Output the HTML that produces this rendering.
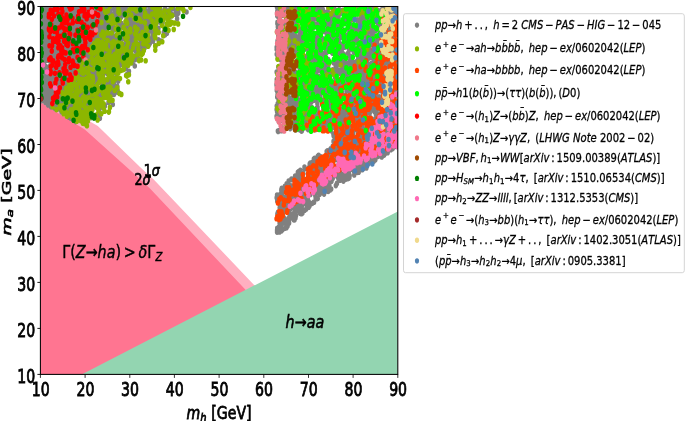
<!DOCTYPE html>
<html lang="en"><head><meta charset="utf-8"><title>Exclusion plot</title>
<style>html,body{margin:0;padding:0;background:#fff}svg{display:block}</style></head>
<body>
<svg width="685" height="421" viewBox="0 0 685 421" font-family="'DejaVu Sans', 'Liberation Sans', sans-serif">
<rect width="685" height="421" fill="#fff"/>
<defs><clipPath id="ax"><rect x="40.4" y="6.5" width="357.4" height="367.9"/></clipPath></defs>
<g clip-path="url(#ax)">
<polygon points="40.4,93.0 97.8,125.9 140.0,166.9 154.2,180.0 254.3,285.2 264.3,295.7 120.0,374.4 40.4,374.4" fill="#ffafc0"/>
<polygon points="40.4,102.3 84.8,129.5 129.9,170.0 150.0,188.5 245.5,289.8 255.5,300.4 120.0,374.4 40.4,374.4" fill="#ff7591"/>
<polygon points="81.6,374.4 397.8,211.6 397.8,374.4" fill="#93d5b1"/>
<g fill="none" stroke-width="5.6" stroke-linecap="round" transform="scale(0.800,1)">
<path d="M199.4 16.2h0M93.7 30.9h0M108.1 77.5h0M51.5 100.3h0M108.7 67.1h0M104.0 50.2h0M99.4 32.4h0M136.0 42.1h0M147.4 49.9h0M156.8 50.6h0M170.0 19.8h0M91.8 74.0h0M81.3 17.7h0M168.1 46.5h0M58.9 37.5h0M57.4 25.3h0M149.4 65.4h0M140.0 28.6h0M149.2 59.1h0M145.9 89.0h0M98.0 64.0h0M52.8 68.2h0M87.4 44.4h0M89.0 65.4h0M121.5 48.3h0M80.2 33.2h0M101.9 48.5h0M68.1 108.1h0M154.4 36.0h0M119.9 54.2h0M165.4 23.9h0M61.9 81.0h0M124.9 32.0h0M112.5 51.4h0M79.3 73.3h0M123.4 24.1h0M173.0 11.7h0M79.5 9.4h0M135.0 74.1h0M96.5 20.7h0M69.1 50.6h0M91.8 37.9h0M179.5 15.3h0M108.2 28.5h0M177.6 26.3h0M75.8 30.5h0M78.4 72.6h0M87.5 93.7h0M85.2 10.5h0M173.7 10.0h0M122.7 14.0h0M96.5 24.5h0M112.4 40.0h0M55.3 46.7h0M122.0 38.0h0M56.3 38.1h0M74.1 8.0h0M176.8 14.9h0M132.7 30.3h0M151.1 16.7h0M116.6 71.4h0M79.5 69.8h0M51.5 76.4h0M76.8 12.7h0M130.9 13.8h0M171.2 12.3h0M149.0 7.2h0M94.0 23.0h0M88.6 75.3h0M120.2 88.0h0M84.9 7.9h0M115.8 49.7h0M102.6 48.4h0M135.8 6.5h0M149.5 38.7h0M150.6 50.1h0M63.7 18.5h0M133.1 7.8h0M98.7 19.1h0M114.4 45.3h0M127.0 31.3h0M89.5 84.5h0M91.4 16.5h0M72.1 15.9h0M164.7 40.2h0M85.8 30.0h0M62.4 40.3h0M129.5 18.5h0M190.7 16.7h0M72.2 71.6h0M59.5 18.4h0M56.3 52.0h0M54.4 77.2h0M98.2 51.8h0M86.5 29.2h0M159.4 41.0h0M58.0 36.6h0M163.9 25.1h0M82.4 48.5h0M180.7 36.8h0M54.5 69.0h0M153.9 25.7h0M167.8 24.8h0M87.2 71.7h0M160.8 30.7h0M58.1 51.0h0M60.2 72.7h0M115.5 78.3h0M111.6 46.7h0M170.8 47.0h0M110.7 91.5h0M75.3 24.9h0M88.4 54.0h0M173.1 34.8h0M167.5 35.7h0M177.4 50.7h0M171.8 19.6h0M208.7 33.2h0M113.3 38.8h0M81.5 99.0h0M175.5 43.0h0M91.7 114.2h0M123.3 22.3h0M99.0 46.5h0M138.1 23.0h0M69.9 74.8h0M123.6 11.5h0M122.9 23.4h0M121.9 64.0h0M91.8 78.2h0M98.0 62.7h0M113.8 81.1h0M66.2 83.0h0M161.7 24.4h0M108.0 7.5h0M197.0 6.4h0M75.7 37.6h0M76.1 78.3h0M75.6 67.7h0M102.2 20.1h0M109.3 25.8h0M86.4 62.2h0M134.0 91.0h0M187.0 8.4h0M69.1 73.5h0M121.7 35.1h0M62.8 42.8h0M150.1 61.3h0M87.1 107.2h0M101.6 61.3h0M153.4 11.9h0M85.9 32.2h0M174.2 22.9h0M126.3 96.8h0M173.6 19.5h0M85.9 58.4h0M196.3 14.4h0M196.0 8.1h0M135.9 41.4h0M123.1 114.1h0M131.1 7.7h0M56.9 85.8h0M124.9 67.8h0M155.7 36.5h0M123.7 12.5h0M124.9 22.9h0M77.0 95.4h0M78.9 42.4h0M187.3 25.9h0M74.2 42.5h0M68.1 98.9h0M84.4 27.6h0M136.2 72.4h0M87.1 101.6h0M92.2 73.4h0M63.5 12.3h0M56.8 60.4h0M110.8 56.0h0M110.4 72.4h0M137.9 92.9h0M97.8 39.2h0M126.2 24.2h0M94.1 14.8h0M74.5 39.1h0M56.8 20.7h0M147.1 90.4h0M74.1 91.2h0M84.4 81.6h0M85.8 38.0h0M101.5 8.0h0M151.7 45.6h0M104.8 76.7h0M149.6 28.3h0M126.5 51.8h0M202.3 13.8h0M84.9 78.8h0M76.7 40.7h0M72.2 11.6h0M94.8 110.5h0M90.4 95.1h0M58.3 76.3h0M111.0 38.0h0M165.7 30.9h0M63.2 31.4h0M95.9 19.7h0M139.8 35.5h0M196.6 11.8h0M191.8 33.4h0M108.4 74.8h0M82.7 27.7h0M82.3 113.1h0M113.8 60.2h0M80.3 8.6h0M68.1 48.0h0M161.0 57.0h0M104.6 30.1h0M133.7 50.8h0M130.2 64.7h0M114.8 73.1h0M90.6 96.5h0M156.4 33.7h0M63.0 42.8h0M53.5 50.8h0M140.5 7.7h0M188.8 10.1h0M151.0 15.6h0M190.8 31.4h0M66.8 41.4h0M58.1 54.1h0M137.4 8.0h0M64.7 19.3h0M88.0 96.4h0M88.5 118.2h0M194.6 11.7h0M156.8 35.9h0M139.9 14.2h0M169.6 50.5h0M180.7 6.5h0M157.7 13.5h0M123.5 32.0h0M147.2 60.0h0M115.4 52.5h0M123.6 22.0h0M201.3 41.0h0M136.4 13.7h0M57.1 66.3h0M125.3 80.3h0M157.6 40.1h0M162.6 42.9h0M131.3 34.6h0M85.7 50.2h0M106.7 96.8h0M106.7 26.4h0M118.2 39.7h0M136.4 21.2h0M121.9 54.4h0M162.1 51.9h0M122.9 36.6h0M101.7 106.0h0M145.3 56.2h0M182.1 21.8h0M110.6 92.6h0M145.4 9.3h0M88.5 92.1h0M131.2 33.9h0M141.4 27.1h0M122.2 26.2h0M89.2 28.7h0M111.3 23.7h0M61.4 85.5h0M136.0 47.5h0M62.5 66.0h0M97.8 109.6h0M122.8 68.1h0M172.8 22.5h0M142.0 40.7h0M151.2 56.0h0M89.5 31.6h0M106.0 34.3h0M109.3 16.8h0M99.7 69.4h0M63.5 104.2h0M131.7 55.7h0M88.0 106.7h0M76.8 19.9h0M112.2 41.0h0M169.7 35.4h0M116.5 15.8h0M99.8 45.4h0M135.2 34.0h0M76.6 16.6h0M77.0 59.2h0M83.9 77.2h0M104.9 37.9h0M55.5 51.2h0M85.8 16.5h0M82.2 14.5h0M169.0 20.3h0M128.5 45.4h0M130.7 28.4h0M207.3 13.5h0M178.8 37.3h0M165.8 46.0h0M198.8 21.8h0M91.6 22.7h0M72.5 15.4h0M111.0 59.1h0M56.7 49.8h0M168.0 45.9h0M167.2 42.1h0M115.0 40.1h0M149.0 21.1h0M54.1 37.5h0M189.5 20.7h0M131.3 11.8h0M115.1 100.9h0M75.9 53.4h0M85.9 11.6h0M108.9 105.8h0M136.4 41.4h0M104.0 8.4h0M223.0 10.3h0M127.9 75.4h0M51.1 71.7h0M97.6 22.2h0M77.9 13.9h0M91.3 36.7h0M101.9 28.1h0M102.1 56.6h0M73.1 11.8h0M149.6 65.3h0M57.3 35.4h0M156.1 47.5h0M213.1 9.5h0M66.7 15.9h0M103.2 10.1h0M110.6 15.7h0M106.7 91.4h0M172.5 20.4h0M123.1 63.5h0M184.6 41.6h0M124.9 16.7h0M55.6 85.9h0M104.0 45.0h0M105.8 33.5h0M109.2 85.2h0M65.3 52.8h0M92.6 73.2h0M102.6 55.1h0M83.7 16.0h0M139.9 91.4h0M102.9 22.8h0M160.4 43.8h0M147.8 46.1h0M64.9 28.7h0M74.5 38.7h0M164.7 12.1h0M51.6 12.2h0M150.7 14.6h0M121.3 70.0h0M64.6 30.0h0M101.4 81.2h0M140.7 29.2h0M137.5 72.6h0M58.5 14.5h0M125.8 34.8h0M79.9 75.8h0M66.2 10.1h0M112.6 36.8h0M163.6 6.7h0M156.2 62.6h0M88.5 10.7h0M82.4 76.3h0M127.9 41.1h0M102.3 23.8h0M122.0 44.9h0M154.5 49.6h0M182.3 15.9h0M71.0 37.9h0M69.9 74.2h0M98.4 85.8h0M83.8 15.8h0M59.0 38.5h0M114.3 97.0h0M87.5 47.6h0M64.0 44.8h0M83.4 91.5h0M134.5 71.6h0M77.6 56.7h0M118.4 89.5h0M72.8 94.1h0M110.2 44.8h0M81.7 82.1h0M82.3 42.1h0M77.2 7.6h0M105.1 18.7h0M60.6 91.5h0M92.1 53.1h0M75.5 108.9h0M118.9 90.7h0M163.2 49.5h0M104.4 78.5h0M57.0 92.2h0M114.1 52.5h0M99.6 110.2h0M128.6 14.3h0M99.1 51.5h0M77.3 111.0h0M134.6 73.7h0M78.5 77.7h0M141.8 55.2h0M75.8 52.8h0M75.2 93.4h0M70.3 97.7h0M68.3 108.0h0M114.2 76.1h0M56.8 102.5h0M167.9 8.4h0M63.4 7.9h0M138.6 47.1h0M80.6 83.7h0M101.6 48.5h0M137.5 65.8h0M122.1 44.8h0M122.5 50.7h0M141.0 104.5h0M124.6 16.4h0M62.2 35.8h0M158.9 17.1h0M94.7 98.1h0M95.4 111.8h0M103.9 42.2h0M108.9 20.3h0M122.3 9.2h0M112.6 34.8h0M172.7 35.3h0M86.3 101.7h0M70.9 60.6h0M107.4 110.1h0M128.1 40.1h0M161.5 49.9h0M99.2 83.6h0M117.4 78.0h0M80.1 43.7h0M186.2 20.9h0M65.9 97.6h0M89.4 40.2h0M99.2 13.0h0M89.0 8.9h0M105.5 39.8h0M166.7 31.6h0M58.6 49.2h0M150.6 17.4h0M166.0 31.5h0M115.0 110.7h0M113.5 113.6h0M51.3 56.0h0M57.3 21.6h0M156.1 39.2h0M65.1 89.3h0M89.4 56.3h0M114.5 76.4h0M64.0 97.0h0M56.4 87.4h0M134.1 16.6h0M89.8 42.7h0M186.5 10.2h0M52.3 70.4h0M97.5 81.9h0M222.9 12.9h0M68.4 26.7h0M111.6 30.0h0M55.9 53.1h0M55.4 50.5h0M74.7 93.6h0M69.8 56.0h0M80.4 23.3h0M114.4 59.0h0M67.1 41.2h0M155.5 38.6h0M169.1 59.6h0M69.8 76.0h0M100.5 26.5h0M173.5 17.7h0M53.4 35.1h0M63.3 15.3h0M137.4 54.2h0M84.5 80.8h0M57.3 47.5h0M97.4 107.3h0M127.8 86.2h0M110.3 58.8h0M52.1 70.5h0M135.5 83.3h0M88.8 14.4h0M187.3 13.3h0M111.3 35.6h0M104.3 85.7h0M147.3 55.7h0M69.0 45.7h0M59.3 49.2h0M161.7 17.1h0M61.0 11.9h0M148.7 46.0h0M134.1 23.4h0M74.5 10.5h0M79.6 109.4h0M128.7 21.7h0M190.6 36.1h0M161.1 30.6h0M87.8 75.9h0M140.9 44.4h0M132.8 27.6h0M61.4 23.2h0M99.0 43.0h0M54.0 14.7h0M123.7 95.7h0M107.3 101.6h0M83.7 27.9h0M139.9 61.4h0M105.7 97.4h0M114.6 34.6h0M60.9 93.2h0M123.3 26.3h0M100.1 24.8h0M69.2 85.6h0M84.7 86.0h0M89.4 93.2h0M89.0 33.4h0M150.2 57.0h0M106.3 40.1h0M75.1 8.0h0M77.7 47.0h0M53.0 90.0h0M101.1 51.7h0M76.3 84.6h0M86.7 58.5h0M131.6 62.5h0M90.0 77.2h0M127.1 30.1h0M97.8 110.9h0M109.9 82.9h0M126.2 59.5h0M68.6 60.4h0M76.8 86.6h0M56.1 14.9h0M108.3 19.3h0M53.4 49.9h0M91.5 15.8h0M67.1 27.3h0M164.2 57.7h0M111.6 33.2h0M71.4 102.5h0M206.2 35.0h0M158.4 40.0h0M76.9 112.0h0M154.5 65.2h0M132.7 42.6h0M125.4 43.4h0M148.6 61.3h0M72.4 84.1h0M158.7 74.5h0M99.8 39.1h0M131.9 80.1h0M149.6 26.7h0M139.8 25.0h0M105.2 101.1h0M111.2 13.3h0M166.6 48.2h0M64.7 51.8h0M145.9 43.0h0M60.0 8.6h0M155.9 31.9h0M86.1 38.3h0M109.0 52.6h0M113.6 25.6h0M159.9 34.2h0M122.0 62.2h0M73.3 33.0h0M106.9 91.8h0M106.0 35.8h0M66.4 14.8h0M73.3 88.1h0M194.5 45.8h0M78.8 34.0h0M149.1 49.7h0M107.5 88.8h0M61.8 21.4h0M138.8 8.1h0M69.2 26.9h0M162.3 22.3h0M61.5 101.6h0M187.9 20.2h0M88.3 56.4h0M101.5 70.2h0M112.9 117.0h0M171.0 13.4h0M87.6 73.1h0M120.0 88.3h0M176.3 44.0h0M106.2 25.7h0M67.2 26.7h0M139.3 85.1h0M135.0 41.6h0M124.3 47.3h0M162.3 30.2h0M115.4 99.6h0M128.9 59.9h0M168.3 25.6h0M143.7 54.2h0M75.0 36.0h0M107.6 13.4h0M213.2 6.4h0M167.5 36.1h0M67.2 89.4h0M63.2 56.6h0M108.7 66.2h0M75.1 14.6h0M74.5 15.0h0M97.9 18.3h0M128.8 44.0h0M81.4 95.0h0M142.1 81.7h0M145.0 55.2h0M67.2 84.4h0M148.6 33.8h0M100.7 82.8h0M112.0 97.1h0M66.8 11.3h0M90.2 10.1h0M66.6 82.6h0M106.8 109.2h0M99.7 57.8h0M50.6 73.5h0M124.9 118.3h0M62.0 87.9h0M119.3 76.0h0M69.5 76.7h0M76.8 22.5h0M124.3 98.8h0M150.7 55.3h0M105.0 119.9h0M120.4 62.9h0M113.3 115.3h0M86.2 117.2h0M221.4 18.7h0M165.3 22.5h0M58.7 86.6h0M68.1 75.7h0M60.2 104.9h0M147.3 18.7h0M59.4 7.9h0M95.9 83.4h0M74.2 68.2h0M60.1 15.3h0M83.4 65.7h0M188.5 14.0h0M117.2 40.5h0M65.0 93.0h0M53.8 47.0h0M138.8 35.0h0M150.8 58.4h0M168.5 66.0h0M125.8 81.8h0M140.1 22.2h0M129.8 87.7h0M120.7 27.3h0M104.5 79.6h0M97.0 22.8h0M79.0 111.0h0M135.0 70.8h0M106.8 66.0h0M211.2 16.0h0M116.5 69.5h0M157.0 52.4h0M135.7 72.3h0M203.3 20.4h0M172.4 7.3h0M113.1 41.2h0M101.2 75.2h0M148.2 53.9h0M62.2 85.2h0M176.9 27.8h0M66.6 11.6h0M161.1 27.5h0M169.0 47.4h0M136.3 69.4h0M93.7 19.7h0M139.6 49.7h0M193.6 16.6h0M120.4 80.5h0M67.4 61.7h0M154.7 25.7h0M100.7 17.3h0M184.4 41.7h0M123.4 37.5h0M112.3 11.4h0M144.3 46.9h0M152.4 26.8h0M183.8 32.4h0M180.7 25.6h0M124.2 8.7h0M180.5 28.1h0M116.8 42.5h0M167.1 26.4h0M138.7 79.8h0M92.7 103.0h0M64.7 84.4h0M118.6 98.4h0M70.7 70.6h0M74.9 97.3h0M221.7 14.1h0M74.0 109.0h0M120.0 10.5h0M73.1 79.0h0M111.7 107.7h0M103.4 13.1h0M120.2 11.1h0M77.4 85.1h0M161.8 16.2h0M105.8 11.3h0M76.2 13.9h0M106.6 120.3h0M167.9 30.6h0M93.0 16.5h0M121.6 6.7h0M126.4 58.6h0M54.8 17.5h0M135.7 27.1h0M203.7 16.0h0M95.4 8.3h0M179.7 37.9h0M139.7 47.5h0M86.8 36.1h0M67.8 98.6h0M95.5 71.2h0M204.2 35.5h0M86.4 63.5h0M184.4 25.9h0M179.6 11.7h0M149.8 33.4h0M115.4 82.3h0M113.3 111.5h0M80.3 107.3h0M121.3 92.7h0M131.4 52.1h0M214.0 13.6h0M181.1 15.0h0M92.3 22.2h0M148.0 9.0h0M125.9 26.7h0M67.0 13.6h0M216.7 8.1h0M135.2 42.6h0M118.3 7.0h0M147.6 10.6h0M87.9 13.5h0M109.1 71.3h0M114.9 84.1h0M94.4 79.4h0M77.1 33.6h0M88.4 94.9h0M70.9 40.3h0M70.4 30.7h0M117.5 98.5h0M153.5 50.1h0M78.6 14.6h0M81.1 43.9h0M86.9 66.4h0M70.0 109.0h0M52.7 15.0h0M187.8 16.8h0M99.8 50.1h0M138.3 79.9h0M180.3 12.1h0M63.8 82.1h0M95.5 35.2h0M70.2 82.6h0M88.0 90.3h0M98.1 99.4h0M111.1 27.0h0M135.1 18.6h0M106.8 34.5h0M65.0 47.5h0M103.6 105.2h0M180.3 20.6h0M174.5 34.7h0M70.7 106.2h0M85.2 15.2h0M109.8 70.4h0M104.6 94.1h0M107.6 96.2h0M204.7 32.4h0M117.5 41.8h0M118.7 39.2h0M172.1 27.9h0M115.9 50.5h0M87.1 41.2h0M76.9 100.0h0M63.3 101.7h0M137.2 50.9h0M86.6 36.5h0M153.2 55.5h0M66.0 22.4h0M62.6 89.0h0M88.9 84.1h0M130.2 69.5h0M54.6 48.7h0M70.4 68.6h0M101.8 70.8h0M93.0 14.4h0M215.3 6.2h0M208.7 17.2h0M112.3 59.8h0M55.2 51.4h0M176.6 22.6h0M144.4 51.6h0M139.0 6.6h0M101.2 63.8h0M142.8 47.1h0M114.9 37.1h0M77.6 67.2h0M82.1 70.8h0M102.4 35.0h0M122.0 47.1h0M51.0 34.3h0M103.5 14.2h0M65.7 73.1h0M111.1 56.9h0M112.5 6.8h0M94.7 77.6h0M157.8 22.6h0M93.2 55.7h0M81.4 35.6h0M91.9 23.2h0M123.3 23.2h0M114.1 81.9h0M62.2 14.6h0M128.5 71.0h0M105.6 100.7h0M124.3 88.8h0M114.3 7.4h0M122.9 59.3h0M169.4 36.1h0M146.0 69.6h0M88.4 24.8h0M203.2 22.7h0M187.5 18.1h0M213.5 14.2h0M80.7 63.7h0M99.4 53.3h0M100.0 110.8h0M73.6 45.0h0M126.7 31.5h0M54.3 23.8h0M75.2 24.1h0M57.4 98.2h0M87.6 20.2h0M101.9 25.0h0M139.2 16.9h0M83.6 47.2h0M116.5 23.9h0M152.5 11.5h0M97.8 18.2h0M189.1 29.5h0M63.6 92.3h0M102.8 74.7h0M133.9 39.5h0M149.9 57.5h0M98.1 112.8h0M101.4 110.8h0M120.3 76.2h0M134.5 23.3h0M137.3 11.6h0M89.2 117.1h0M119.3 26.3h0M60.8 86.2h0M86.3 13.6h0M130.8 88.5h0M122.2 9.3h0M82.6 55.8h0M53.9 28.5h0M94.6 121.6h0M149.3 25.2h0M55.0 32.2h0M102.1 67.8h0M106.2 42.1h0M94.2 45.2h0M59.5 30.9h0M130.5 10.8h0M80.0 7.6h0M88.2 51.3h0M81.6 77.7h0M89.2 102.0h0M99.4 78.3h0M142.5 46.7h0M139.4 15.8h0M128.4 16.4h0M81.4 21.9h0M107.2 85.8h0M101.4 96.4h0M98.2 15.1h0M200.8 9.8h0M72.4 46.1h0M89.9 47.9h0M151.6 12.4h0M110.5 18.0h0M96.6 31.2h0M122.2 7.7h0M146.9 24.3h0M180.0 9.2h0M137.2 80.6h0M130.3 63.8h0M96.4 29.2h0M233.2 12.0h0M63.7 28.9h0M104.0 81.7h0M129.1 107.5h0M165.0 35.8h0M68.0 105.1h0M70.3 40.3h0M126.2 41.5h0M95.3 26.6h0M56.6 20.8h0M137.2 40.8h0M62.6 26.3h0M52.1 96.4h0M113.0 44.9h0M89.5 75.8h0M53.1 44.9h0M65.1 79.1h0M121.5 41.8h0M113.2 66.5h0M169.5 25.5h0M117.2 56.7h0M67.1 20.6h0M95.0 78.1h0M109.7 51.5h0M116.2 98.1h0M88.2 38.8h0M58.8 35.6h0M116.3 83.2h0M92.4 108.5h0M138.4 7.2h0M51.8 49.1h0M107.2 32.2h0M68.9 32.8h0M164.2 20.4h0M157.2 25.3h0M183.7 16.4h0M109.4 45.6h0M96.7 85.5h0M106.5 25.1h0M84.2 19.0h0M144.6 29.5h0M104.4 42.3h0M117.6 18.5h0M116.1 62.4h0M107.6 52.3h0M72.4 98.2h0M103.9 51.9h0M150.6 52.1h0M91.6 68.1h0M66.5 75.6h0M134.8 49.6h0M188.7 7.1h0M53.8 20.2h0M98.0 36.5h0M106.6 37.6h0M114.4 65.3h0M139.4 57.2h0M210.7 19.8h0M119.1 41.6h0M140.5 37.5h0M124.3 8.0h0M173.3 9.2h0M114.1 58.6h0M71.8 49.5h0M57.7 98.5h0M152.5 13.3h0M74.6 30.1h0M133.6 60.9h0M187.4 24.3h0M153.8 52.6h0M60.0 74.3h0M114.6 94.9h0M51.6 51.1h0M95.0 55.7h0M114.2 7.1h0M71.3 35.6h0M132.5 66.4h0M105.1 88.8h0M119.7 75.9h0M140.7 67.5h0M131.7 66.5h0M157.5 49.5h0M101.8 14.8h0M97.6 55.7h0M67.6 67.8h0M209.3 13.4h0M192.0 21.5h0M63.2 28.4h0M139.5 25.8h0M208.8 10.8h0M57.3 97.0h0M106.4 64.8h0M102.3 40.7h0M97.5 109.4h0M98.5 16.8h0M172.4 6.3h0M124.6 19.8h0M199.5 9.4h0M142.5 82.2h0M75.0 56.5h0M82.4 25.9h0M145.9 8.9h0M78.5 79.0h0M78.4 29.2h0M121.0 31.0h0M136.0 101.9h0M84.4 31.9h0M145.7 59.4h0M94.8 42.1h0M81.6 21.8h0M62.8 48.1h0M175.6 40.9h0M172.2 35.1h0M135.8 26.4h0M105.1 9.2h0M151.6 39.5h0M110.5 16.2h0M96.2 81.7h0M84.5 99.6h0M99.9 68.0h0M107.9 38.6h0M160.8 27.0h0M124.1 100.4h0M92.8 93.9h0M73.9 69.6h0M63.0 66.1h0M95.0 15.2h0M145.1 15.8h0M190.4 6.8h0M158.8 28.9h0M150.6 51.1h0M115.1 27.4h0M68.3 99.8h0M89.1 104.1h0M123.9 27.9h0M80.8 78.7h0M166.6 14.3h0M118.9 34.6h0M76.1 55.7h0M100.9 22.3h0M74.0 81.2h0M53.2 100.1h0M110.6 62.3h0M148.4 44.6h0M90.8 25.7h0M90.6 47.3h0M127.7 60.8h0M58.0 69.1h0M157.9 7.7h0M119.6 34.8h0M95.4 72.7h0M85.6 13.1h0M112.6 24.6h0M51.1 89.2h0M201.4 23.1h0M178.6 20.6h0M63.9 64.3h0M110.7 88.6h0M90.9 18.8h0M72.6 62.8h0M174.5 36.6h0M67.2 67.5h0M85.0 8.5h0M197.6 21.4h0M146.5 19.4h0M167.0 36.1h0M88.5 43.9h0M72.8 53.9h0M102.3 49.0h0M72.5 73.2h0M70.9 72.5h0M193.0 11.1h0M121.7 55.3h0M90.4 86.4h0M161.9 44.3h0M58.3 35.0h0M117.0 30.6h0M189.9 26.2h0M106.0 100.4h0M71.1 87.1h0M54.8 44.3h0M183.3 14.2h0M74.7 85.0h0M151.3 17.2h0M114.9 110.9h0M147.2 92.3h0M172.6 58.3h0M146.9 30.1h0M63.2 87.6h0M73.8 93.8h0M161.5 31.7h0M191.6 9.7h0M113.9 75.6h0M140.7 34.5h0M177.5 10.1h0M55.3 93.3h0M67.5 7.5h0M84.9 53.7h0M188.1 12.5h0M135.8 59.2h0M70.2 54.1h0M122.3 53.9h0M79.3 20.9h0M100.1 14.4h0M111.5 64.0h0M161.1 56.1h0M100.4 19.8h0M122.5 72.1h0M115.7 7.1h0M124.6 47.6h0M155.0 7.3h0M77.8 61.6h0M97.1 118.7h0M79.1 92.5h0M116.9 86.9h0M120.1 22.0h0M69.0 12.3h0M67.4 12.2h0M171.4 14.6h0M107.5 74.7h0M80.3 27.0h0M147.8 81.1h0M121.0 40.7h0M81.3 60.3h0M103.4 68.7h0M85.8 69.3h0M88.4 81.1h0M160.6 23.3h0M104.2 32.6h0M97.0 27.7h0M69.4 72.1h0M112.8 88.6h0M54.6 31.7h0M143.2 47.2h0M166.2 24.0h0M60.0 86.8h0M106.9 57.9h0M83.1 65.5h0M137.1 45.7h0M83.3 32.6h0M62.7 78.5h0M148.7 58.7h0M154.9 28.3h0M143.1 60.7h0M118.2 36.3h0M98.1 65.8h0M107.5 99.0h0M60.1 19.4h0M99.5 65.4h0M52.1 30.3h0M92.9 98.5h0M144.9 38.5h0M103.3 108.9h0M105.9 84.0h0M70.7 86.5h0M86.9 54.8h0M63.2 42.9h0M124.0 66.1h0M87.3 113.9h0M115.1 99.6h0M55.0 8.2h0M64.4 87.2h0M66.6 94.7h0M100.9 33.7h0M52.3 72.0h0M67.9 76.2h0M115.9 21.7h0M68.8 19.9h0M69.7 28.5h0M181.4 25.5h0M115.1 89.4h0M123.5 49.2h0M107.5 87.7h0M62.5 54.0h0M106.4 43.4h0M131.9 24.0h0M59.3 21.1h0M93.0 112.3h0M146.2 13.9h0M113.6 75.5h0M95.8 49.7h0M175.4 10.7h0M208.2 15.7h0M101.0 89.7h0M65.6 41.3h0M130.1 66.3h0M76.7 94.5h0M196.7 6.7h0M84.0 110.0h0M108.2 36.3h0M175.6 8.1h0M79.6 32.7h0M63.2 96.5h0M53.1 49.8h0M116.3 68.9h0M168.7 50.3h0M101.9 84.9h0M125.2 19.0h0M98.9 57.8h0M84.5 63.6h0M196.5 18.5h0M93.4 74.2h0M100.1 44.6h0M136.6 12.6h0M76.7 91.0h0M102.2 51.3h0M63.9 76.7h0M122.7 23.3h0M107.2 89.3h0M75.5 102.5h0M54.3 23.0h0M107.3 11.7h0M181.7 17.6h0M87.9 13.0h0M118.5 84.1h0M135.6 17.6h0M107.3 100.6h0M176.1 44.5h0M139.8 81.9h0M104.0 87.7h0M54.2 31.5h0M79.9 52.7h0M96.0 23.7h0M141.1 53.4h0M89.1 54.8h0M129.3 22.1h0M100.9 81.5h0M214.0 15.9h0M125.6 31.5h0M105.4 72.7h0M121.0 79.5h0M123.7 81.1h0M136.5 7.2h0M159.3 57.1h0M93.0 106.3h0M101.9 31.3h0M101.7 86.1h0M100.4 95.0h0M149.5 25.3h0M135.7 48.6h0M156.2 30.0h0M73.7 13.9h0M81.2 28.4h0M141.1 85.5h0M92.2 9.2h0M159.6 27.7h0M128.3 49.1h0M83.7 25.8h0M81.4 92.4h0M193.5 36.4h0M183.8 27.9h0M57.5 39.6h0M142.5 94.5h0M102.2 40.5h0M56.3 55.4h0M115.4 53.0h0M149.1 43.7h0M87.9 49.7h0M126.8 27.5h0M189.1 17.6h0M98.7 20.8h0M219.5 11.2h0M186.1 32.1h0M166.8 39.2h0M118.8 20.3h0M93.2 20.8h0M56.5 75.0h0M126.1 68.7h0M105.1 60.0h0M172.3 37.2h0M168.5 55.9h0M122.7 36.1h0M85.3 68.9h0M52.5 85.2h0M164.6 6.6h0M97.2 11.2h0M91.9 101.6h0M100.9 9.2h0M131.9 20.9h0M72.2 31.1h0M187.1 27.8h0M171.1 25.8h0M61.9 31.9h0M97.3 70.0h0M183.8 22.8h0M100.4 107.7h0M50.9 31.7h0M88.1 33.8h0M91.3 101.3h0M64.8 69.8h0M97.9 44.9h0M163.1 30.2h0M136.9 79.4h0M94.4 62.8h0M101.3 22.1h0M89.0 51.1h0M131.3 48.4h0M169.4 36.5h0M171.6 31.6h0M110.9 91.9h0M84.4 84.5h0M84.8 82.0h0M105.7 35.5h0M138.7 65.9h0M156.4 7.9h0M70.8 82.0h0M102.7 79.9h0M176.7 11.1h0M123.3 41.5h0M131.7 17.1h0M127.7 86.3h0M87.4 111.6h0M68.5 87.6h0M112.7 9.9h0M138.2 56.6h0M170.8 43.7h0M63.3 79.8h0M124.3 107.6h0M139.7 35.3h0M86.0 100.8h0M62.1 75.5h0M129.5 69.3h0M148.1 9.5h0M92.6 44.6h0M126.6 75.9h0M98.0 90.4h0M95.4 8.3h0M150.0 36.6h0M140.2 74.5h0M60.3 59.3h0M58.9 32.9h0M79.8 44.3h0M142.6 36.5h0M173.9 11.4h0M54.2 34.9h0M97.8 60.1h0M114.0 75.8h0M93.2 51.3h0M51.0 28.4h0M92.3 56.6h0M112.2 75.6h0M134.8 22.6h0M136.4 10.8h0M101.8 52.5h0M142.0 50.0h0M114.3 92.3h0M121.6 24.2h0M225.2 6.4h0M113.6 56.3h0M67.0 70.6h0M110.7 86.2h0M73.4 87.9h0M165.6 62.8h0M79.6 81.4h0M128.4 62.9h0M53.7 20.0h0M76.4 7.4h0M99.2 69.9h0M87.1 96.8h0M162.9 15.6h0M150.1 53.5h0M64.1 86.7h0M71.9 38.9h0M73.9 91.4h0M108.4 59.8h0M110.0 104.2h0M185.9 40.2h0M65.1 47.1h0M71.8 83.2h0M176.5 19.0h0M177.8 28.0h0M66.2 16.3h0M91.2 60.7h0M87.5 74.9h0M152.4 63.6h0M100.5 30.2h0M177.3 41.8h0M103.0 90.2h0M67.9 94.9h0M141.6 49.1h0M61.6 96.4h0M187.9 15.2h0M121.9 49.8h0M140.6 94.3h0M129.5 68.1h0M131.4 23.7h0M115.3 106.8h0M91.5 117.2h0M81.5 56.0h0M69.2 32.6h0M61.0 73.0h0M181.1 10.3h0M97.8 68.1h0M54.0 28.5h0M159.5 26.9h0M95.7 88.7h0M171.3 15.9h0M111.6 100.9h0M114.6 75.0h0M139.5 33.3h0M173.5 52.4h0M181.2 30.6h0M144.9 79.1h0M189.9 16.7h0M112.4 7.2h0M126.4 75.8h0M70.1 60.1h0M195.8 31.7h0M178.3 41.4h0M106.3 17.6h0M143.2 86.8h0M61.4 74.1h0M63.6 76.1h0M94.3 71.3h0M69.5 38.6h0M54.8 74.8h0M129.1 39.0h0M135.3 92.6h0M51.1 52.4h0M66.1 84.9h0M128.6 84.5h0M102.1 70.5h0M102.5 49.6h0M96.3 58.6h0M70.3 41.4h0M173.4 31.1h0M124.4 91.1h0M171.7 55.7h0M68.7 15.9h0M93.7 106.3h0M170.1 25.8h0M100.6 99.5h0M78.6 24.8h0M135.2 52.0h0M198.0 39.8h0M169.8 13.9h0M180.5 16.4h0M70.6 60.1h0M137.2 44.1h0M107.0 53.5h0M167.0 31.9h0M61.1 46.7h0M64.0 62.2h0M132.0 67.0h0M94.7 79.9h0M111.7 7.1h0M158.0 56.1h0M60.1 60.1h0M88.8 52.5h0M98.2 112.1h0M102.2 41.4h0M58.1 102.8h0M103.1 66.8h0M117.1 60.4h0M87.9 88.7h0M184.0 39.0h0M61.5 87.9h0M92.2 119.8h0M106.8 66.3h0M64.9 58.6h0M138.1 9.7h0M60.4 101.9h0M133.1 51.5h0M181.2 17.2h0M134.1 71.9h0M186.9 42.5h0M126.9 102.5h0M78.0 59.3h0M130.6 86.2h0M60.4 102.6h0M67.2 95.8h0M134.8 18.4h0M208.9 12.8h0M89.6 107.3h0M146.7 86.3h0M180.1 28.0h0M162.2 33.7h0M119.7 74.6h0M96.3 88.9h0M63.0 91.5h0M121.4 41.2h0M156.6 14.2h0M82.0 11.9h0M175.6 18.8h0M129.7 94.3h0M51.8 52.7h0M53.6 95.7h0M150.4 7.3h0M107.5 64.1h0M127.6 37.7h0M153.5 60.8h0M58.9 74.2h0M73.2 20.4h0M89.1 19.5h0M122.2 31.2h0M120.4 89.0h0M151.2 54.3h0M63.3 71.6h0M146.1 77.8h0M59.4 84.8h0M52.1 75.3h0M73.8 30.1h0M152.1 26.0h0M67.6 106.0h0M85.8 60.0h0M176.0 24.1h0M112.1 89.8h0M91.7 36.7h0M99.3 107.3h0M113.2 102.0h0M121.4 73.1h0M71.9 27.2h0M160.0 20.4h0M185.8 12.5h0M109.4 28.9h0M52.5 94.9h0M89.3 107.9h0M127.9 35.8h0M64.1 54.4h0M96.8 75.0h0M125.0 107.6h0M108.9 86.5h0M73.6 83.5h0M132.6 58.3h0M125.4 26.7h0M149.3 49.4h0M135.6 102.5h0M140.8 31.6h0M131.9 7.4h0M82.5 113.3h0M67.5 96.1h0M145.4 86.5h0M71.4 46.6h0M126.7 31.3h0M115.4 80.5h0M58.5 57.1h0M124.5 21.1h0M197.6 7.8h0M151.6 23.2h0M180.1 20.0h0M155.3 25.8h0M133.1 43.3h0M52.5 11.6h0M164.7 24.4h0M105.0 102.3h0M127.3 79.2h0M94.2 24.3h0M156.7 15.9h0M116.6 85.4h0M71.9 72.1h0M183.3 26.4h0M76.8 41.6h0M99.1 98.9h0M142.5 63.0h0M111.0 68.0h0M71.2 41.9h0M82.1 86.5h0M134.5 34.8h0M132.0 52.3h0M118.2 18.2h0M190.0 10.1h0M95.4 30.2h0M143.6 11.6h0M93.2 23.8h0M171.8 8.3h0M110.0 42.7h0M54.4 84.9h0M86.0 24.9h0M60.8 82.0h0M69.4 12.0h0M124.1 69.1h0M133.8 97.0h0M139.1 18.0h0M109.4 65.1h0M50.9 32.8h0M101.5 75.5h0M219.2 14.3h0M120.0 42.9h0M70.2 27.1h0M171.5 33.6h0M153.9 45.3h0M61.6 51.6h0M104.2 65.8h0M147.3 32.8h0M57.2 43.1h0M93.6 40.3h0M148.2 8.0h0M83.2 112.6h0M160.0 12.4h0M59.3 26.7h0M57.6 11.6h0M128.7 66.0h0M53.6 83.9h0M66.6 53.2h0M173.9 33.2h0M66.9 78.8h0M121.2 82.0h0M131.9 82.0h0M97.3 18.2h0M99.9 117.5h0M89.6 97.7h0M124.6 59.5h0M113.9 70.6h0M120.8 107.3h0M90.1 36.5h0M96.8 101.1h0M103.3 68.1h0M92.2 49.2h0M93.6 89.0h0M90.0 41.7h0M97.3 41.7h0M131.4 88.9h0M147.1 12.5h0M171.1 38.0h0M61.1 74.8h0M87.4 29.4h0M73.0 63.5h0M102.3 88.5h0M86.2 16.4h0M77.2 11.0h0M178.5 19.8h0M127.9 31.8h0M108.5 6.7h0M144.5 47.6h0M175.7 16.1h0M102.1 76.2h0M96.9 110.3h0M94.2 45.1h0M204.1 16.9h0M82.5 90.2h0M58.7 79.4h0M198.1 28.2h0M58.6 21.4h0M159.2 31.4h0M169.3 56.0h0M91.0 69.0h0M157.0 9.0h0M75.8 90.9h0M119.5 88.2h0M84.7 74.5h0M96.1 45.6h0M138.4 47.6h0M50.7 21.8h0M81.5 58.2h0M85.2 83.6h0M195.6 10.0h0M106.7 18.1h0M171.1 31.0h0M142.1 20.4h0M64.2 17.4h0M52.8 71.4h0M173.4 14.2h0M135.1 46.7h0M113.1 43.3h0M84.7 79.8h0M99.4 41.0h0M84.8 51.5h0M124.2 25.0h0M198.9 9.7h0M162.0 43.8h0M140.0 45.6h0M89.2 98.3h0M56.7 58.9h0M143.4 12.0h0M108.4 8.6h0M131.7 8.1h0M140.4 69.9h0M117.0 106.4h0M105.7 71.4h0M176.1 46.6h0M88.6 19.8h0M127.4 56.8h0M188.3 30.1h0M191.4 41.1h0M124.9 69.2h0M98.1 64.0h0M109.4 68.3h0M167.2 32.9h0M75.8 86.0h0M130.0 17.2h0M144.5 73.1h0M112.1 94.8h0M136.6 9.9h0M132.3 72.7h0M126.1 78.2h0M85.8 33.3h0M92.5 55.0h0M68.2 26.8h0M131.3 54.1h0M69.0 18.7h0M143.7 18.3h0M190.4 21.0h0M110.1 68.9h0M82.7 45.7h0M119.9 28.2h0M82.4 97.2h0M69.0 107.2h0M192.8 25.9h0M114.6 82.6h0M76.4 61.1h0M112.4 49.4h0M84.0 104.1h0M90.1 77.2h0M72.3 38.1h0M170.7 20.1h0M120.6 10.4h0M165.6 44.8h0M86.4 43.3h0M95.2 105.8h0M180.9 47.7h0M85.5 60.7h0M69.3 88.3h0M149.7 18.2h0M171.4 56.1h0M159.8 24.8h0M121.4 53.9h0M204.0 19.2h0M146.8 29.0h0M122.9 76.0h0M191.3 14.8h0M57.9 18.0h0M139.6 19.1h0M122.5 32.7h0M149.8 56.7h0M68.7 32.0h0M50.7 14.4h0M147.3 19.3h0M85.4 37.5h0M102.6 87.3h0M186.2 44.8h0M78.4 25.5h0M50.9 51.2h0M174.0 35.6h0M179.3 36.4h0M89.2 16.1h0M74.3 109.1h0M100.7 10.4h0M63.2 24.7h0M68.1 87.0h0M153.4 35.9h0M51.0 97.0h0M124.2 109.5h0M98.1 60.4h0M131.2 105.9h0M148.2 33.9h0M126.5 31.2h0M100.9 90.2h0M188.3 38.9h0M82.8 87.6h0M59.3 49.3h0M102.8 36.8h0M54.0 16.5h0M126.1 50.6h0M119.8 62.6h0M76.8 107.0h0M122.7 50.6h0M84.0 27.1h0M117.6 79.0h0M143.0 13.9h0M51.5 26.3h0M118.2 22.3h0M157.4 68.7h0M98.4 15.7h0M91.6 119.6h0M76.9 23.9h0M106.8 50.5h0M108.5 72.1h0M74.6 75.7h0M153.3 10.0h0M71.0 12.3h0M88.7 107.1h0M67.8 82.0h0M116.4 43.8h0M53.9 23.5h0M96.4 43.5h0M129.6 69.3h0M193.4 13.7h0M70.0 91.5h0M176.8 38.6h0M96.4 92.3h0M91.8 52.8h0M75.1 45.9h0M82.3 101.6h0M113.7 30.8h0M91.1 32.5h0M68.3 101.1h0M108.2 40.0h0M101.2 41.3h0M148.4 14.2h0M81.4 12.2h0M128.7 76.6h0M55.5 23.1h0M164.4 9.2h0M102.7 45.0h0M53.1 28.7h0M74.5 98.7h0M113.4 19.8h0M55.4 12.9h0M124.1 16.3h0M127.6 97.3h0M112.6 84.1h0M98.5 66.4h0M104.1 79.5h0M114.3 19.4h0M103.1 102.0h0M66.6 35.1h0M112.5 32.5h0M118.5 103.0h0M131.3 62.6h0M92.5 60.1h0M101.6 54.7h0M83.0 110.2h0M110.6 74.7h0M94.2 75.2h0M168.3 30.8h0M163.5 35.1h0M134.7 12.0h0M177.3 28.7h0M74.6 17.1h0M99.0 75.3h0M63.1 57.2h0M80.5 30.5h0M74.4 89.9h0M136.2 39.2h0M125.5 70.1h0M88.1 74.0h0M67.6 14.8h0M62.6 31.9h0M109.9 31.7h0M129.3 39.4h0M125.5 12.5h0M108.7 112.1h0M197.7 6.7h0M83.0 62.3h0M88.3 6.6h0M139.3 41.3h0M170.2 13.2h0M157.9 45.6h0M180.1 44.2h0M124.7 40.1h0M102.5 70.8h0M156.7 44.6h0M104.7 107.8h0M77.1 98.5h0M159.9 34.4h0M124.2 93.2h0M177.2 27.6h0M84.7 12.9h0M79.7 77.0h0M72.3 66.6h0M172.7 10.8h0M65.2 68.7h0M101.6 88.5h0M119.9 59.7h0M108.2 62.0h0M131.0 27.8h0M75.6 52.0h0M114.0 117.6h0M99.9 64.3h0M161.6 40.2h0M107.9 45.9h0M161.2 30.5h0M88.5 58.8h0M117.0 117.6h0M169.3 7.8h0M135.1 62.1h0M170.8 28.2h0M104.9 57.8h0M129.4 90.6h0M124.4 98.7h0M106.6 30.0h0M129.5 13.0h0M206.5 8.3h0M116.0 88.3h0M70.5 104.7h0M126.7 35.0h0M72.8 53.7h0M147.1 55.8h0M96.4 80.7h0M72.9 17.1h0M106.1 14.9h0M116.6 24.2h0M105.4 67.4h0M133.5 83.5h0M71.4 53.4h0M62.9 48.6h0M117.1 48.7h0M114.9 96.0h0M173.3 20.8h0M67.8 17.5h0M64.1 45.2h0M74.9 86.4h0M107.3 111.8h0M110.6 38.7h0M110.3 52.0h0M114.9 14.0h0M143.8 19.2h0M181.6 21.6h0M58.6 84.0h0M51.9 100.2h0M61.5 38.9h0M69.5 44.7h0M129.6 54.5h0M183.9 45.1h0M67.4 35.3h0M137.5 26.1h0M66.6 69.0h0M142.0 51.8h0M120.7 101.1h0M103.6 24.4h0M187.3 43.5h0M130.4 39.1h0M142.3 90.6h0M86.8 22.3h0M161.2 71.3h0M81.0 111.7h0M53.2 33.3h0M168.4 58.0h0M101.1 81.0h0M98.9 71.6h0M134.4 53.3h0M82.9 7.2h0M96.1 46.5h0M111.1 58.8h0M84.0 93.2h0M181.5 6.7h0M62.0 6.9h0M57.7 91.4h0M88.1 71.9h0M100.0 53.8h0M58.8 79.1h0M56.4 75.9h0M112.3 27.9h0M123.5 21.5h0M73.9 46.7h0M59.4 24.0h0M53.1 61.1h0M85.2 23.5h0M124.3 27.9h0M88.3 27.6h0M82.9 13.5h0M115.0 27.0h0M63.5 65.9h0M112.7 20.8h0M71.7 23.5h0M71.9 90.1h0M89.0 28.0h0M94.9 37.1h0M63.4 48.1h0M78.2 46.8h0M59.3 94.4h0M123.6 40.2h0M65.9 105.7h0M82.8 67.9h0M78.5 31.5h0M69.4 64.6h0M98.6 25.3h0M74.1 84.5h0M126.7 20.4h0M123.6 31.6h0M56.1 37.7h0M82.1 33.2h0M63.2 88.7h0M70.9 32.3h0M53.1 99.2h0M57.2 40.0h0M102.8 13.9h0M65.8 88.2h0M76.8 102.6h0M80.6 68.1h0M109.4 48.1h0M89.8 27.3h0M106.8 47.0h0M125.0 33.5h0M54.0 42.0h0M59.7 51.7h0M114.7 26.3h0M59.9 23.2h0M75.8 28.4h0M71.2 107.3h0M83.2 39.4h0M66.8 101.6h0M71.2 65.9h0M57.8 12.7h0M67.5 12.1h0M68.2 21.6h0M71.9 51.5h0M53.3 36.5h0M84.2 53.1h0M62.0 29.5h0M82.7 85.4h0M119.7 23.5h0M63.9 102.9h0M86.4 78.7h0M65.9 30.0h0M90.6 40.5h0M66.1 32.8h0M79.5 45.7h0M55.6 100.1h0M92.9 13.0h0M120.2 27.6h0M102.4 24.1h0M84.2 8.2h0M75.3 36.3h0M64.2 45.0h0M66.7 48.9h0M98.3 37.7h0M119.4 27.8h0M70.1 84.6h0M106.5 18.7h0M84.7 21.3h0M109.7 37.5h0M59.3 55.5h0M95.7 25.3h0M82.0 12.8h0M65.8 70.6h0M100.3 43.2h0M73.6 24.7h0M64.3 94.7h0M87.3 73.4h0M86.0 8.9h0M96.4 49.3h0M59.1 50.8h0M113.8 48.7h0M114.2 41.0h0M79.4 78.8h0M59.6 51.4h0M107.6 44.3h0M89.6 42.8h0M57.6 85.1h0M71.0 64.8h0M123.3 25.9h0M72.4 78.2h0M59.6 69.1h0M57.5 37.5h0M66.7 12.1h0M70.2 27.4h0M90.2 12.1h0M89.8 39.8h0M75.4 76.5h0M117.0 18.3h0M88.6 66.1h0M81.8 80.1h0M52.8 56.5h0M71.0 33.0h0M76.2 86.7h0M73.5 58.9h0M114.9 52.7h0M65.9 69.9h0M96.3 39.8h0M84.9 28.5h0M76.6 56.1h0M57.9 23.7h0M80.5 48.9h0M67.3 82.5h0M73.4 22.1h0M67.1 97.9h0M72.4 91.3h0M75.6 91.7h0M66.3 7.8h0M126.6 20.8h0M51.4 12.1h0M111.5 28.2h0M52.1 99.7h0M64.9 52.7h0M72.3 75.9h0M52.9 11.1h0M102.2 21.1h0M116.3 37.7h0M87.0 71.0h0M92.8 69.0h0M99.8 49.8h0M63.4 20.3h0M71.2 101.5h0M93.5 61.4h0M73.5 79.1h0M75.6 68.4h0M54.5 26.8h0M66.5 102.3h0M65.9 88.4h0M120.5 9.1h0M72.3 26.1h0M72.6 98.9h0M67.4 104.7h0M117.5 6.4h0M73.9 25.3h0M78.1 22.4h0M93.8 48.2h0M119.0 40.1h0M100.9 41.8h0M81.4 25.4h0M124.4 34.1h0M87.2 83.6h0M113.6 32.4h0M89.7 52.9h0M64.9 91.6h0M89.6 24.5h0M72.7 8.7h0M112.9 17.0h0M69.3 24.5h0M102.8 53.5h0M119.7 44.7h0M105.5 54.3h0M73.4 69.8h0M51.4 10.4h0M107.7 53.5h0M86.0 53.2h0M55.8 28.4h0M125.3 19.1h0M71.1 101.7h0M58.2 71.5h0M89.1 61.0h0M61.4 83.0h0M55.0 75.7h0M73.3 68.8h0M77.8 89.9h0M62.2 43.7h0M77.0 42.9h0M96.1 19.4h0M61.8 10.7h0M58.6 97.7h0M80.3 35.4h0M111.4 12.0h0M116.3 20.2h0M80.8 91.4h0M77.7 97.7h0M83.9 22.8h0M120.8 30.2h0M111.4 32.2h0M55.6 15.7h0M124.4 10.5h0M111.3 59.8h0M118.7 48.1h0M81.2 57.9h0M60.4 38.0h0M58.2 39.4h0M87.2 88.5h0M66.4 19.9h0M70.1 36.9h0M105.5 25.9h0M107.1 22.1h0M100.0 22.6h0M108.3 25.3h0M110.9 38.5h0M70.9 93.0h0M67.8 92.2h0M127.2 6.9h0M88.9 67.8h0M92.5 75.8h0M114.1 7.6h0M78.0 67.0h0M116.6 27.9h0M78.6 88.7h0M72.1 12.2h0M85.9 27.9h0M65.7 105.1h0M119.0 21.0h0M96.1 48.6h0M67.7 56.8h0M113.5 47.0h0M108.1 58.3h0M99.7 9.5h0M89.1 49.6h0M98.7 60.4h0M99.2 72.2h0M65.2 72.2h0M75.8 66.2h0M69.7 23.2h0M103.5 65.2h0M95.6 72.4h0M78.1 62.0h0M61.5 86.9h0M74.3 27.7h0M84.8 10.7h0M78.3 73.0h0M90.1 58.7h0M90.1 19.5h0M121.9 30.2h0M103.5 56.9h0M59.8 80.7h0M83.4 48.1h0M65.0 84.5h0M63.4 73.9h0M65.3 43.1h0M82.3 17.8h0M124.1 26.3h0M92.7 50.6h0M103.6 32.5h0M106.9 58.1h0M87.8 27.7h0M117.8 32.7h0M89.3 81.0h0M63.5 87.1h0M118.1 39.1h0M89.1 40.4h0M88.9 24.2h0M53.4 39.7h0M129.9 18.3h0M67.4 85.8h0M103.8 22.1h0M107.1 66.1h0M86.6 22.7h0M97.4 7.9h0M65.6 10.6h0M101.9 68.0h0M110.4 14.6h0M52.8 9.9h0M114.0 37.5h0M85.0 32.5h0M65.2 37.3h0M76.1 36.4h0M66.3 75.4h0M62.5 53.3h0M77.5 47.9h0M56.6 84.7h0M102.5 32.8h0M64.5 102.8h0M61.5 70.9h0M59.0 60.1h0M124.8 15.7h0M96.6 60.1h0M89.3 6.7h0M78.1 84.0h0M102.3 70.7h0M91.0 12.6h0M112.7 9.4h0M51.2 55.4h0M86.0 91.3h0M121.1 31.4h0M71.1 32.4h0M53.5 91.0h0M101.5 34.0h0M83.4 65.3h0M51.6 9.7h0M123.3 39.9h0M79.5 33.4h0M94.6 53.1h0M75.0 47.2h0M85.2 60.8h0M53.6 21.6h0M87.7 12.2h0M96.5 69.1h0M94.2 32.1h0M121.8 6.4h0M109.7 18.8h0M97.7 63.3h0M105.9 66.2h0M76.2 43.5h0M86.6 18.5h0M70.4 72.0h0M94.3 67.4h0M67.1 23.7h0M89.4 23.2h0M99.2 76.0h0M93.8 79.4h0M91.4 23.8h0M100.0 31.4h0M62.3 101.2h0M71.8 61.7h0M66.6 83.6h0M119.3 16.4h0M94.5 63.8h0M74.8 103.9h0M51.2 8.9h0M71.6 71.7h0M103.6 21.2h0M104.7 47.9h0M76.9 87.4h0M119.9 44.5h0M128.5 15.2h0M91.3 62.9h0M85.9 55.0h0M95.7 48.3h0M61.6 48.0h0M54.4 97.2h0M92.9 7.0h0M57.8 14.3h0M52.1 61.6h0M88.4 35.7h0M71.6 22.4h0M112.8 10.3h0M74.9 85.0h0M64.2 71.8h0M85.4 72.3h0M115.1 9.2h0M114.5 15.4h0M73.2 17.5h0M109.9 20.4h0M87.5 15.9h0M78.7 44.5h0M71.2 105.0h0M61.7 27.2h0M109.3 43.4h0M84.7 28.7h0M63.9 106.8h0M83.8 89.9h0M72.2 24.6h0M57.6 55.3h0M97.6 40.3h0M64.2 46.6h0M77.3 69.1h0M66.6 65.4h0M72.7 75.9h0M89.8 41.3h0M102.7 41.6h0M70.0 70.1h0M79.8 21.0h0M95.2 33.8h0M76.2 92.2h0M85.5 25.2h0M63.0 48.7h0M60.4 26.9h0M52.8 27.2h0M63.5 24.3h0M74.2 87.5h0M61.4 60.4h0M126.3 21.5h0M71.4 26.4h0M71.7 25.3h0M116.6 54.3h0M86.4 65.4h0M63.6 54.5h0M52.9 68.9h0M68.9 88.3h0M57.3 83.4h0M67.1 90.8h0M72.1 45.5h0M110.2 32.7h0M94.5 65.9h0M121.0 8.4h0M95.5 10.5h0M92.1 79.7h0M117.7 7.4h0M77.5 44.6h0M100.3 31.5h0M100.2 18.5h0M81.3 54.6h0M81.4 47.4h0M112.9 21.8h0M68.3 16.8h0M59.7 72.8h0M119.4 34.8h0M81.0 8.4h0M73.5 99.7h0M88.9 28.4h0M112.5 48.3h0M74.7 30.4h0M96.8 46.8h0M99.4 26.4h0M74.1 23.8h0M54.8 29.9h0M71.2 52.6h0M69.0 26.4h0M118.8 8.9h0M97.9 69.9h0M54.8 62.6h0M60.8 68.9h0M55.5 68.7h0M119.9 9.1h0M76.1 8.3h0M120.9 29.4h0M98.3 10.2h0M57.3 49.7h0M115.4 37.8h0M96.4 25.4h0M61.3 30.9h0M87.1 73.8h0M81.1 89.1h0M97.8 38.5h0M77.1 45.0h0M94.5 56.5h0M71.5 85.0h0M68.3 23.4h0M120.0 40.1h0M54.0 84.1h0M55.8 88.3h0M87.8 23.0h0M104.6 60.8h0M76.7 96.1h0M116.0 24.4h0M67.3 40.9h0M72.6 67.1h0M54.4 89.1h0M73.9 90.4h0M82.6 36.2h0M63.5 71.6h0M97.6 36.8h0M63.5 37.8h0M95.1 64.1h0M82.6 21.2h0M102.4 33.4h0M75.7 26.4h0M79.0 34.3h0M87.2 61.2h0M95.3 21.9h0M68.6 60.7h0M60.5 24.3h0M82.5 59.5h0M57.2 73.1h0M75.9 66.1h0M54.1 10.7h0M68.3 63.3h0M54.5 93.6h0M123.9 35.2h0M72.1 100.6h0M106.1 19.0h0M64.3 103.8h0M78.1 45.9h0M93.2 50.0h0M80.5 44.3h0M98.3 20.7h0M74.4 75.9h0M116.5 29.2h0M114.0 25.4h0M91.9 15.2h0M94.1 68.6h0M57.7 75.2h0M80.3 53.9h0M78.1 56.1h0M99.1 35.3h0M77.1 31.5h0M85.7 78.5h0M54.9 42.3h0M68.6 66.9h0M130.0 12.7h0M69.1 53.1h0M118.5 17.1h0M51.7 19.5h0M123.3 32.0h0M108.6 43.3h0M67.1 9.9h0M106.9 24.5h0M94.2 77.6h0M92.3 31.3h0M58.9 97.4h0M94.4 60.9h0M92.2 7.5h0M74.0 34.7h0M132.0 8.3h0M62.3 97.8h0M75.2 80.1h0M126.9 31.3h0M69.7 94.6h0M77.6 25.5h0M83.6 62.1h0M60.0 59.4h0M108.1 18.6h0M78.3 48.4h0M101.1 67.3h0M80.4 47.4h0M70.2 21.4h0M70.6 61.9h0M66.0 86.6h0M94.4 45.7h0M80.7 89.9h0M78.0 21.1h0M96.3 71.4h0M82.4 70.0h0M56.6 44.3h0M75.6 102.6h0M53.4 65.7h0M80.6 22.4h0M56.4 101.2h0M72.8 15.7h0M86.3 20.7h0M73.1 26.9h0M106.9 48.8h0M95.5 28.2h0M85.0 81.4h0M100.1 54.3h0M56.3 31.5h0M123.9 15.8h0M73.6 93.4h0M113.7 34.6h0M56.7 86.7h0M79.5 13.6h0M117.5 37.2h0M125.5 15.3h0M124.3 31.4h0M65.6 44.0h0M93.9 15.3h0M101.0 52.6h0M53.8 27.5h0M68.6 51.2h0M55.9 57.8h0M50.5 89.0h0M61.8 41.8h0M57.2 28.2h0M76.3 7.8h0M72.5 47.9h0M70.5 26.7h0M77.1 57.3h0M56.0 79.2h0M111.1 17.6h0M74.0 32.0h0M64.4 24.5h0M58.7 47.1h0M66.9 89.8h0M71.7 73.3h0M87.6 57.0h0M108.0 33.1h0M128.8 14.3h0M56.1 20.0h0M116.5 31.4h0M94.6 44.3h0M76.1 104.0h0M113.0 41.4h0M77.8 9.5h0M74.7 29.3h0M116.9 12.7h0M88.9 56.3h0M106.4 55.7h0M75.1 12.4h0M53.5 55.4h0M118.5 15.9h0M76.4 53.2h0M77.1 18.6h0M121.5 42.7h0M82.7 17.4h0M64.5 50.0h0M58.0 18.2h0M54.8 47.5h0M103.7 12.4h0M64.3 78.8h0M51.9 100.8h0M57.5 96.0h0M54.4 24.9h0M121.6 15.4h0M61.3 10.1h0M50.6 74.1h0M51.7 24.6h0M85.9 85.6h0M90.2 75.3h0M77.5 21.7h0M103.3 56.6h0M124.5 17.0h0M78.0 26.6h0M65.6 9.1h0M114.0 34.2h0M51.1 63.9h0M104.4 23.2h0M129.7 18.5h0M98.5 38.9h0M56.4 69.6h0M105.7 38.9h0M64.2 6.7h0M96.0 17.7h0M73.6 9.6h0M94.5 76.1h0M94.1 69.4h0M87.7 48.6h0M121.5 13.2h0M73.3 76.2h0M52.7 55.6h0M57.4 68.7h0M88.0 69.2h0M96.8 70.4h0M90.8 28.4h0M126.1 31.0h0M73.3 38.6h0M111.2 16.7h0M62.8 82.5h0M55.7 97.7h0M117.1 26.9h0M61.7 105.0h0M99.9 74.3h0M90.6 36.0h0M94.2 77.3h0M71.7 18.1h0M121.6 26.7h0M112.5 27.0h0M94.8 51.6h0M69.6 107.4h0M100.5 14.7h0M72.4 6.7h0M77.7 49.7h0M87.1 65.2h0M90.9 66.4h0M101.9 70.8h0M57.9 70.2h0M68.0 27.4h0M55.5 9.8h0M65.4 71.8h0M65.1 71.9h0M55.7 88.2h0M125.3 11.5h0M95.9 33.5h0M89.8 27.9h0M65.6 55.0h0M99.1 27.8h0M65.0 9.0h0M98.9 15.3h0M54.6 25.4h0M75.3 82.4h0M68.6 83.9h0M55.9 73.9h0M104.6 38.9h0M106.1 45.5h0M111.2 15.0h0M68.8 85.8h0M50.6 97.7h0M79.9 44.0h0M110.0 21.3h0M63.8 25.3h0M56.5 66.0h0M66.4 95.4h0M97.7 72.1h0M114.1 8.6h0M120.9 6.8h0M98.1 45.7h0M61.8 21.2h0M104.0 52.0h0M126.8 9.1h0M84.5 59.0h0M72.3 102.7h0M71.8 83.6h0M123.9 21.9h0M54.6 36.0h0M68.9 19.3h0M108.1 63.1h0M65.9 11.8h0M72.2 96.3h0M127.3 25.7h0M91.8 15.9h0M74.5 70.0h0M55.7 97.3h0M96.9 42.5h0M133.4 14.6h0M86.4 21.7h0M115.5 49.1h0M71.7 17.8h0M97.9 36.4h0M99.2 35.9h0M103.8 11.9h0M83.5 60.9h0M112.9 52.5h0M56.4 54.6h0M134.9 8.4h0M69.8 60.9h0M118.6 51.3h0M86.7 47.6h0M113.4 10.7h0M60.2 20.0h0M55.8 7.0h0M89.0 38.9h0M110.2 18.0h0M464.5 57.8h0M451.3 15.1h0M439.0 71.2h0M398.8 191.8h0M440.3 26.2h0M433.5 163.4h0M407.5 50.0h0M488.9 93.7h0M420.0 98.2h0M398.6 166.5h0M485.3 124.6h0M368.6 100.0h0M391.1 65.9h0M492.5 96.1h0M445.5 36.6h0M456.4 108.4h0M352.8 219.8h0M462.5 127.9h0M493.5 14.3h0M418.1 94.0h0M397.3 168.2h0M459.9 58.8h0M463.4 87.6h0M422.1 60.5h0M424.1 29.2h0M392.2 100.3h0M385.3 127.9h0M410.3 75.5h0M372.5 14.5h0M469.7 114.0h0M466.7 143.5h0M443.5 77.9h0M397.5 56.7h0M388.5 34.9h0M464.6 33.1h0M447.6 82.4h0M432.8 163.2h0M386.7 25.7h0M377.2 198.8h0M485.2 49.9h0M376.9 6.9h0M432.1 22.8h0M393.3 123.4h0M396.5 11.9h0M460.6 88.2h0M396.2 198.8h0M473.7 83.8h0M397.3 94.6h0M386.8 119.0h0M389.7 165.0h0M406.1 177.5h0M440.1 79.0h0M436.1 48.1h0M472.5 64.9h0M403.9 64.9h0M482.4 14.3h0M406.9 12.5h0M379.1 34.5h0M404.9 80.6h0M388.2 39.9h0M384.4 191.5h0M362.9 103.3h0M383.1 19.9h0M482.2 133.2h0M399.5 97.1h0M349.9 207.0h0M465.4 40.3h0M483.9 118.2h0M425.5 13.4h0M474.7 46.1h0M395.0 99.3h0M354.4 11.9h0M380.6 167.0h0M459.5 127.7h0M368.8 35.3h0M397.7 173.4h0M485.3 143.8h0M470.2 18.4h0M380.9 29.4h0M384.9 173.7h0M460.1 75.3h0M459.8 119.4h0M373.3 198.5h0M350.5 198.0h0M347.7 118.6h0M417.7 35.1h0M417.2 147.4h0M441.8 12.8h0M426.1 133.7h0M384.7 198.6h0M419.5 34.3h0M417.0 97.8h0M361.4 222.9h0M387.2 119.9h0M361.9 51.4h0M347.7 131.4h0M363.4 202.5h0M375.8 172.2h0M431.1 17.7h0M426.5 97.4h0M349.7 39.4h0M487.2 33.6h0M397.9 38.8h0M438.4 62.2h0M367.2 191.3h0M444.0 31.4h0M375.5 194.2h0M424.9 51.6h0M388.9 112.3h0M450.2 59.3h0M382.8 209.1h0M366.4 11.8h0M377.8 49.6h0M443.3 67.8h0M395.6 123.2h0M389.0 57.2h0M387.3 12.6h0M474.5 90.5h0M397.3 55.6h0M394.6 123.8h0M387.4 10.4h0M464.6 43.6h0M449.1 150.7h0M418.6 77.3h0M428.4 164.1h0M474.5 83.9h0M347.4 72.6h0M448.8 160.4h0M435.7 29.6h0M384.4 86.6h0M347.6 74.1h0M482.0 92.4h0M436.0 71.3h0M433.8 12.0h0M406.2 123.2h0M441.1 86.4h0M490.9 53.4h0M375.9 181.7h0M418.1 119.4h0M365.2 200.3h0M383.8 202.8h0M396.7 118.5h0M479.0 141.5h0M387.9 125.2h0M438.0 68.6h0M416.6 22.1h0M363.0 196.9h0M480.5 27.5h0M438.1 49.8h0M467.3 9.8h0M409.6 120.3h0M442.0 32.9h0M409.1 67.9h0M470.5 97.3h0M463.7 41.3h0M366.1 6.7h0M458.8 46.7h0M357.9 185.1h0M460.8 100.0h0M441.2 155.1h0M378.3 201.3h0M452.9 11.9h0M405.3 117.7h0M363.4 187.1h0M468.4 109.2h0M401.2 21.6h0M461.9 99.9h0M352.8 206.8h0M418.5 45.4h0M447.9 8.6h0M428.6 36.0h0M410.3 59.6h0M445.1 114.6h0M354.7 68.8h0M481.2 17.4h0M440.0 135.4h0M418.4 123.3h0M395.2 123.3h0M481.8 38.5h0M454.8 46.7h0M442.6 52.4h0M370.7 121.7h0M492.9 72.7h0M488.3 84.6h0M431.2 81.3h0M458.6 38.9h0M401.2 70.9h0M362.8 17.1h0M485.4 85.2h0M346.3 111.5h0M421.6 41.3h0M408.9 34.3h0M397.6 12.8h0M403.5 9.2h0M381.4 56.6h0M476.0 51.8h0M457.2 155.0h0M436.5 35.2h0M347.3 50.2h0M490.6 44.9h0M377.3 110.6h0M441.5 90.2h0M352.9 38.5h0M428.9 165.4h0M447.0 143.6h0M469.9 108.2h0M426.4 44.6h0M426.6 50.1h0M347.4 216.4h0M470.9 102.2h0M400.7 65.0h0M359.9 223.3h0M477.4 86.9h0M393.1 61.2h0M479.8 64.2h0M395.3 108.5h0M492.4 108.0h0M348.3 103.8h0M414.7 52.3h0M441.6 91.4h0M430.1 58.4h0M415.4 29.3h0M384.3 39.3h0M418.9 14.0h0M356.7 70.0h0M482.6 31.3h0M445.5 116.5h0M492.3 59.3h0M419.7 46.2h0M357.5 33.1h0M406.4 20.7h0M357.1 51.1h0M362.6 39.2h0M422.5 87.9h0M454.7 48.3h0M351.5 110.6h0M384.6 22.0h0M357.4 54.6h0M452.2 162.4h0M449.4 134.1h0M375.6 205.7h0M454.0 28.3h0M417.1 149.8h0M478.3 114.3h0M476.6 74.5h0M473.9 96.8h0M438.9 141.9h0M448.3 149.8h0M354.9 23.8h0M422.6 13.7h0M457.4 133.5h0M472.8 22.7h0M491.6 33.1h0M390.1 33.7h0M348.5 115.5h0M423.0 83.3h0M350.4 55.2h0M407.4 119.9h0M419.4 43.5h0M461.8 121.0h0M381.2 30.3h0M450.6 144.4h0M432.8 13.7h0M450.7 164.9h0M439.7 162.6h0M465.9 148.3h0M398.2 82.7h0M450.2 42.6h0M348.6 217.2h0M346.2 81.6h0M427.4 140.6h0M360.2 48.8h0M409.1 40.0h0M379.9 96.7h0M463.7 97.6h0M407.3 68.8h0M423.7 91.5h0M361.8 70.1h0M385.0 26.1h0M471.6 46.0h0M356.8 110.6h0M379.6 67.4h0M447.8 104.3h0M435.9 173.4h0M458.7 56.4h0M348.8 226.9h0M377.6 123.4h0M367.1 29.0h0M439.8 151.0h0M366.8 100.6h0M450.7 18.5h0M413.9 50.9h0M366.8 33.0h0M419.3 97.8h0M481.7 51.4h0M481.7 119.5h0M433.0 171.1h0M370.1 203.1h0M464.8 64.6h0M431.8 76.5h0M485.0 117.6h0M479.6 151.4h0M448.3 165.9h0M473.0 49.2h0M423.3 149.3h0M420.6 149.2h0M495.4 41.4h0M467.2 35.8h0M433.4 45.1h0M369.7 63.1h0M367.1 190.9h0M480.5 49.7h0M346.7 23.4h0M440.8 141.8h0M446.4 19.7h0M435.7 41.0h0M492.6 140.8h0M423.0 178.8h0M441.4 111.8h0M440.7 133.5h0M427.4 22.9h0M477.6 109.5h0M495.6 52.0h0M366.0 194.8h0M452.3 63.2h0M357.7 186.7h0M401.6 79.7h0M398.9 48.1h0M428.7 134.3h0M433.1 160.0h0M386.1 7.5h0M426.6 35.2h0M414.2 26.2h0M437.6 92.4h0M431.4 34.9h0M366.8 179.0h0M419.2 74.4h0M385.9 15.3h0M413.0 171.7h0M360.7 65.0h0M387.2 202.9h0M350.2 57.8h0M491.6 145.2h0M448.4 172.3h0M372.4 117.8h0M420.2 170.8h0M352.6 211.5h0M381.4 65.1h0M357.3 83.0h0M478.9 49.1h0M369.8 130.0h0M487.2 57.1h0M386.3 120.7h0M409.2 114.6h0M479.5 109.5h0M435.0 25.6h0M424.3 53.8h0M371.4 76.4h0M439.6 111.2h0M475.7 145.3h0M368.4 47.8h0M368.6 18.4h0M432.4 99.2h0M468.3 78.5h0M474.8 23.1h0M423.5 134.9h0M421.1 30.2h0M429.6 83.7h0M406.1 85.6h0M469.1 62.4h0M364.6 36.6h0M458.8 157.5h0M366.4 89.7h0M387.0 205.7h0M420.0 51.4h0M490.3 69.9h0M469.6 29.8h0M427.9 86.4h0M370.8 181.8h0M441.5 42.9h0M478.8 15.2h0M441.0 64.7h0M420.2 57.9h0M399.4 186.3h0M411.2 101.0h0M406.1 126.4h0M431.7 162.2h0M405.3 22.4h0M426.1 86.4h0M458.5 18.9h0M437.9 101.5h0M429.6 81.3h0M465.5 135.7h0M453.7 98.7h0M389.4 74.3h0M348.7 8.4h0M447.2 22.4h0M472.4 107.1h0M481.8 78.0h0M395.4 164.7h0M474.4 66.1h0M424.0 59.7h0M354.3 46.0h0M366.8 213.7h0M446.6 84.8h0M446.5 163.4h0M365.7 50.7h0M476.3 67.7h0M426.8 150.4h0M350.1 37.9h0M391.7 22.2h0M420.2 10.3h0M389.2 189.5h0M446.5 68.6h0M479.2 140.4h0M405.6 90.4h0M364.1 189.2h0M379.2 86.8h0M419.9 159.3h0M431.9 63.7h0M394.4 26.6h0M471.1 118.4h0M353.6 221.5h0M459.4 164.0h0M379.6 103.6h0M451.2 127.0h0M381.7 189.7h0M388.3 183.6h0M434.6 87.1h0M429.7 174.3h0M446.2 78.2h0M346.0 90.5h0M371.5 176.8h0M347.9 83.3h0M442.7 150.9h0M490.3 117.5h0M428.3 148.1h0M439.8 45.4h0M450.6 77.2h0M410.1 129.9h0M409.1 183.7h0M427.8 48.4h0M348.1 85.0h0M403.5 130.3h0M407.0 88.4h0M459.3 11.9h0M461.7 98.4h0M474.0 60.4h0M452.6 112.6h0M417.2 104.8h0M447.9 121.0h0M420.8 46.7h0M412.8 176.3h0M476.9 129.7h0M383.9 7.8h0M357.5 111.6h0M387.9 80.5h0M458.8 11.0h0M386.5 71.7h0M451.5 98.1h0M477.2 29.8h0M460.9 27.5h0M442.3 140.9h0M454.3 104.8h0M394.4 114.4h0M491.8 77.5h0M447.4 87.8h0M422.3 118.0h0M377.8 19.1h0M430.4 126.5h0M396.9 126.7h0M428.4 166.9h0M440.0 69.3h0M399.8 125.8h0M351.6 190.3h0M477.2 156.9h0M394.5 18.3h0M478.0 21.4h0M354.5 66.2h0M434.1 125.7h0M461.8 122.1h0M441.1 112.9h0M476.6 119.2h0M496.8 85.1h0M474.4 145.3h0M369.4 200.8h0M409.7 63.6h0M460.9 12.7h0M457.0 108.6h0M428.6 161.9h0M475.2 97.6h0M442.7 114.5h0M446.3 13.9h0M363.1 215.4h0M467.4 141.9h0M389.6 167.9h0M441.3 140.9h0M434.4 19.6h0M358.4 76.7h0M400.8 192.9h0M458.0 167.9h0M368.2 93.7h0M445.0 88.8h0M381.4 203.1h0M408.3 34.0h0M453.3 80.1h0M437.8 56.0h0M459.8 58.1h0M395.2 7.1h0M449.0 152.7h0M461.1 66.0h0M410.5 40.7h0M364.9 204.4h0M468.2 61.3h0M443.5 26.6h0M382.7 110.9h0M444.8 48.6h0M377.9 6.5h0M477.6 113.7h0M361.1 70.3h0M480.2 31.6h0M360.7 209.7h0M462.0 112.5h0M460.2 14.6h0M361.9 70.1h0M405.8 84.6h0M457.7 112.8h0M439.5 72.9h0M485.7 120.9h0M450.6 134.9h0M379.5 197.3h0M359.8 69.6h0M400.1 122.2h0M382.4 46.3h0M473.9 35.2h0M365.4 69.5h0M479.2 91.6h0M370.4 200.3h0M455.0 89.7h0M461.7 48.6h0M425.5 62.9h0M494.2 31.7h0M376.9 131.1h0M408.8 174.6h0M402.3 168.9h0M433.1 151.7h0M478.7 90.0h0M459.2 35.1h0M414.9 30.5h0M432.2 95.4h0M364.6 99.5h0M423.2 175.7h0M416.0 99.4h0M484.6 109.4h0M383.1 111.0h0M403.5 126.5h0M486.0 23.1h0M433.7 133.5h0M434.1 167.4h0M478.1 145.9h0M446.1 61.2h0M372.0 93.7h0M378.3 127.2h0M484.8 61.1h0M406.2 119.4h0M365.2 202.7h0M384.8 45.3h0M400.7 164.2h0M405.7 118.3h0M346.6 13.2h0M436.4 20.8h0M394.2 126.8h0M474.4 19.3h0M404.1 169.6h0M393.3 41.8h0M376.7 124.4h0M415.8 87.2h0M486.2 39.4h0M495.3 146.4h0M419.0 69.3h0M380.0 190.1h0M479.0 101.4h0M434.1 155.2h0M456.3 132.4h0M430.0 178.9h0M410.8 39.5h0M430.0 114.2h0M393.7 173.3h0M381.1 184.0h0M345.8 109.5h0M350.4 99.4h0M391.1 95.9h0M485.5 38.9h0M432.0 18.3h0M483.9 25.2h0M422.9 23.0h0M406.7 185.9h0M443.7 127.9h0M352.9 223.6h0M392.8 44.8h0M454.2 53.6h0M465.8 122.7h0M385.7 86.1h0M449.8 163.9h0M352.6 119.5h0M462.7 120.6h0M430.0 122.9h0M495.1 41.1h0M429.0 11.2h0M368.8 73.2h0M371.6 108.5h0M408.5 91.0h0M490.0 52.0h0M447.2 104.1h0M484.4 104.8h0M367.4 220.0h0M367.2 19.5h0M481.1 71.6h0M352.6 41.0h0M453.2 19.9h0M398.1 48.7h0M472.4 103.6h0M489.9 40.6h0M363.5 31.7h0M451.5 138.6h0M390.9 38.2h0M346.4 12.6h0M435.2 160.4h0M403.2 163.2h0M458.1 36.4h0M366.2 74.8h0M424.5 37.0h0M376.7 194.0h0M442.9 102.0h0M446.7 87.8h0M364.2 10.5h0M436.1 156.5h0M351.3 120.2h0M450.0 32.0h0M474.7 102.5h0M418.2 156.3h0M485.9 109.7h0M458.7 137.9h0M483.2 129.7h0M443.5 82.5h0M479.7 37.3h0M492.8 71.5h0M401.7 67.9h0M481.1 119.0h0M387.1 108.1h0M374.0 7.0h0M421.5 176.3h0M475.0 64.2h0M453.5 140.1h0M470.3 120.5h0M349.9 215.4h0M445.4 99.9h0M390.4 56.6h0M357.0 52.8h0M495.5 45.8h0M486.9 51.5h0M403.3 103.0h0M414.1 119.9h0M487.3 53.4h0M458.1 140.2h0M362.7 128.6h0M442.3 80.7h0M478.1 88.0h0M373.7 100.5h0M444.5 170.0h0M405.8 167.0h0M351.2 116.0h0M457.3 135.0h0M472.6 101.2h0M486.2 113.4h0M445.8 36.7h0M487.8 105.0h0M354.8 7.5h0M358.1 221.1h0M351.3 115.7h0M452.2 7.5h0M369.9 24.0h0M494.8 119.6h0M364.5 195.7h0M382.0 77.2h0M361.4 90.9h0M479.5 135.0h0M406.2 47.7h0M448.3 146.4h0M392.2 170.9h0M481.6 106.2h0M390.4 9.6h0M477.0 19.3h0M395.7 47.2h0M391.8 178.4h0M366.6 40.2h0M411.3 155.4h0M430.5 13.2h0M406.9 175.5h0M471.6 22.5h0M492.4 29.3h0M370.5 10.3h0M442.1 11.4h0M356.4 102.5h0M478.8 58.3h0M377.1 99.3h0M408.7 43.5h0M384.0 21.1h0M391.4 178.7h0M475.7 42.0h0M391.7 114.1h0M382.3 71.3h0M473.1 25.2h0M420.4 105.0h0M449.8 155.1h0M455.0 160.3h0M351.2 51.1h0M456.4 29.1h0M432.1 143.5h0M462.1 22.6h0M480.4 62.7h0M396.0 109.8h0M457.4 58.4h0M454.0 145.5h0M414.6 161.8h0M414.6 26.4h0M489.6 103.8h0M407.9 22.8h0M458.2 9.1h0M352.9 216.5h0M468.1 135.7h0M374.0 11.1h0M479.5 58.5h0M354.8 217.8h0M437.2 160.5h0M346.3 232.1h0M421.2 28.5h0M413.4 175.1h0M491.3 76.2h0M484.8 88.7h0M443.7 77.8h0M434.4 172.0h0M480.6 12.6h0M428.8 150.2h0M414.5 161.9h0M475.9 139.8h0M368.5 92.2h0M433.6 172.3h0M409.8 27.7h0M346.5 228.2h0M410.6 27.5h0M365.4 39.1h0M384.3 99.9h0M359.5 226.1h0M482.5 152.9h0M386.4 102.6h0M424.0 128.6h0M374.9 34.9h0M479.4 67.3h0M392.4 163.1h0M377.4 125.8h0M378.5 63.5h0M459.2 101.9h0M407.1 93.1h0M377.0 20.1h0M462.8 146.2h0M348.1 77.4h0M425.5 143.0h0M384.6 98.3h0M401.3 193.0h0M450.1 70.0h0M465.7 93.9h0M440.2 159.3h0M438.5 27.6h0M447.4 152.2h0M421.8 132.4h0M458.5 163.2h0M406.9 167.1h0M356.1 186.4h0M459.7 162.9h0M442.8 89.6h0M426.7 35.1h0M349.6 207.7h0M436.4 97.4h0M485.6 144.0h0M463.5 29.6h0M381.6 19.9h0M413.9 36.5h0M388.1 62.4h0M437.4 22.5h0M419.2 44.7h0M459.6 30.3h0M355.7 101.0h0M376.9 71.7h0M448.1 93.8h0M386.7 51.2h0M418.8 52.9h0M454.5 165.0h0M393.2 158.4h0M456.9 90.1h0M447.1 172.5h0M361.3 79.7h0M376.3 20.3h0M494.2 104.7h0M414.5 107.7h0M356.9 127.7h0M351.7 192.5h0M359.8 195.9h0M437.1 166.2h0M421.3 54.5h0M356.8 61.6h0M494.0 119.0h0M375.9 83.9h0M440.4 153.3h0M349.1 82.9h0M412.8 41.1h0M488.6 29.8h0M389.8 36.5h0M353.9 47.4h0M442.6 169.1h0M388.9 127.4h0M353.0 99.5h0M403.2 115.8h0M428.9 75.5h0M377.2 126.1h0M362.7 106.8h0M404.0 91.1h0M375.1 91.5h0M379.0 90.9h0M368.9 126.2h0M382.4 49.0h0M486.4 78.4h0M422.2 24.1h0M356.8 204.2h0M457.7 135.7h0M434.5 28.6h0M347.0 92.3h0M494.2 45.5h0M436.6 8.2h0M405.6 61.5h0M465.0 103.0h0M367.5 112.3h0M448.1 117.3h0M450.8 97.7h0M488.9 148.8h0M427.3 158.0h0M406.0 186.2h0M406.0 66.7h0M478.3 104.8h0M408.8 12.7h0M431.6 10.3h0M358.0 53.4h0M491.3 51.9h0M391.3 91.2h0M469.9 66.7h0M455.0 7.5h0M475.4 53.3h0M350.7 226.9h0M411.1 71.3h0M387.7 126.1h0M421.2 18.2h0M402.8 89.4h0M480.4 95.3h0M439.9 74.9h0M456.0 11.0h0M421.8 19.4h0M457.4 162.2h0M352.5 101.3h0M434.4 154.4h0M400.7 66.3h0M418.1 91.5h0M391.6 88.9h0M413.6 121.1h0M485.0 87.7h0M490.1 63.9h0M367.4 110.5h0M388.3 91.1h0M493.2 98.1h0M363.6 185.9h0M368.5 181.3h0M410.1 75.8h0M379.7 62.1h0M363.6 119.6h0M367.6 56.1h0M447.7 133.5h0M417.9 156.4h0M489.6 142.9h0M466.8 80.8h0M366.3 29.1h0M347.2 199.4h0M494.2 62.7h0M418.1 38.4h0M444.0 167.9h0M460.7 31.4h0M462.9 89.2h0M467.5 161.1h0M349.3 28.4h0M387.5 8.4h0M360.0 9.0h0M412.2 26.7h0M411.3 93.2h0M353.4 128.9h0M446.0 87.3h0M420.7 55.2h0M476.8 32.4h0M456.4 15.9h0M413.6 179.6h0M460.8 55.9h0M489.2 91.0h0M435.0 169.9h0M384.6 189.6h0M463.8 155.9h0M429.1 21.2h0M368.6 19.3h0M459.9 80.5h0M428.2 69.8h0M459.9 158.7h0M460.5 85.8h0M419.9 174.7h0M460.2 131.1h0M365.9 81.5h0M369.5 26.8h0M458.6 147.4h0M355.5 99.3h0M360.7 98.7h0M482.3 113.8h0M427.9 143.2h0M407.0 157.0h0M415.9 101.2h0M358.4 117.4h0M405.7 14.6h0M430.4 61.9h0M388.1 92.3h0M453.3 20.8h0M387.0 122.0h0M485.4 111.8h0M465.7 161.6h0M424.0 118.2h0M403.9 31.5h0M448.8 35.1h0M398.3 155.5h0M426.4 82.4h0M380.0 81.5h0M453.9 41.2h0M409.3 106.9h0M437.5 157.5h0M467.1 7.7h0M372.7 181.1h0M388.1 172.6h0M353.1 113.2h0M433.3 36.5h0M372.8 101.8h0M426.9 155.4h0M440.6 112.8h0M451.7 69.7h0M371.8 175.8h0M409.4 44.3h0M417.3 49.1h0M436.5 7.6h0M485.3 129.1h0M397.5 83.7h0M367.5 10.3h0M437.9 45.2h0M398.9 122.6h0M373.5 111.0h0M473.4 124.8h0M464.1 101.2h0M386.8 15.9h0M347.0 117.4h0M493.6 118.5h0M487.8 72.8h0M467.9 88.4h0M472.3 14.7h0M476.0 99.1h0M482.3 37.8h0M494.5 24.9h0M421.8 23.1h0M491.7 114.9h0M402.9 164.1h0M439.0 85.6h0M451.6 127.6h0M487.1 26.3h0M481.1 29.4h0M385.2 14.9h0M447.0 20.1h0M377.1 187.0h0M427.5 69.9h0M408.4 34.3h0M471.9 15.6h0M400.3 8.0h0M359.0 219.9h0M479.0 87.1h0M397.6 77.1h0M466.2 160.8h0M437.4 100.6h0M369.7 75.1h0M451.1 112.0h0M491.3 46.2h0M451.7 54.8h0M349.0 40.9h0M370.4 30.3h0M439.3 153.4h0M384.6 19.0h0M399.8 48.4h0M367.5 119.6h0M397.0 107.1h0M369.8 195.1h0M431.6 13.3h0M353.8 44.4h0M366.5 109.5h0M383.0 39.4h0M448.7 44.4h0M390.0 81.0h0M347.4 32.6h0M352.3 38.5h0M430.9 11.1h0M357.5 23.8h0M482.0 107.4h0M375.7 62.1h0M416.0 172.3h0M460.8 163.2h0M387.2 56.4h0M400.5 69.7h0M450.8 117.1h0M373.1 39.3h0M361.0 8.6h0M388.9 53.6h0M442.2 171.1h0M417.0 160.7h0M425.6 33.0h0M413.4 130.6h0M387.1 17.6h0M392.3 159.1h0M363.9 29.6h0M455.1 86.5h0M391.5 89.9h0M348.1 17.0h0M488.6 86.4h0M497.1 108.9h0M397.2 156.4h0M470.6 144.6h0M470.9 52.8h0M405.1 171.4h0M430.1 142.9h0M397.4 128.0h0M432.8 130.9h0M365.5 214.0h0M349.9 35.7h0M419.1 73.6h0M419.1 150.8h0M435.0 165.5h0M448.8 159.6h0M442.8 13.6h0M419.5 146.7h0M453.9 132.5h0M380.2 103.3h0M487.3 50.4h0M473.1 152.2h0M377.9 87.2h0M391.6 166.1h0M369.4 19.3h0M417.3 29.1h0M389.7 23.5h0M409.5 120.5h0M428.1 53.0h0M428.9 45.7h0M478.8 106.2h0M405.5 90.0h0M422.7 88.2h0M415.4 23.1h0M435.6 178.5h0M364.7 41.9h0M347.4 212.4h0M479.9 89.1h0M432.4 164.9h0M347.9 25.4h0M442.7 157.1h0M354.5 71.9h0M394.0 121.9h0M367.0 102.6h0M419.8 185.6h0M481.0 115.4h0M401.7 176.1h0M417.8 75.2h0M353.6 87.6h0M480.2 120.4h0M464.9 13.1h0M487.1 12.3h0M454.3 153.5h0M429.7 84.4h0M382.8 22.8h0M346.9 94.8h0M456.9 122.7h0M418.0 16.4h0M375.3 92.3h0M433.6 111.0h0M487.9 134.6h0M410.8 123.8h0M394.0 129.7h0M433.0 18.8h0M479.4 57.6h0M394.9 80.8h0M413.4 89.2h0M475.9 90.4h0M366.9 44.4h0M426.6 37.3h0M368.1 77.8h0M445.8 91.4h0M484.9 49.4h0M375.3 185.4h0M349.5 223.1h0M434.0 171.9h0M358.0 209.5h0M420.8 127.1h0M453.6 92.1h0M438.2 27.2h0M487.5 45.3h0M459.4 84.0h0M426.8 179.0h0M386.8 176.0h0M425.5 113.8h0M456.5 103.4h0M355.8 92.1h0M486.9 80.8h0M414.8 171.1h0M424.1 155.4h0M347.5 44.0h0M382.3 11.4h0M444.4 90.6h0M493.3 140.1h0M384.4 11.8h0M383.2 90.0h0M419.4 75.1h0M488.7 82.1h0M395.9 33.9h0M398.6 63.8h0M493.9 42.5h0M454.3 94.8h0M366.0 44.7h0M358.1 223.7h0M379.0 117.5h0M413.4 179.3h0M454.9 150.2h0M364.1 57.7h0M495.7 103.1h0M346.5 106.6h0M453.1 33.3h0M377.5 22.9h0M405.3 78.2h0M369.3 18.2h0M442.6 29.2h0M396.3 121.6h0M427.4 162.4h0M353.2 83.3h0M491.1 107.0h0M360.8 120.3h0M427.0 160.4h0M430.6 82.6h0M488.9 143.5h0M443.4 157.9h0M377.9 43.7h0M372.6 88.2h0M405.8 90.4h0M356.8 60.1h0M495.2 115.9h0M473.6 53.6h0M348.6 195.8h0M473.3 14.2h0M371.0 20.2h0M376.8 209.9h0M491.0 45.1h0M399.0 31.4h0M448.7 122.3h0M384.9 128.2h0M386.0 28.8h0M470.3 9.8h0M414.0 71.1h0M439.8 107.6h0M345.6 84.8h0M345.8 47.3h0M465.8 128.7h0M358.6 31.3h0M487.4 109.7h0M467.6 30.2h0M486.4 100.4h0M454.0 149.8h0M395.5 51.1h0M346.6 7.1h0M491.0 15.3h0M389.6 32.3h0M378.3 37.2h0M465.4 129.1h0M489.8 117.2h0M442.1 140.8h0M418.8 53.5h0M473.7 47.8h0M426.1 74.1h0M479.4 92.9h0M439.3 151.5h0M474.8 32.7h0M470.4 105.9h0M406.3 129.3h0M366.9 71.1h0M354.4 190.1h0M414.7 49.7h0M417.1 113.4h0M482.7 143.1h0M439.1 59.1h0M421.8 142.2h0M413.8 31.5h0M483.9 106.4h0M346.7 196.9h0M419.0 96.6h0M418.7 70.4h0M417.3 176.1h0M358.7 107.4h0M476.8 27.6h0M443.5 84.9h0M388.9 178.3h0M368.2 78.7h0M403.9 86.1h0M481.1 75.6h0M380.7 72.4h0M375.2 213.2h0M433.3 162.5h0M484.1 55.1h0M398.4 54.3h0M370.1 63.3h0M477.8 9.4h0M401.2 88.8h0M379.0 173.8h0M408.6 79.5h0M427.7 125.6h0M484.4 23.0h0M385.7 11.0h0M487.6 128.7h0M447.2 126.0h0M362.7 98.0h0M494.1 141.5h0M477.2 133.8h0M385.5 172.9h0M408.5 52.3h0M463.9 55.5h0M374.6 40.7h0M405.1 194.1h0M395.5 26.2h0M387.9 52.5h0M371.9 42.6h0M408.1 16.4h0M374.3 67.7h0M381.5 87.7h0M380.6 115.1h0M435.8 78.5h0M447.5 109.6h0M373.0 54.8h0M401.5 124.0h0M495.9 49.3h0M383.1 88.6h0M368.1 107.3h0M472.6 15.7h0M406.7 125.6h0M394.3 183.2h0M478.9 99.2h0M356.7 228.1h0M434.4 109.5h0M389.4 112.6h0M488.6 20.0h0M430.0 126.9h0M403.0 100.2h0M422.4 105.5h0M419.0 63.3h0M487.2 45.9h0M354.1 86.7h0M437.6 60.1h0M457.0 100.8h0M389.3 41.1h0M393.1 43.9h0M463.5 44.2h0M367.4 41.4h0M383.9 119.9h0M423.2 17.6h0M361.7 44.7h0M468.6 56.1h0M397.9 116.9h0M465.4 44.5h0M492.4 23.2h0M398.3 155.3h0M490.8 120.3h0M384.2 10.1h0M367.7 89.3h0M361.5 188.9h0M437.0 148.3h0M452.2 150.0h0M485.9 26.2h0M467.6 54.6h0M362.3 127.0h0M452.2 120.8h0M352.2 105.1h0M480.8 122.8h0M448.3 79.1h0M430.8 164.4h0M388.6 26.8h0M378.7 178.5h0M440.1 158.6h0M408.9 171.0h0M373.5 10.8h0M404.8 91.4h0M350.1 194.6h0M363.6 55.8h0M404.1 109.8h0M451.7 161.9h0M428.1 160.8h0M360.8 8.7h0M349.2 54.0h0M491.0 98.8h0M373.9 15.5h0M422.7 123.7h0M378.5 95.1h0M386.1 96.3h0M462.2 101.7h0M463.0 76.8h0M449.6 140.8h0M490.9 148.6h0M357.2 32.3h0M417.5 23.0h0M447.5 55.4h0M420.6 119.0h0M432.0 43.4h0M352.1 97.1h0M483.1 9.5h0M487.8 41.8h0M399.1 162.9h0M431.9 172.4h0M434.6 72.1h0M474.9 56.0h0M447.4 74.7h0M435.0 53.4h0M480.6 32.4h0M484.0 85.8h0M488.7 8.8h0M450.4 64.0h0M377.2 13.2h0M472.9 148.0h0M346.5 229.8h0M373.6 110.3h0M461.1 74.5h0M417.3 44.9h0M361.1 123.9h0M457.6 119.0h0M367.9 74.6h0M449.3 120.7h0M404.1 22.9h0M375.7 207.2h0M365.4 99.4h0M412.5 90.1h0M438.8 107.1h0M382.9 9.3h0M452.3 132.8h0M388.5 181.8h0M470.5 59.5h0M457.2 56.8h0M374.8 85.3h0M365.8 77.6h0M435.4 68.7h0M382.3 19.3h0M464.2 144.7h0M387.1 194.3h0M479.8 11.6h0M354.1 45.7h0M483.0 127.5h0M440.4 38.2h0M349.7 76.8h0M396.3 66.7h0M483.9 114.0h0M365.6 36.3h0M491.3 120.5h0M490.1 132.9h0M474.7 33.3h0M438.4 141.7h0M419.3 127.8h0M346.8 22.4h0M430.7 132.0h0M496.7 107.0h0M424.2 161.4h0M352.4 94.4h0M369.7 76.3h0M442.8 174.9h0M442.5 119.9h0M428.0 136.9h0M385.7 47.6h0M428.9 112.0h0M428.1 76.7h0M449.9 139.0h0M443.2 149.3h0M431.7 73.6h0M458.4 30.0h0M377.4 208.9h0M493.5 131.5h0M481.0 139.0h0M367.4 45.5h0M481.1 135.7h0M441.9 101.1h0M395.5 98.3h0M411.6 50.7h0M472.4 103.8h0M431.7 135.0h0M403.5 158.0h0M469.5 153.6h0M356.7 63.6h0M408.1 185.2h0M408.1 179.2h0M398.1 65.7h0M360.3 33.6h0M484.6 152.7h0M387.8 163.0h0M458.3 57.2h0M412.2 38.0h0M390.9 92.6h0M451.0 90.0h0M465.9 40.6h0M470.1 106.3h0M361.3 193.8h0M369.4 38.2h0M488.5 70.7h0M369.7 86.7h0M385.2 200.6h0M410.4 167.7h0M459.6 38.3h0M492.2 24.0h0M453.3 111.2h0M489.8 94.9h0M386.6 188.3h0M485.8 54.0h0M414.6 45.2h0M433.8 108.5h0M399.0 183.2h0M416.7 134.0h0M374.5 203.6h0M494.3 74.9h0M374.8 130.0h0M492.4 119.0h0M398.4 83.3h0M370.1 187.9h0M445.6 85.1h0M472.2 86.2h0M490.3 58.3h0M409.0 169.2h0M399.5 36.5h0M359.5 87.1h0M454.3 97.8h0M432.9 141.5h0M495.0 128.4h0M420.8 131.9h0M345.9 106.1h0M407.6 190.1h0M414.6 106.6h0M429.7 146.2h0M419.8 62.2h0M375.4 31.9h0M369.8 78.7h0M413.1 161.7h0M398.2 86.9h0M365.4 110.8h0M400.1 183.2h0M431.9 108.6h0M415.0 21.9h0M377.1 28.7h0M355.3 203.3h0M478.7 94.4h0M433.2 127.9h0M421.2 11.2h0M418.3 49.4h0M397.9 37.7h0M361.9 191.0h0M476.6 104.7h0M446.1 70.1h0M361.5 17.8h0M398.4 90.7h0M480.8 114.3h0M446.2 66.4h0M466.2 103.7h0M444.1 37.2h0M380.8 169.0h0M457.3 51.3h0M428.0 81.9h0M494.3 136.3h0M362.3 107.4h0M440.0 104.2h0M427.9 68.9h0M464.4 120.2h0M364.9 28.4h0M480.7 26.8h0M385.8 203.3h0M355.0 33.4h0M410.1 159.5h0M396.4 71.3h0M466.1 76.4h0M389.6 107.3h0M397.7 8.1h0M393.9 121.2h0M370.0 91.5h0M382.5 14.6h0M370.7 200.9h0M397.6 186.9h0M352.5 72.8h0M410.3 174.8h0M477.5 61.2h0M455.3 161.3h0M472.5 20.0h0M462.4 129.4h0M462.4 65.3h0M432.4 145.4h0M481.6 70.9h0M364.6 33.9h0M493.8 131.4h0M426.4 164.3h0M467.3 151.8h0M456.5 159.8h0M419.8 98.3h0M355.7 6.8h0M431.7 10.6h0M418.8 77.2h0M418.5 46.6h0M485.5 89.2h0M469.9 90.7h0M454.0 101.0h0M352.2 29.2h0M439.1 81.6h0M365.9 112.9h0M474.7 103.2h0M474.9 114.3h0M469.3 110.5h0M402.6 71.3h0M368.4 196.4h0M482.9 117.7h0M363.4 41.1h0M380.4 203.3h0M447.9 48.0h0M448.0 10.9h0M479.4 63.1h0M462.7 67.4h0M475.1 68.8h0M449.8 71.5h0M477.8 59.2h0M437.2 111.3h0M358.8 196.5h0M393.7 78.6h0M349.6 12.7h0M399.7 122.4h0M389.2 108.2h0M464.1 22.7h0M366.1 38.0h0M416.6 112.3h0M436.3 55.6h0M488.2 137.1h0M422.8 72.4h0M461.1 76.4h0M488.5 80.8h0M397.1 122.8h0M479.1 71.7h0M389.5 50.3h0M377.2 84.9h0M418.5 139.8h0M432.6 178.0h0M357.6 18.4h0M492.1 138.2h0M460.5 137.0h0M413.4 161.3h0M489.7 87.8h0M360.6 39.9h0M461.1 160.5h0M449.9 7.9h0M430.0 178.8h0M402.3 159.0h0M353.2 196.7h0M467.3 21.7h0M424.4 80.2h0M427.7 76.4h0M487.8 7.3h0M397.2 198.5h0M346.9 41.0h0M382.1 92.7h0M383.9 99.1h0M432.2 43.6h0M389.0 181.0h0M469.9 143.9h0M490.8 91.6h0M396.5 123.6h0M417.0 62.7h0M410.0 160.4h0M355.9 104.8h0M412.7 121.0h0M363.9 73.4h0M365.6 206.1h0M385.7 106.4h0M472.7 120.1h0M419.6 51.5h0M425.5 25.0h0M381.9 115.6h0M383.7 205.1h0M466.7 152.2h0M421.9 137.4h0M476.2 127.7h0M447.3 89.6h0M485.9 100.9h0M381.7 17.7h0M414.8 167.1h0M480.7 99.5h0M372.6 204.8h0M474.2 104.6h0M399.1 76.5h0M355.7 45.2h0M408.6 176.6h0M411.8 113.9h0M365.5 107.8h0M394.4 170.1h0M441.6 16.8h0M357.3 209.6h0M392.9 46.1h0M468.9 118.7h0M472.3 63.1h0M495.2 82.6h0M491.3 27.6h0M373.4 193.4h0M483.1 141.6h0M449.5 19.8h0M375.3 209.9h0M460.6 29.2h0M422.4 108.1h0M351.0 91.1h0M449.1 101.3h0M474.0 57.0h0M422.6 99.8h0M397.1 37.0h0M352.2 96.8h0M398.0 114.3h0M354.0 201.5h0M463.9 63.6h0M437.5 167.5h0M373.8 47.6h0M360.7 12.2h0M482.8 61.9h0M410.2 86.4h0M355.6 12.1h0M414.3 83.9h0M464.0 82.4h0M455.5 44.9h0M408.5 40.4h0M365.3 44.3h0M449.3 54.8h0M489.8 92.2h0M408.0 21.2h0M429.0 86.5h0M352.8 61.3h0M471.1 109.7h0M349.4 220.4h0M379.0 45.6h0M494.6 139.2h0M402.9 82.2h0M472.7 137.1h0M400.9 182.0h0M442.5 102.6h0M411.1 125.5h0M454.2 132.4h0M364.3 179.1h0M378.8 86.3h0M417.2 115.3h0M453.4 34.0h0M416.3 175.5h0M461.5 130.1h0M416.0 149.1h0M478.1 106.5h0M358.5 31.4h0M451.4 16.8h0M383.1 18.0h0M392.2 125.3h0M413.6 171.5h0M364.7 216.2h0M410.0 154.8h0M355.9 85.8h0M463.9 39.0h0M401.2 54.7h0M399.2 10.8h0M445.9 109.0h0M404.3 57.0h0M358.1 227.7h0M485.9 66.6h0M350.8 44.5h0M483.7 78.5h0M410.9 105.3h0M398.9 173.1h0M350.2 59.2h0M456.9 89.5h0M461.1 129.5h0M384.2 181.4h0M389.3 52.2h0M401.1 156.9h0M361.0 8.6h0M346.3 195.1h0M352.0 51.1h0M409.9 170.5h0M450.3 47.9h0M435.8 146.4h0M384.3 46.6h0M409.0 96.6h0M385.9 207.3h0M357.2 187.7h0M432.7 132.1h0M417.7 11.7h0M457.3 114.0h0M354.5 191.6h0M349.0 17.4h0M412.9 16.9h0M385.5 31.6h0M469.8 86.2h0M415.9 84.6h0M443.8 116.6h0M391.1 61.4h0M477.4 84.8h0M351.7 190.8h0M357.2 51.0h0M440.0 150.6h0M398.3 61.1h0M374.3 194.7h0M492.9 84.3h0M462.5 39.6h0M446.5 41.0h0M496.7 141.9h0M360.1 17.8h0M396.8 50.9h0M452.9 48.8h0M471.6 56.2h0M455.7 149.6h0M474.9 89.5h0M421.4 14.1h0M372.8 13.9h0M429.9 135.2h0M455.1 158.8h0M358.8 36.5h0M374.1 204.1h0M460.8 107.4h0M392.6 65.6h0M357.4 102.2h0M438.8 26.1h0M358.5 22.2h0M399.4 120.4h0M355.6 107.0h0M434.8 122.5h0M473.0 57.9h0M420.0 88.4h0M398.2 97.8h0M380.6 127.7h0M347.9 67.0h0M402.7 86.9h0M439.3 111.7h0M490.5 26.4h0M393.8 26.0h0M468.5 97.5h0M378.7 67.6h0M442.7 65.7h0M350.4 87.1h0M374.1 105.7h0M436.4 69.8h0M356.7 222.8h0M452.8 150.6h0M394.7 25.8h0M347.9 35.6h0M490.0 11.5h0M491.8 58.0h0M418.3 74.8h0M438.4 91.9h0M473.3 39.7h0M449.3 119.7h0M432.6 112.1h0M423.6 163.6h0M397.6 41.2h0M370.5 113.2h0M436.8 177.4h0M451.2 11.4h0M410.2 191.5h0M399.5 194.3h0M396.0 51.3h0M421.9 97.2h0M465.5 34.6h0M485.5 66.6h0M458.8 89.4h0M488.2 10.3h0M475.3 68.9h0M484.8 63.6h0M422.7 64.7h0M451.7 142.4h0M488.6 149.8h0M355.4 108.0h0M413.4 162.3h0M350.5 33.2h0M442.3 50.5h0M357.7 86.1h0M481.1 33.3h0M434.2 122.3h0M390.2 70.4h0M370.1 181.2h0M480.4 48.5h0M442.6 126.9h0M369.4 218.1h0M435.8 115.2h0M365.5 47.9h0M388.0 194.4h0M444.9 152.9h0M473.1 37.0h0M489.1 103.3h0M415.1 126.5h0M433.8 78.2h0M408.1 47.1h0M412.2 75.6h0M404.6 85.3h0M362.2 24.3h0M457.9 109.5h0M368.9 14.8h0M398.4 22.7h0M376.6 114.6h0M487.7 59.2h0M453.0 88.7h0M477.6 91.4h0M452.0 128.2h0M474.3 59.3h0M393.5 84.1h0M438.0 58.7h0M426.5 125.5h0M408.4 41.3h0M431.1 82.6h0M365.3 92.8h0M383.7 108.3h0M446.4 98.2h0M371.6 122.5h0M368.2 16.3h0M362.5 54.3h0M490.3 52.6h0M482.2 150.8h0M413.4 20.9h0M384.6 65.5h0M461.9 120.3h0M457.9 144.5h0M497.2 56.5h0M373.4 171.5h0M369.9 195.7h0M382.6 101.3h0M351.7 126.9h0M430.1 149.8h0M484.4 85.0h0M449.1 79.5h0M347.1 30.7h0M444.9 8.3h0M364.7 73.4h0M453.4 67.3h0M402.6 30.2h0M485.1 7.2h0M401.8 92.7h0M376.0 80.0h0M385.8 31.2h0M365.6 102.8h0M432.3 134.1h0M467.6 84.2h0M376.8 49.2h0M400.3 189.9h0M406.0 12.3h0M346.5 15.8h0M427.0 51.3h0M368.1 220.0h0M388.7 101.7h0M436.6 103.0h0M430.8 146.9h0M432.1 113.0h0M462.7 133.3h0M416.9 141.4h0M381.8 111.3h0M352.1 47.0h0M369.6 99.0h0M404.5 59.5h0M467.7 60.8h0M382.2 68.8h0M361.2 37.6h0M434.6 109.7h0M430.5 146.2h0M362.9 21.1h0M349.0 115.5h0M368.4 128.9h0M397.2 8.0h0M495.0 125.0h0M488.0 125.4h0M389.9 19.9h0M346.5 200.9h0M440.1 76.8h0M346.0 117.4h0M459.5 156.5h0M377.9 19.6h0M442.4 121.6h0M388.0 173.4h0M396.0 121.9h0M415.9 178.5h0M404.9 28.2h0M470.3 138.4h0M381.6 101.3h0M368.3 83.3h0M393.4 57.3h0M465.9 82.8h0M392.8 15.7h0M430.0 79.2h0M380.8 83.9h0M358.3 185.4h0M429.9 153.6h0M359.5 77.5h0M465.9 107.0h0M371.8 96.4h0M410.3 161.0h0M383.1 179.9h0M438.8 135.8h0M376.5 90.4h0M480.9 150.6h0M346.7 10.9h0M361.9 55.6h0M386.3 113.3h0M352.2 229.1h0M444.4 140.6h0M394.4 90.8h0M416.9 82.3h0M397.0 17.0h0M431.6 119.8h0M461.4 18.5h0M417.2 74.3h0M398.5 63.3h0M424.4 70.3h0M465.9 69.3h0M428.7 135.7h0M442.7 27.8h0M376.4 15.3h0M439.6 59.3h0M379.7 8.7h0M491.5 103.7h0M429.7 54.4h0M366.3 196.0h0M472.6 21.0h0M369.0 105.8h0M437.5 72.4h0M438.3 141.5h0M459.5 49.9h0M458.0 157.4h0M426.1 166.0h0M451.8 161.1h0M389.9 94.8h0M393.7 115.8h0M356.6 23.5h0M479.5 49.9h0M385.3 31.0h0M376.2 186.7h0M461.1 90.9h0M486.3 135.8h0M437.1 175.6h0M422.4 166.1h0M423.2 174.2h0M487.7 62.2h0M438.9 129.6h0M427.7 136.6h0M422.2 20.5h0M471.8 119.0h0M478.2 21.0h0M349.6 120.3h0M439.2 72.5h0M402.5 164.3h0M390.1 203.5h0M491.4 134.1h0M453.6 113.4h0M350.7 81.4h0M376.5 173.8h0M394.5 98.5h0M373.9 81.9h0M426.0 173.6h0M405.5 47.0h0M411.8 185.3h0M352.5 106.9h0M387.8 62.9h0M419.1 54.8h0M388.8 25.0h0M469.4 45.5h0M431.7 173.0h0M379.9 60.3h0M493.6 27.7h0M406.0 175.2h0M353.1 118.6h0M383.9 184.9h0M428.8 23.1h0M450.9 143.9h0M414.8 116.9h0M483.7 91.6h0M478.9 83.8h0M398.0 26.0h0M462.0 29.0h0M459.6 51.4h0M394.3 57.8h0M496.3 79.9h0M413.0 48.1h0M433.8 63.0h0M360.0 199.4h0M421.5 121.9h0M424.7 135.1h0M471.7 107.4h0M353.1 208.2h0M354.7 45.9h0M400.7 176.9h0M469.0 149.9h0M370.5 8.7h0M360.3 52.0h0M459.1 106.8h0M439.3 138.3h0M439.9 146.7h0M400.6 96.6h0M346.1 47.7h0M486.0 81.3h0M485.8 30.5h0M377.8 10.5h0M452.8 37.5h0M452.4 97.4h0M448.8 119.1h0M482.2 74.1h0M471.5 69.1h0M356.7 109.4h0M408.0 12.5h0M412.7 13.6h0M419.9 77.4h0M411.7 156.0h0M392.6 202.2h0M467.7 93.8h0M358.7 79.8h0M444.9 8.7h0M427.5 23.9h0M409.3 92.3h0M384.5 107.3h0M407.0 111.3h0M424.9 180.2h0M426.4 145.1h0M494.2 85.2h0M436.8 169.7h0M467.7 74.9h0M392.1 64.6h0M443.7 159.6h0M408.2 78.0h0M493.7 122.2h0M485.2 97.8h0M378.7 204.2h0M441.6 134.2h0M423.4 89.8h0M345.7 116.2h0M450.5 107.2h0M464.4 86.7h0M487.4 106.8h0M377.9 38.2h0M442.2 66.1h0M387.3 181.6h0M393.3 60.1h0M365.1 91.1h0M464.5 91.5h0M463.6 126.1h0M460.1 138.1h0M373.3 46.5h0M354.3 95.6h0M449.9 110.2h0M445.1 9.3h0M441.0 167.8h0M444.3 42.8h0M391.6 63.1h0M491.3 10.9h0M495.6 51.8h0M410.3 115.3h0M400.6 31.0h0M384.0 20.5h0M423.0 34.3h0M405.0 28.1h0M397.9 190.8h0M484.3 109.0h0M447.3 136.8h0M397.9 30.4h0M363.4 125.8h0M375.4 170.2h0M363.2 208.6h0M368.6 206.4h0M410.5 65.0h0M377.9 21.8h0M455.8 97.8h0M383.4 125.9h0M348.8 105.4h0M386.8 29.7h0M396.0 177.9h0M389.3 71.2h0M436.3 121.9h0M404.3 100.4h0M378.1 112.6h0M460.5 95.5h0M493.2 110.2h0M351.5 194.0h0M368.9 71.8h0M462.5 132.8h0M366.1 26.7h0M409.7 81.8h0M407.6 71.5h0M388.9 174.8h0M348.6 112.0h0M373.4 128.6h0M470.7 71.4h0M402.1 166.4h0M381.1 121.9h0M348.2 196.3h0M465.4 104.9h0M430.9 142.3h0M422.2 22.2h0M385.9 9.7h0M413.5 39.3h0M373.6 172.8h0M420.6 48.2h0M396.5 18.7h0M419.4 174.8h0M360.0 16.8h0M400.5 8.1h0M495.6 127.3h0M419.2 26.0h0M374.3 29.4h0M445.3 88.9h0M461.1 57.8h0M353.4 64.3h0M412.9 155.4h0M406.7 12.9h0M391.1 20.7h0M417.2 147.1h0M462.2 123.0h0M367.2 207.8h0M416.0 69.7h0M490.5 24.9h0M349.1 20.2h0M373.9 31.6h0M450.8 76.0h0M370.7 103.4h0M423.0 141.3h0M403.7 59.6h0M474.7 67.5h0M420.1 67.6h0M481.2 140.7h0M349.0 8.7h0M488.9 86.8h0M484.4 77.2h0M390.9 28.3h0M475.5 85.6h0M387.1 20.8h0M462.2 112.9h0M423.5 38.9h0M444.5 138.0h0M457.8 102.1h0M370.8 61.0h0M362.9 217.0h0M432.4 11.6h0M376.2 127.9h0M440.7 8.6h0M451.0 55.6h0M456.2 47.5h0M408.7 191.0h0M379.4 189.1h0M480.8 111.0h0M391.1 46.4h0M459.4 51.6h0M430.9 60.1h0M479.0 32.7h0M420.1 36.1h0M465.1 122.5h0M395.1 36.6h0M452.1 112.3h0M403.7 84.6h0M492.0 134.4h0M360.8 181.1h0M400.6 51.2h0M375.8 90.9h0M410.7 121.8h0M431.5 13.3h0M382.8 26.1h0M379.8 112.5h0M357.2 84.3h0M358.4 117.9h0M448.9 99.7h0M443.6 31.3h0M438.3 158.2h0M486.9 26.4h0M436.2 16.7h0M462.6 27.0h0M453.8 25.3h0M427.6 92.9h0M389.5 8.8h0M348.0 115.1h0M440.2 13.8h0M413.7 81.2h0M358.5 116.4h0M487.0 15.7h0M465.6 136.8h0M480.2 155.1h0M458.5 62.6h0M404.8 122.6h0M356.5 53.1h0M425.8 159.7h0M364.2 42.2h0M473.2 154.0h0M496.2 70.2h0M421.2 102.3h0M400.4 60.0h0M385.1 9.7h0M480.4 6.5h0M367.1 80.6h0M385.7 195.1h0M401.1 173.1h0M473.2 10.8h0M428.8 118.7h0M348.3 50.3h0M480.8 99.3h0M402.5 101.3h0M356.2 62.9h0M448.4 103.2h0M380.4 116.8h0M432.0 161.0h0M438.2 80.1h0M448.5 72.7h0M392.5 8.9h0M402.3 78.9h0M387.5 116.1h0M362.0 219.0h0M482.9 151.5h0M367.7 126.3h0M396.2 129.0h0M374.3 191.9h0M477.0 143.4h0M392.4 17.6h0M421.2 25.7h0M458.3 149.6h0M363.8 32.6h0M426.6 153.4h0M389.3 108.5h0M393.0 26.7h0M361.3 205.3h0M484.2 150.0h0M347.9 117.9h0M364.6 179.6h0M433.1 40.2h0M435.3 34.9h0M450.1 52.6h0M476.9 100.5h0M351.8 231.0h0M414.7 37.7h0M393.0 185.8h0M460.1 97.8h0M366.9 206.5h0M412.7 7.1h0M443.7 100.0h0M417.8 17.5h0M417.1 95.7h0M409.4 187.3h0M483.2 46.5h0M369.6 89.6h0M385.9 171.9h0M356.0 71.2h0M464.6 89.0h0M421.9 121.3h0M447.2 139.8h0M470.2 62.1h0M476.8 17.5h0M425.3 101.5h0M489.4 72.0h0M353.9 216.2h0M418.0 9.0h0M425.1 143.7h0M370.5 85.7h0M361.1 65.3h0M437.3 78.7h0M485.5 114.0h0M363.4 82.6h0M370.9 89.8h0M472.8 108.5h0M476.2 139.0h0M432.5 158.8h0M464.9 78.0h0M457.4 79.6h0M377.7 78.4h0M412.9 103.5h0M481.3 101.6h0M405.5 105.5h0M427.3 130.8h0M405.2 13.6h0M398.1 58.1h0M350.1 196.0h0M459.1 131.5h0M476.4 40.6h0M405.3 59.7h0M383.2 97.5h0M420.9 29.3h0M433.6 66.4h0M466.6 78.5h0M425.8 155.6h0M360.4 218.6h0M443.1 128.6h0M485.9 32.2h0M394.3 186.6h0M445.7 144.5h0M398.3 65.4h0M417.7 36.6h0M424.9 152.3h0M395.3 75.6h0M409.4 72.3h0M414.4 181.2h0M433.3 9.4h0M364.5 44.7h0M432.3 77.6h0M490.9 130.7h0M459.6 26.8h0M350.0 50.9h0M361.7 22.0h0M441.4 62.1h0M408.6 127.3h0M491.2 80.5h0M390.1 76.3h0M361.8 43.6h0M422.3 142.9h0M432.6 134.6h0M436.9 46.7h0M446.9 35.5h0M376.2 101.4h0M366.7 98.0h0M434.2 103.8h0M368.4 48.1h0M378.6 175.8h0M384.7 203.5h0M477.5 49.3h0M449.0 29.2h0M366.7 52.1h0M355.8 210.3h0M468.8 98.0h0M431.9 179.3h0M367.4 207.6h0M411.1 153.6h0M370.4 121.2h0M455.6 32.2h0M440.0 67.5h0M397.0 109.9h0M462.0 143.6h0M409.6 86.1h0M436.4 158.8h0M448.2 95.6h0M495.6 94.1h0M478.9 26.6h0M476.8 39.4h0M453.3 64.2h0M450.4 86.4h0M397.4 26.9h0M443.4 83.6h0M436.2 76.0h0M494.0 28.7h0M370.9 44.5h0M451.4 15.5h0M349.2 22.8h0M435.8 7.2h0M366.3 88.8h0M407.5 186.7h0M417.0 135.8h0M394.5 96.0h0M424.0 112.4h0M411.4 161.2h0M353.2 75.3h0M370.3 40.0h0M402.7 60.3h0M381.0 96.5h0M358.3 183.9h0M458.2 81.0h0M402.3 118.1h0M403.1 173.6h0M447.8 29.8h0M485.5 141.3h0M463.9 96.6h0M389.9 119.5h0M398.6 48.8h0M423.3 120.2h0M380.2 184.1h0M407.3 87.5h0M481.1 13.9h0M452.0 84.0h0M373.2 172.8h0M457.2 77.3h0M352.1 102.4h0M392.9 167.8h0M482.9 30.1h0M446.6 95.0h0M453.1 39.6h0M444.9 125.1h0M453.8 96.5h0M462.7 140.3h0M393.1 79.0h0M379.6 17.3h0M451.8 122.0h0M351.2 10.8h0M383.3 78.8h0M437.0 130.6h0M379.0 194.3h0M444.0 76.1h0M440.1 74.7h0M470.7 90.4h0M406.2 84.6h0M424.3 117.7h0M370.0 215.7h0M463.0 145.7h0M436.9 14.5h0M480.8 57.3h0M478.5 148.7h0M477.4 151.8h0M476.1 25.4h0M442.1 85.9h0M409.7 153.7h0M494.3 57.9h0M419.5 65.4h0M354.2 210.8h0M373.8 77.9h0M376.3 75.9h0M359.3 198.6h0M471.8 42.5h0M360.7 85.7h0M369.1 30.1h0M457.9 92.7h0M380.2 89.9h0M438.5 167.9h0M435.1 74.7h0M433.9 112.1h0M463.8 51.0h0M455.5 77.1h0M433.7 84.4h0M349.7 70.7h0M404.3 103.0h0M399.9 164.1h0M422.9 118.6h0M464.0 54.7h0M440.1 39.3h0M363.2 110.8h0M483.1 24.1h0M466.4 84.0h0M447.5 122.6h0M489.8 62.6h0M423.8 164.2h0M414.3 6.7h0M434.3 178.8h0M433.0 98.5h0M407.9 82.9h0M467.4 97.2h0M410.7 70.9h0M467.1 149.2h0M407.9 94.7h0M495.2 126.3h0M399.4 82.3h0M381.8 40.8h0M411.6 32.1h0M403.9 171.9h0M394.4 185.9h0M397.4 14.2h0M468.1 88.4h0M433.3 35.7h0M457.8 6.9h0M457.8 67.2h0M481.0 142.8h0M410.5 93.8h0M453.9 135.0h0M454.7 128.7h0M452.6 53.4h0M425.5 135.5h0M421.9 33.8h0M388.9 127.2h0M472.6 45.4h0M487.7 11.7h0M361.9 114.5h0M487.6 23.0h0M397.3 10.8h0M385.1 129.6h0M362.0 194.6h0M476.5 65.2h0M419.3 12.3h0M398.7 54.3h0M392.7 168.6h0M433.2 70.5h0M415.9 146.2h0M370.0 51.6h0M394.0 180.2h0M389.8 58.9h0M406.1 39.8h0M406.6 39.5h0M481.9 55.0h0M377.8 80.2h0M364.2 31.6h0M431.5 46.8h0M373.5 210.1h0M466.5 153.2h0M450.1 130.2h0M386.3 167.5h0M459.9 143.2h0M357.1 23.2h0M439.0 147.2h0M362.4 34.5h0M466.7 99.4h0M413.0 95.6h0M427.7 83.5h0M395.4 125.1h0M442.0 162.8h0M353.4 15.2h0M417.5 42.4h0M351.1 58.7h0M410.2 66.9h0M460.5 85.5h0M385.8 187.2h0M403.9 179.5h0M426.9 133.7h0M476.6 140.3h0M483.1 151.4h0M443.4 85.8h0M368.5 194.2h0M365.7 74.8h0M408.6 101.3h0M422.0 64.8h0M439.5 67.8h0M493.7 21.7h0M394.1 58.9h0M394.8 44.8h0M451.9 82.7h0M454.9 157.4h0M427.9 180.0h0M373.0 207.5h0M454.6 57.7h0M471.1 37.0h0M371.4 13.9h0M439.7 88.5h0M359.0 208.9h0M417.6 28.6h0M447.8 115.1h0M446.6 114.6h0M374.1 117.8h0M410.5 167.1h0M402.4 90.7h0M435.8 137.5h0M471.1 41.9h0M423.3 167.2h0M384.0 109.9h0M432.6 142.3h0M496.3 78.4h0M347.0 215.2h0M367.9 187.6h0M400.1 179.1h0M350.5 30.9h0M347.3 58.7h0M435.8 75.5h0M400.4 181.1h0M427.5 32.6h0M483.6 47.4h0M406.9 92.3h0M424.0 88.8h0M346.7 214.0h0M348.5 121.6h0M407.6 73.9h0M382.3 104.6h0M393.9 87.2h0M432.9 8.5h0M433.4 81.9h0M469.0 37.0h0M493.5 96.6h0M416.1 149.5h0M351.5 229.3h0M442.7 50.7h0M354.8 103.8h0M429.2 74.2h0M405.6 165.1h0M411.6 115.1h0M481.8 109.5h0M397.3 64.0h0M377.4 209.6h0M409.9 25.0h0M397.0 47.6h0M406.8 108.0h0M375.1 106.6h0M415.4 158.1h0M387.4 125.6h0M358.6 22.9h0M414.9 87.0h0M481.6 77.1h0M361.9 216.4h0M488.8 9.8h0M353.5 103.4h0M386.1 183.8h0M452.3 145.5h0M432.3 140.3h0M442.1 16.9h0M434.0 140.3h0M363.1 67.5h0M356.4 66.5h0M456.0 119.5h0M442.1 94.5h0M386.3 95.5h0M443.6 73.2h0M362.0 60.3h0M406.3 31.0h0M347.3 26.9h0M394.9 75.3h0M395.7 161.7h0M491.4 124.6h0M347.2 103.6h0M496.3 79.3h0M453.9 74.8h0M464.8 15.1h0M452.5 113.8h0M394.4 67.9h0M453.8 78.1h0M481.3 23.2h0M463.7 128.2h0M456.0 157.9h0M462.0 149.5h0M483.4 21.1h0M388.6 123.9h0M380.6 210.3h0M387.2 98.1h0M398.5 39.6h0M393.1 17.5h0M467.7 93.7h0M347.5 56.3h0M393.0 187.0h0M374.5 196.2h0M453.4 147.3h0M399.4 9.6h0M467.4 74.2h0M378.8 173.6h0M382.5 195.6h0M372.3 172.4h0M360.8 111.1h0M495.2 6.7h0M470.7 28.9h0M421.4 49.3h0M427.2 118.3h0M350.4 96.5h0M396.7 125.9h0M377.4 130.8h0M473.2 18.9h0M375.8 177.5h0M382.7 69.7h0M482.2 57.3h0M372.3 36.9h0M413.5 48.3h0M386.9 170.7h0M352.0 86.4h0M349.7 55.3h0M427.9 57.7h0M389.5 172.8h0M463.1 117.9h0M478.4 79.4h0M488.9 14.1h0M403.5 24.1h0M429.8 97.5h0M395.9 10.8h0M365.9 99.8h0M478.9 114.9h0M429.2 67.4h0M391.1 64.5h0M348.3 37.6h0M489.6 81.7h0M371.0 107.3h0M410.9 22.6h0M493.2 62.3h0M374.6 59.8h0M369.0 45.8h0M393.6 119.2h0M481.2 75.0h0M413.3 73.2h0M351.4 44.6h0M485.4 120.8h0M432.5 168.5h0M492.6 38.1h0M365.0 85.2h0M476.7 75.0h0M378.1 212.9h0M381.0 123.5h0M413.0 169.4h0M449.3 27.3h0M349.0 200.5h0M403.1 38.6h0M392.5 172.7h0M474.9 143.0h0M382.7 117.5h0M349.3 196.6h0M373.4 119.0h0M475.7 116.3h0M413.3 148.7h0M379.3 200.9h0M350.3 106.0h0M458.6 26.0h0M410.2 181.9h0M459.4 151.4h0M437.1 162.2h0M461.3 51.1h0M461.4 159.3h0M496.2 28.3h0M346.7 114.5h0M391.0 190.8h0M362.0 34.8h0M484.6 56.7h0M472.9 142.6h0M423.5 29.7h0M420.4 59.5h0M489.0 8.4h0M438.9 48.5h0M380.3 201.2h0M381.2 82.4h0M356.5 54.7h0M381.8 15.1h0M408.5 129.0h0M442.6 14.9h0M417.9 134.1h0M455.9 145.2h0M439.0 163.1h0M490.9 131.2h0M448.7 121.1h0M360.5 97.0h0M430.2 110.3h0M418.0 43.2h0M402.9 121.7h0M350.1 80.9h0M394.0 195.0h0M383.5 42.7h0M374.3 17.9h0M351.8 53.1h0M402.9 188.6h0M493.7 18.2h0M421.2 16.4h0M355.6 50.0h0M463.3 95.6h0M417.4 122.1h0M390.8 162.4h0M491.2 21.8h0M442.1 164.1h0M382.6 19.6h0M494.1 88.7h0M412.3 171.2h0M350.2 57.7h0M463.3 55.4h0M459.3 145.0h0M468.1 143.7h0M353.0 92.4h0M395.9 48.1h0M387.5 112.1h0M475.9 22.7h0M394.5 197.7h0M411.0 83.2h0M368.4 112.7h0M378.0 6.6h0M469.5 112.0h0M430.6 47.2h0M354.9 197.2h0M363.5 190.4h0M389.5 165.7h0M347.3 26.6h0M417.4 100.6h0M349.1 130.5h0M453.8 111.5h0M346.3 230.2h0M453.3 123.2h0M422.8 60.3h0M467.9 63.3h0M471.7 156.0h0M451.5 58.5h0M368.0 212.2h0M400.0 32.7h0M493.6 96.0h0M392.4 202.1h0M480.4 152.0h0M409.7 92.0h0M482.9 148.6h0M465.5 38.8h0M350.2 75.2h0M474.7 115.2h0M390.3 128.6h0M485.4 53.2h0M490.7 33.6h0M350.9 39.4h0M446.1 73.5h0M464.1 24.0h0M463.0 8.6h0M345.9 79.5h0M436.3 50.3h0M380.3 64.5h0M353.3 13.5h0M352.2 188.2h0M360.9 53.9h0M442.4 113.1h0M358.3 125.8h0M486.4 39.8h0M392.9 124.8h0M378.9 125.8h0M348.8 22.7h0M452.7 148.8h0M495.1 54.3h0M476.3 109.5h0M382.0 198.6h0M375.1 69.6h0M489.8 70.0h0M432.4 171.7h0M426.8 150.5h0M477.6 108.9h0M451.3 85.0h0M450.4 54.7h0M361.2 65.9h0M394.7 45.4h0M393.1 41.2h0M484.0 62.7h0M425.4 136.7h0M387.8 83.2h0M415.3 89.3h0M483.6 124.8h0M446.4 169.1h0M398.6 44.4h0M453.3 69.3h0M466.8 42.7h0M460.8 51.0h0M378.2 7.4h0M383.5 106.3h0M353.6 229.3h0M355.1 90.4h0M460.5 159.0h0M421.3 88.5h0M486.4 12.8h0M491.2 37.5h0M366.1 122.8h0M363.7 193.6h0M425.5 118.9h0M415.8 127.4h0M437.1 39.9h0M426.9 132.5h0M474.8 69.9h0M346.2 7.1h0M472.3 85.2h0M372.5 91.2h0M404.5 128.1h0M387.3 24.0h0M375.5 50.7h0M361.2 52.7h0M446.8 170.4h0M436.9 64.0h0M354.4 85.5h0M380.3 183.8h0M413.9 25.1h0M352.7 71.6h0M464.3 127.9h0M404.7 78.9h0M421.0 95.1h0M392.6 176.0h0M488.6 81.8h0M471.5 21.5h0M425.9 121.5h0M348.3 81.4h0M392.6 35.5h0M370.3 102.8h0M367.0 24.9h0M419.3 31.5h0M357.8 86.2h0M457.6 152.6h0M452.2 123.8h0M473.2 13.0h0M404.2 158.4h0M403.6 81.5h0M431.6 72.3h0M421.4 133.9h0M362.3 41.2h0M449.9 160.0h0M407.0 71.2h0M480.0 32.1h0M357.0 70.3h0M402.2 176.4h0M392.3 178.1h0M426.6 114.6h0M400.3 25.3h0M442.7 164.9h0M491.6 75.3h0M477.0 81.1h0M453.0 59.4h0M406.2 103.0h0M395.1 47.7h0M371.1 96.3h0M350.9 36.9h0M358.9 24.1h0M471.3 66.7h0M467.7 111.2h0M483.4 100.3h0M479.9 91.7h0M440.1 42.4h0M365.6 56.0h0M449.5 167.1h0M475.0 57.2h0M470.8 44.9h0M405.0 57.7h0M370.0 125.9h0M376.9 71.1h0M368.8 90.1h0M449.4 118.8h0M493.5 110.8h0M432.9 164.3h0M395.2 170.9h0M380.7 37.5h0M421.7 33.1h0M458.1 106.4h0M468.6 119.6h0M383.8 63.8h0M471.2 120.3h0M466.4 108.9h0M408.3 151.5h0M349.5 38.6h0M405.2 120.1h0M430.5 125.3h0M494.8 16.4h0M490.0 50.2h0M433.4 44.4h0M472.0 10.3h0M361.5 88.2h0M377.4 76.4h0M392.1 169.3h0M395.9 90.8h0M420.5 32.7h0M477.9 137.0h0M433.4 151.6h0M472.8 129.7h0M449.9 36.7h0M467.8 143.1h0M465.4 78.3h0M353.9 212.4h0M390.6 162.4h0M365.8 44.8h0M439.7 40.2h0M353.4 197.7h0M365.2 40.4h0M460.0 88.6h0M437.7 89.4h0M372.8 81.6h0M359.1 109.0h0M440.4 169.5h0M417.7 148.7h0M378.9 196.1h0M414.7 82.6h0M372.0 90.1h0M423.7 163.3h0M347.3 131.1h0M367.1 218.7h0M423.6 42.0h0M471.6 151.9h0M392.4 53.2h0M418.3 47.4h0M364.2 87.8h0M358.4 108.4h0M435.6 106.2h0M380.7 41.1h0M425.0 125.9h0M487.8 36.4h0M447.2 21.0h0M372.4 101.7h0M460.9 122.4h0M436.6 126.3h0M480.7 80.0h0M422.9 39.0h0M411.4 94.7h0M462.8 68.1h0M347.8 82.8h0M477.4 78.9h0M448.3 145.4h0M382.0 6.9h0M479.7 86.1h0M358.8 196.1h0M401.6 56.0h0M351.7 222.6h0M425.5 37.1h0M384.5 204.9h0M352.4 197.9h0M348.8 15.8h0M446.3 54.5h0M452.6 22.0h0M494.1 130.3h0M460.8 31.0h0M484.6 114.8h0M452.7 6.8h0M432.1 69.2h0M437.3 131.7h0M450.2 27.1h0M454.7 73.0h0M448.4 64.1h0M485.9 96.3h0M441.3 38.4h0M384.3 111.8h0M469.3 30.8h0M364.8 70.6h0M421.2 183.4h0M371.3 25.1h0M468.9 59.4h0M493.7 73.3h0M391.9 171.6h0M494.9 47.5h0M445.2 50.3h0M414.0 189.1h0M405.0 190.5h0M376.9 66.7h0M428.5 10.3h0M441.7 31.8h0M361.4 210.9h0M479.7 23.6h0M409.1 31.8h0M397.1 111.7h0M484.9 127.5h0M385.7 58.0h0M483.4 80.6h0M375.7 121.8h0M427.2 28.6h0M476.2 100.8h0M368.2 62.8h0M452.8 169.8h0M489.0 116.8h0M348.2 118.6h0M447.7 94.4h0M402.6 10.4h0M491.0 50.6h0M354.7 52.4h0M383.1 96.0h0M434.7 97.1h0M450.1 152.5h0M439.1 25.5h0M402.6 78.9h0M475.3 35.5h0M427.6 62.1h0M455.3 26.2h0M432.6 153.7h0M394.1 195.4h0M381.1 87.8h0M406.2 94.3h0M345.8 49.2h0M463.7 52.3h0M413.7 44.8h0M363.4 15.1h0M357.1 61.3h0M496.2 112.4h0M403.6 183.6h0M466.4 85.1h0M466.6 55.1h0M352.4 76.2h0M445.4 153.9h0M462.4 91.4h0M387.1 164.0h0M453.7 86.6h0M416.2 153.9h0M424.8 108.3h0M400.3 158.1h0M365.3 20.0h0M350.9 204.0h0M471.8 74.7h0M348.8 98.3h0M464.1 83.3h0M405.9 42.0h0M408.1 126.3h0M345.9 54.3h0M491.2 59.2h0M474.8 131.1h0M400.2 77.9h0M365.9 76.5h0M419.5 30.2h0M469.2 159.8h0M361.4 186.8h0M442.2 12.6h0M472.5 156.5h0M417.0 31.4h0M440.9 29.9h0M493.2 62.4h0M475.2 46.2h0M479.2 74.7h0M453.4 106.0h0M410.5 8.3h0M357.8 115.0h0M374.0 45.6h0M360.6 81.1h0M368.9 176.1h0M420.3 159.4h0M413.0 85.3h0M476.5 53.0h0M354.1 113.9h0M417.6 121.8h0M444.6 119.7h0M445.7 88.6h0M435.5 47.7h0M431.8 124.3h0M491.6 107.6h0M443.4 79.8h0M356.2 38.5h0M396.7 103.5h0M404.0 40.8h0M378.3 123.6h0M437.8 156.2h0M439.5 150.3h0M433.2 90.7h0M468.4 96.2h0M407.0 82.1h0M427.0 163.8h0M407.9 84.0h0M358.8 90.7h0M459.2 148.0h0M382.4 194.7h0M462.5 39.9h0M402.7 21.9h0M383.0 98.6h0M408.6 156.9h0M410.3 161.5h0M376.8 213.7h0M414.3 111.9h0M397.4 113.8h0M436.9 111.9h0M484.5 82.7h0M385.9 189.0h0M456.3 145.6h0M346.5 97.1h0M476.9 67.1h0M451.1 154.6h0M416.2 41.1h0M380.8 210.3h0M379.1 125.0h0M390.9 172.1h0M378.8 82.9h0M350.7 207.9h0M420.7 13.9h0M432.0 44.2h0M431.8 138.9h0M415.1 167.7h0M351.1 112.8h0M359.1 199.8h0M457.4 62.7h0M452.9 102.0h0M458.1 20.7h0M478.9 40.3h0M432.5 142.5h0M464.0 53.9h0M417.5 49.1h0M365.5 11.6h0M358.9 79.7h0M363.1 57.8h0M398.3 128.7h0M454.9 82.1h0M366.2 92.0h0M417.3 99.5h0M473.6 116.4h0M437.9 63.3h0M482.7 100.2h0M393.3 69.4h0M414.3 92.2h0M454.0 116.1h0M489.9 148.2h0M451.1 26.1h0M469.5 95.3h0M376.9 19.5h0M345.8 72.0h0M466.7 80.8h0M463.4 157.8h0M470.8 48.6h0M451.4 83.3h0M424.1 9.6h0M427.8 81.4h0M351.7 189.6h0M415.6 95.2h0M360.8 20.6h0M431.4 118.2h0M431.4 62.8h0M406.2 182.8h0M475.8 50.2h0M440.3 42.5h0M430.6 64.5h0M345.8 197.8h0M442.8 90.6h0M400.8 177.8h0M488.7 30.3h0M387.2 32.7h0M405.6 62.9h0M352.5 95.1h0M489.4 139.9h0M360.7 218.8h0M458.8 139.5h0M409.3 150.9h0M459.1 6.7h0M451.0 131.8h0M346.7 218.0h0M369.3 109.5h0M445.1 129.8h0M396.0 161.0h0M493.2 122.0h0M419.9 80.1h0M439.5 150.6h0M405.8 21.8h0M462.8 100.5h0M441.3 40.1h0M485.3 93.4h0M359.8 103.5h0M398.7 114.2h0M386.3 172.4h0M361.6 6.6h0M398.1 44.2h0M367.2 51.7h0M440.5 34.9h0M353.5 69.4h0M368.1 114.4h0M479.0 48.3h0M403.1 9.4h0M455.4 13.4h0M437.7 71.6h0M379.3 29.3h0M358.6 14.4h0M360.9 13.0h0M472.7 122.0h0M397.9 44.4h0M423.0 19.7h0M380.5 71.8h0M431.8 130.9h0M429.1 158.1h0M358.5 120.3h0M439.6 97.2h0M396.9 88.9h0M447.7 57.7h0M361.4 112.8h0M351.5 103.7h0M461.0 37.3h0M482.3 141.1h0M492.5 114.0h0M478.6 123.3h0M444.8 128.9h0M348.1 99.5h0M409.2 34.3h0M360.6 24.9h0M381.1 105.7h0M356.0 89.8h0M389.4 101.7h0M354.5 76.6h0M355.2 92.5h0M486.4 18.1h0M441.5 17.9h0M367.7 49.7h0M387.6 11.7h0M396.4 51.8h0M370.4 211.4h0M438.4 113.6h0M430.3 11.7h0M420.2 33.8h0M400.9 18.5h0M386.1 81.3h0M401.2 159.5h0M424.8 103.3h0M410.8 163.0h0M483.9 119.6h0M490.6 136.8h0M351.2 16.1h0M480.1 82.3h0M397.2 192.0h0M461.3 42.5h0M420.0 87.3h0M386.8 99.7h0M389.0 24.7h0M347.1 200.5h0M420.0 13.6h0M403.6 177.8h0M369.3 29.8h0M474.6 52.5h0M460.9 8.7h0M461.2 109.0h0M415.8 53.3h0M482.1 19.5h0M411.7 97.4h0M460.4 11.7h0M390.4 72.3h0M472.7 135.9h0M393.7 24.0h0M414.5 72.4h0M383.1 31.7h0M367.5 87.8h0M397.3 97.6h0M422.1 145.3h0M435.0 80.6h0M427.6 59.7h0M356.9 16.2h0M363.6 14.8h0M476.6 91.0h0M367.9 219.6h0M355.6 23.8h0M357.8 69.6h0M360.2 117.0h0M375.6 196.3h0M439.7 144.4h0M348.7 97.9h0M437.4 132.5h0M452.9 122.4h0M412.9 190.0h0M444.6 139.8h0M387.0 66.7h0M481.4 47.7h0M432.2 176.9h0M433.3 38.9h0M495.6 119.2h0M375.2 200.9h0M436.5 166.0h0M433.5 163.4h0M396.3 117.0h0M387.6 177.3h0M375.7 119.2h0M348.4 228.4h0M487.9 105.3h0M425.3 163.1h0M493.8 138.9h0M449.3 97.6h0M415.2 158.2h0M389.2 57.4h0M407.2 113.9h0M475.5 13.8h0M377.3 85.4h0M363.9 216.3h0M349.4 231.9h0M451.9 118.8h0M374.3 53.2h0M384.8 118.6h0M472.1 114.2h0M406.3 170.3h0M459.6 64.4h0M471.6 108.7h0M398.9 167.8h0M460.7 11.9h0M436.2 142.4h0M395.8 119.8h0M468.8 52.5h0M404.6 124.4h0M360.5 43.5h0M405.4 53.1h0M376.5 54.0h0M425.0 168.8h0M428.8 176.5h0M450.5 122.7h0M486.5 96.0h0M439.2 90.7h0M355.1 77.5h0M367.8 87.9h0M360.4 73.9h0M474.1 153.6h0M370.1 21.8h0M460.5 124.2h0M405.9 22.5h0M438.8 36.3h0M442.2 146.0h0M420.0 12.7h0M451.1 126.5h0M386.6 72.8h0M459.8 74.5h0M459.0 98.6h0M359.1 93.5h0M495.2 78.7h0M417.2 147.1h0M404.1 172.8h0M403.0 122.8h0M442.6 97.0h0M351.1 119.8h0M457.8 119.9h0M435.8 70.5h0M401.7 175.4h0M351.9 130.7h0M483.5 108.6h0M355.7 109.6h0M469.5 156.4h0M460.1 145.1h0M472.5 11.5h0M377.0 191.7h0M398.5 160.2h0M429.3 181.1h0M447.7 30.7h0M464.1 104.2h0M464.7 98.2h0M436.2 173.5h0M388.6 98.5h0M392.4 115.5h0M407.4 22.6h0M434.0 12.1h0M385.7 194.9h0M490.9 10.4h0M435.6 112.1h0M455.5 137.4h0M480.2 60.9h0M370.9 89.3h0M467.0 134.9h0M439.7 105.6h0M411.8 151.2h0M456.6 63.6h0M370.0 46.5h0" stroke="#808080"/>
<path d="M134.0 32.6h0M126.7 77.3h0M98.7 99.6h0M196.6 15.2h0M170.1 32.8h0M70.6 109.6h0M166.6 56.3h0M163.5 6.3h0M146.8 47.9h0M103.7 97.5h0M126.6 113.7h0M134.9 10.9h0M114.7 47.3h0M120.4 58.5h0M102.3 86.4h0M175.5 35.4h0M104.9 115.5h0M104.8 84.8h0M122.2 102.2h0M151.5 70.5h0M90.8 117.6h0M124.9 78.9h0M133.8 55.2h0M100.9 113.9h0M131.0 96.8h0M96.0 84.7h0M91.1 116.8h0M158.6 23.5h0M198.4 43.5h0M129.6 103.8h0M82.2 112.1h0M128.9 93.8h0M86.2 82.8h0M96.2 111.9h0M80.5 94.7h0M228.9 9.3h0M195.2 7.4h0M152.4 43.7h0M81.7 111.0h0M194.2 37.8h0M128.7 77.0h0M122.7 52.3h0M84.0 116.0h0M112.0 50.1h0M140.6 73.9h0M99.9 114.4h0M118.1 104.6h0M88.7 115.3h0M105.6 90.2h0M211.0 11.4h0M102.6 83.5h0M172.8 36.8h0M148.9 59.4h0M180.6 40.3h0M134.6 40.5h0M160.1 43.0h0M158.5 33.1h0M118.1 45.4h0M157.6 60.3h0M156.6 30.6h0M81.8 102.6h0M130.7 46.7h0M160.1 59.4h0M96.9 77.5h0M106.4 99.6h0M101.3 121.0h0M120.9 91.0h0M161.2 74.7h0M92.9 99.0h0M202.8 18.5h0M148.2 29.7h0M116.8 105.0h0M105.7 123.6h0M111.7 86.3h0M181.2 22.8h0M82.9 90.2h0M163.9 63.0h0M94.8 76.7h0M178.9 39.3h0M151.0 51.7h0M125.5 69.9h0M141.7 20.1h0M140.8 78.0h0M205.6 28.4h0M77.7 92.9h0M154.5 27.4h0M217.2 29.4h0M98.3 117.4h0M128.3 57.3h0M120.0 32.5h0M136.7 56.5h0M97.3 76.8h0M117.4 89.1h0M193.7 36.3h0M90.9 99.8h0M131.2 43.8h0M113.9 82.5h0M134.2 79.6h0M166.4 47.8h0M162.9 29.1h0M108.4 80.1h0M136.2 111.7h0M148.8 55.7h0M117.8 43.5h0M126.7 99.9h0M168.9 34.1h0M200.2 6.8h0M146.9 30.8h0M155.9 64.6h0M118.3 46.3h0M126.9 43.0h0M123.6 55.2h0M104.2 112.6h0M137.4 107.4h0M127.5 66.0h0M94.1 120.5h0M80.7 113.2h0M154.8 69.0h0M126.6 69.9h0M93.8 103.7h0M152.1 48.9h0M96.3 111.5h0M95.6 96.4h0M148.1 41.7h0M87.7 91.6h0M123.2 40.6h0M137.0 87.0h0M116.0 77.6h0M154.9 65.6h0M116.4 80.8h0M144.3 78.7h0M99.0 109.4h0M77.6 110.0h0M201.3 12.7h0M172.6 44.7h0M199.9 16.0h0M119.5 88.9h0M116.4 115.1h0M93.3 79.4h0M109.2 66.0h0M123.9 82.4h0M85.4 89.1h0M122.5 89.4h0M160.2 65.5h0M218.4 23.1h0M106.1 98.2h0M204.8 16.9h0M116.7 86.3h0M90.2 88.0h0M103.6 123.3h0M130.8 64.8h0M214.2 22.4h0M129.5 37.2h0M184.0 37.6h0M193.9 37.2h0M211.2 16.7h0M116.8 102.3h0M110.6 83.8h0M118.9 51.5h0M124.8 100.4h0M139.6 23.4h0M128.2 8.5h0M115.8 76.9h0M195.0 32.1h0M83.9 113.1h0M148.4 70.3h0M125.6 105.8h0M129.8 65.5h0M111.1 110.8h0M101.4 104.8h0M129.7 71.7h0M123.0 110.7h0M121.0 92.2h0M132.1 57.3h0M141.8 21.4h0M121.2 101.7h0M103.4 105.2h0M101.1 67.1h0M82.7 95.8h0M142.7 19.8h0M190.5 7.1h0M159.6 37.4h0M136.8 100.6h0M179.1 43.8h0M77.0 108.4h0M213.1 23.7h0M135.0 93.0h0M112.8 76.2h0M108.9 118.3h0M169.9 42.8h0M106.0 107.4h0M215.3 15.6h0M100.1 111.0h0M156.5 33.2h0M113.2 49.5h0M105.8 112.2h0M158.7 46.5h0M107.2 116.0h0M126.0 57.6h0M130.6 96.6h0M131.5 45.1h0M110.8 73.8h0M142.3 41.5h0M149.2 31.1h0M208.4 24.0h0M161.5 10.3h0M140.0 56.4h0M193.9 36.1h0M95.8 106.3h0M102.3 114.8h0M139.5 68.7h0M140.2 16.1h0M121.6 107.8h0M146.7 50.6h0M172.4 18.5h0M146.6 43.3h0M98.9 82.2h0M114.7 100.2h0M105.1 113.8h0M104.7 119.3h0M210.7 30.3h0M169.0 27.3h0M99.1 102.0h0M154.3 69.6h0M102.2 72.5h0M164.3 56.5h0M210.0 19.9h0M124.0 99.5h0M169.9 29.4h0M127.3 103.5h0M128.4 71.2h0M112.7 83.2h0M115.7 92.8h0M176.3 21.5h0M156.3 36.9h0M135.3 67.3h0M74.7 106.1h0M187.9 17.4h0M140.7 79.1h0M238.0 7.5h0M142.0 63.4h0M128.6 32.1h0M194.1 50.1h0M84.3 113.5h0M114.3 111.0h0M199.3 19.4h0M149.3 93.4h0M90.5 115.3h0M147.9 12.0h0M145.9 72.4h0M171.5 20.1h0M143.7 67.6h0M176.3 59.9h0M178.5 53.3h0M117.5 60.9h0M106.0 119.6h0M122.0 84.2h0M146.6 87.7h0M145.6 78.0h0M150.0 78.5h0M127.7 55.2h0M110.1 117.3h0M117.9 53.2h0M128.2 47.8h0M131.9 94.0h0M122.6 57.3h0M169.7 39.6h0M100.8 91.0h0M143.4 90.5h0M106.4 121.7h0M109.9 121.1h0M124.2 64.1h0M77.5 110.7h0M139.6 33.0h0M142.2 43.9h0M96.4 88.3h0M112.9 115.8h0M101.4 68.4h0M185.5 40.5h0M148.9 11.2h0M216.9 23.0h0M92.2 100.8h0M179.8 50.6h0M133.2 49.0h0M158.4 15.9h0M141.0 81.8h0M181.6 34.4h0M146.9 27.9h0M137.0 51.3h0M193.7 29.8h0M136.3 64.9h0M195.1 24.0h0M135.6 61.4h0M132.8 97.1h0M171.8 54.8h0M136.2 100.1h0M198.4 32.4h0M96.8 116.1h0M158.9 23.5h0M94.6 91.7h0M95.2 104.4h0M166.8 56.5h0M159.3 32.6h0M121.6 86.4h0M153.7 50.5h0M132.7 44.8h0M120.2 115.0h0M86.1 87.8h0M155.4 64.6h0M146.6 58.7h0M129.6 108.5h0M122.6 62.2h0M137.1 57.6h0M118.9 100.1h0M181.4 12.9h0M182.4 44.0h0M167.5 6.9h0M112.8 89.1h0M107.8 100.5h0M82.9 104.5h0M126.8 101.1h0M106.4 71.6h0M128.1 80.5h0M100.8 113.7h0M106.8 81.8h0M117.4 61.2h0M126.4 34.9h0M136.3 87.8h0M116.6 53.5h0M89.3 89.7h0M139.5 59.3h0M167.3 44.8h0M97.3 114.6h0M148.0 8.8h0M129.3 79.6h0M122.1 98.8h0M129.3 47.7h0M158.7 62.5h0M136.9 64.3h0M191.1 25.2h0M158.4 49.7h0M204.1 35.8h0M124.5 59.5h0M92.3 108.7h0M115.6 109.3h0M167.6 8.0h0M197.0 16.8h0M212.6 14.8h0M194.0 46.1h0M124.8 73.4h0M84.2 113.6h0M76.2 106.7h0M157.2 13.3h0M110.8 97.7h0M122.9 43.7h0M130.0 90.1h0M143.6 54.4h0M91.2 95.4h0M156.8 21.5h0M137.4 6.3h0M98.6 70.0h0M149.2 13.2h0M222.7 23.9h0M100.8 119.8h0M156.7 57.6h0M115.5 63.0h0M182.6 28.1h0M88.3 84.3h0M194.1 11.0h0M169.3 7.1h0M85.2 92.0h0M83.7 92.4h0M87.3 94.7h0M78.0 105.9h0M229.6 10.6h0M202.9 41.7h0M113.4 106.3h0M149.7 31.8h0M95.4 85.7h0M118.8 45.0h0M100.6 100.4h0M197.3 18.0h0M132.8 93.2h0M131.6 47.3h0M141.4 68.5h0M97.7 103.0h0M193.5 34.7h0M153.6 61.5h0M170.5 11.0h0M102.1 120.7h0M103.6 62.7h0M212.5 24.5h0M96.8 93.4h0M65.6 106.7h0M190.4 20.9h0M196.2 20.6h0M123.7 74.4h0M163.2 51.8h0M145.9 63.4h0M173.7 60.6h0M80.5 108.8h0M116.3 69.3h0M222.1 8.3h0M158.7 76.1h0M139.2 77.1h0M208.9 25.5h0M134.6 87.2h0M111.6 118.0h0M195.0 29.3h0M131.5 12.1h0M162.9 61.9h0M104.7 69.2h0M121.0 40.8h0M119.8 87.7h0M136.8 89.2h0M184.7 16.3h0M87.0 101.3h0M117.6 64.1h0M102.5 80.3h0M79.5 113.7h0M150.2 70.3h0M177.3 54.2h0M82.3 88.6h0M144.5 28.8h0M191.6 26.4h0M122.5 48.3h0M125.6 79.1h0M214.0 22.3h0M147.0 66.4h0M205.6 11.1h0M134.0 71.2h0M158.1 36.1h0M129.2 62.9h0M183.9 29.3h0M178.2 32.4h0M127.6 50.6h0M128.6 78.5h0M100.4 83.1h0M94.0 118.5h0M154.0 48.6h0M167.9 18.6h0M84.5 87.7h0M180.1 7.3h0M118.9 101.1h0M101.2 66.8h0M160.9 55.2h0M106.5 101.6h0M185.1 35.1h0M157.6 75.5h0M163.8 52.4h0M149.5 20.4h0M122.0 103.8h0M141.7 81.1h0M227.2 7.9h0M104.0 73.5h0M142.9 59.2h0M138.9 70.8h0M108.0 111.9h0M107.7 78.6h0M117.7 103.5h0M125.8 45.2h0M78.0 98.3h0M180.8 16.6h0M92.6 120.5h0M118.8 48.3h0M91.9 117.3h0M159.0 57.5h0M139.6 43.0h0M109.2 73.0h0M204.3 19.7h0M126.9 22.4h0M140.7 100.2h0M110.1 79.2h0M182.1 60.8h0M75.5 108.0h0M130.4 35.1h0M105.7 95.6h0M96.9 101.5h0M163.1 32.0h0M129.7 82.5h0M147.9 73.1h0M106.5 87.7h0M176.0 54.1h0M171.9 29.3h0M206.7 15.9h0M157.5 39.3h0M110.4 73.2h0M93.9 105.1h0M107.7 113.1h0M109.1 108.3h0M128.8 62.1h0M194.1 15.1h0M193.3 35.3h0M93.7 94.7h0M128.1 42.3h0M137.8 17.6h0M185.2 46.2h0M214.7 7.1h0M163.9 15.0h0M132.2 12.6h0M105.2 105.4h0M95.6 101.4h0M144.4 22.9h0M133.8 40.5h0M140.4 47.0h0M134.2 32.4h0M88.5 109.7h0M190.2 14.1h0M115.4 53.5h0M135.9 75.5h0M112.2 84.8h0M115.3 94.4h0M130.8 111.2h0M166.4 8.8h0M114.6 57.9h0M101.5 79.4h0M123.2 73.3h0M138.3 87.8h0M124.3 73.9h0M182.7 38.9h0M111.3 68.7h0M175.0 38.4h0M130.0 97.7h0M108.7 125.8h0M82.6 112.5h0M103.6 79.5h0M122.0 119.9h0M160.2 53.9h0M95.7 98.1h0M165.1 59.7h0M93.3 84.4h0M197.9 10.6h0M118.9 95.2h0M145.8 35.3h0M134.9 20.2h0M83.6 116.3h0M138.0 97.0h0M109.8 61.3h0M195.7 10.0h0M121.4 98.1h0M202.5 25.5h0M158.2 21.8h0M135.7 33.0h0M160.3 81.8h0M91.2 114.4h0M125.6 90.2h0M144.0 66.5h0M113.3 51.1h0M112.2 52.1h0M122.7 50.7h0M78.6 111.8h0M136.0 112.1h0M174.4 19.0h0M96.1 121.2h0M107.8 118.3h0M144.6 71.1h0M88.4 90.5h0M98.3 119.8h0M82.3 97.3h0M90.2 95.7h0M151.7 94.4h0M124.0 50.8h0M94.2 105.7h0M172.8 49.4h0M121.8 92.3h0M133.0 89.2h0M133.9 11.1h0M157.2 53.3h0M136.3 55.8h0M115.9 46.4h0M357.3 125.9h0M346.6 108.2h0M359.8 108.5h0M359.6 17.8h0M353.9 34.2h0M348.3 66.6h0M366.2 61.9h0M357.1 16.4h0M386.2 80.5h0M382.4 80.4h0M363.9 29.4h0M350.4 73.6h0M361.5 91.4h0M348.5 32.2h0M386.6 98.0h0M356.1 35.4h0M376.3 120.3h0M373.4 114.0h0M381.8 10.2h0M370.4 83.7h0M373.4 90.7h0M372.8 16.7h0M372.3 55.2h0M368.3 40.9h0M373.7 126.9h0M350.4 8.1h0M372.2 55.5h0M365.1 53.2h0M361.3 41.1h0M362.9 113.1h0M380.6 16.7h0M384.3 42.1h0M372.6 43.9h0M361.1 119.7h0M359.0 43.7h0M379.1 112.5h0M364.8 110.3h0M384.2 118.3h0M362.8 85.2h0M357.0 120.7h0M383.3 61.4h0M361.1 13.1h0M386.4 21.2h0M362.5 61.3h0M360.9 79.6h0M377.3 9.0h0M362.3 109.8h0M353.1 71.0h0M371.5 92.4h0M368.0 90.3h0M382.5 70.9h0M369.0 15.2h0M375.5 51.1h0M360.9 24.5h0M373.1 20.5h0M372.5 26.4h0M353.4 100.5h0M358.4 112.4h0M351.0 47.9h0M385.5 23.6h0M363.6 120.3h0M377.9 74.5h0M346.9 74.4h0M381.5 44.9h0M370.2 81.1h0M346.9 59.1h0M348.3 95.1h0M375.2 121.3h0M357.3 27.4h0M351.1 87.9h0M365.2 89.7h0M363.7 111.0h0M356.0 46.8h0M387.4 70.2h0M386.4 64.0h0M375.2 104.5h0M347.2 79.2h0M380.9 96.3h0M370.6 85.3h0M348.5 109.9h0M349.3 100.7h0M363.6 73.8h0M370.8 76.5h0M356.8 72.0h0M359.2 36.6h0M360.7 121.0h0M346.2 32.1h0M385.4 66.1h0M354.9 45.0h0M362.6 18.6h0M354.7 107.2h0M366.1 57.1h0M381.7 74.1h0M382.7 109.6h0M352.0 9.8h0M355.2 44.5h0M357.0 98.9h0M381.6 46.8h0M380.6 65.0h0M382.1 127.3h0M362.4 64.1h0M387.0 115.8h0M352.7 13.3h0M369.3 129.5h0M357.3 94.8h0M366.8 86.6h0M383.2 86.5h0M386.7 65.2h0M360.5 11.7h0M366.1 47.7h0M357.7 85.6h0M380.1 66.3h0M351.8 80.8h0M367.1 76.3h0M378.2 51.9h0M362.9 63.7h0M353.8 32.9h0M366.4 76.0h0M377.1 62.3h0M364.6 7.5h0M387.4 72.3h0M375.9 58.2h0M349.1 69.2h0M373.6 13.8h0M378.9 54.7h0M389.8 13.8h0M388.2 14.3h0M383.0 14.7h0M376.8 12.7h0M469.6 8.8h0M438.3 7.2h0M463.9 14.7h0M413.6 14.0h0M431.2 10.5h0M385.0 14.5h0M411.0 7.2h0M400.8 15.1h0M451.6 12.0h0M454.0 12.1h0M467.7 15.6h0M381.3 14.8h0M437.1 8.0h0M449.1 14.0h0M378.0 8.1h0M467.2 12.2h0M416.0 10.7h0M480.0 11.1h0M401.3 12.4h0M442.8 14.3h0M445.3 10.4h0M405.3 15.2h0M410.5 7.3h0M452.7 7.9h0M433.9 14.4h0M470.1 12.6h0M464.7 15.3h0M386.2 12.4h0M401.1 64.2h0M422.5 46.4h0M388.0 53.0h0M458.9 49.3h0M456.6 32.6h0M389.4 52.0h0M420.5 76.8h0M408.6 75.0h0M423.6 12.5h0M415.4 70.6h0M451.8 45.3h0M411.5 63.1h0M402.5 44.9h0M460.2 28.4h0M409.6 87.6h0M439.9 86.7h0M425.9 65.0h0M441.9 20.0h0M429.3 10.8h0M448.2 62.1h0M399.4 64.8h0M458.1 15.1h0M406.9 42.3h0M455.5 66.4h0M388.1 86.8h0M427.5 78.4h0M417.0 74.1h0M395.3 15.1h0M442.9 82.5h0M439.0 48.0h0" stroke="#8db600"/>
<path d="M437.0 82.5h0M473.3 100.2h0M489.9 63.9h0M463.6 118.6h0M496.6 114.6h0M484.9 24.5h0M459.9 102.1h0M426.1 93.0h0M495.7 58.7h0M483.5 52.2h0M473.0 88.1h0M450.1 123.2h0M467.1 96.9h0M377.7 128.1h0M390.4 117.2h0M482.7 44.1h0M484.3 108.1h0M494.7 66.2h0M476.5 119.4h0M436.5 95.8h0M441.6 116.6h0M467.0 48.5h0M450.8 66.6h0M436.7 84.2h0M449.6 88.7h0M453.7 116.8h0M404.8 121.2h0M490.5 43.3h0M405.3 110.5h0M487.9 67.0h0M425.9 103.5h0M422.8 113.1h0M468.0 121.7h0M489.1 77.7h0M469.7 47.9h0M448.0 112.5h0M460.4 76.4h0M443.3 66.4h0M458.0 108.7h0M476.1 88.6h0M416.3 100.2h0M486.7 89.5h0M494.7 79.8h0M419.4 116.4h0M495.1 47.2h0M479.2 130.3h0M477.0 39.4h0M479.7 59.8h0M467.4 124.1h0M479.9 81.5h0M456.2 120.9h0M486.2 41.3h0M464.2 97.4h0M480.5 84.3h0M432.7 104.3h0M469.3 67.8h0M493.6 129.7h0M481.5 53.1h0M469.1 98.8h0M443.5 69.0h0M392.3 129.7h0M475.5 79.5h0M460.2 118.0h0M449.4 123.3h0M468.6 103.8h0M449.6 123.7h0M446.7 106.2h0M456.3 101.6h0M491.0 72.9h0M433.3 127.0h0M481.4 68.1h0M479.5 40.7h0M485.4 38.2h0M446.8 115.1h0M489.2 121.1h0M391.4 128.2h0M490.5 90.1h0M488.3 106.8h0M488.1 80.8h0M460.5 130.9h0M452.7 107.6h0M479.5 28.5h0M443.8 111.9h0M476.8 79.6h0M463.7 78.7h0M467.8 126.0h0M488.0 40.2h0M492.9 25.0h0M456.4 111.3h0M480.7 19.0h0M420.3 127.2h0M478.2 112.3h0M492.7 44.7h0M483.5 56.9h0M480.6 109.5h0M493.0 129.9h0M483.6 88.9h0M478.8 78.7h0M464.6 67.3h0M496.0 119.1h0M447.7 84.1h0M476.6 59.5h0M456.3 114.9h0M478.0 50.8h0M450.3 130.9h0M482.2 20.6h0M492.1 113.9h0M494.4 128.1h0M458.5 100.1h0M409.6 116.0h0M486.3 33.4h0M473.6 104.9h0M454.2 122.8h0M495.4 101.9h0M434.2 109.3h0M468.6 125.8h0M433.5 124.7h0M466.8 91.3h0M489.9 131.0h0M494.8 69.1h0M484.4 59.0h0M443.1 90.5h0M469.5 91.4h0M477.4 62.7h0M460.3 76.7h0M445.8 114.4h0M488.0 35.3h0M413.2 124.9h0M464.8 69.1h0M425.9 79.3h0M488.8 56.2h0M490.6 71.5h0M495.5 59.0h0M470.0 104.5h0M433.5 103.4h0M383.6 125.2h0M490.3 85.9h0M490.4 86.2h0M459.2 70.6h0M453.8 94.3h0M486.9 76.9h0M469.2 102.4h0M481.5 103.5h0M487.1 54.9h0M494.6 40.3h0M475.7 65.5h0M468.3 45.3h0M485.8 89.6h0M481.6 109.7h0M420.1 131.1h0M449.5 102.8h0M470.1 53.4h0M466.6 95.9h0M446.4 129.0h0M440.7 125.8h0M443.9 87.8h0M489.8 46.4h0M484.0 101.8h0M476.2 127.4h0M450.4 94.0h0M444.6 77.2h0M436.8 112.2h0M427.7 129.6h0M477.4 37.6h0M483.9 124.6h0M496.4 122.4h0M470.0 84.3h0M494.3 54.8h0M399.9 113.0h0M449.8 121.5h0M445.2 128.6h0M496.2 42.5h0M448.6 79.3h0M472.3 107.6h0M488.1 36.7h0M472.4 78.4h0M494.7 57.2h0M465.0 99.0h0M474.9 129.9h0M444.5 125.4h0M481.7 109.5h0M452.9 100.1h0M487.0 113.9h0M485.0 75.7h0M389.8 108.9h0M475.2 70.1h0M483.0 42.9h0M418.2 123.4h0M465.9 125.7h0M491.2 83.1h0M432.2 96.0h0M431.5 98.8h0M482.0 99.3h0M492.0 104.7h0M440.8 120.6h0M488.4 78.4h0M495.0 53.2h0M457.5 60.6h0M473.2 73.3h0M444.0 86.0h0M476.8 56.7h0M456.5 106.3h0M486.8 73.4h0M456.8 66.9h0M463.8 73.8h0M491.4 43.2h0M458.4 125.4h0M478.5 20.7h0M404.5 128.1h0M416.5 105.1h0M450.5 109.4h0M419.2 123.1h0M475.8 76.0h0M442.6 93.1h0M482.7 39.9h0M489.8 84.6h0M421.4 101.5h0M496.7 24.3h0M474.0 73.1h0M461.3 118.6h0M466.5 67.8h0M402.7 104.4h0M467.5 85.6h0M497.1 73.9h0M469.3 81.7h0M473.7 87.4h0M494.5 107.3h0M486.1 41.1h0M474.7 78.7h0M493.5 34.0h0M427.7 126.3h0M486.3 103.5h0M419.1 83.2h0M404.8 129.3h0M476.6 18.5h0M459.1 119.3h0M397.1 129.1h0M452.4 88.4h0M492.2 104.0h0M476.0 67.5h0M458.5 92.3h0M475.2 79.7h0M492.6 87.5h0M477.1 113.3h0M469.8 72.6h0M461.0 97.8h0M477.6 104.3h0M433.4 96.7h0M436.7 109.6h0M489.0 32.8h0M481.8 25.7h0M490.2 126.7h0M481.2 111.9h0M485.3 58.2h0M470.8 92.0h0M456.9 107.2h0M483.2 111.2h0M482.3 28.6h0M407.5 113.3h0M496.0 80.0h0M460.5 109.3h0M441.6 120.7h0M477.2 44.9h0M482.4 37.4h0M460.6 92.6h0M487.8 102.7h0M457.0 103.7h0M471.9 120.5h0M433.9 126.2h0M456.9 119.5h0M414.9 97.8h0M494.0 84.7h0M479.1 47.6h0M474.4 115.8h0M408.9 111.6h0M439.5 113.1h0M406.7 96.7h0M495.9 48.0h0M439.2 114.8h0M462.0 96.4h0M481.1 111.7h0M475.0 78.3h0M489.0 95.6h0M487.9 126.7h0M461.1 100.2h0M461.5 106.2h0M426.6 94.3h0M469.2 125.9h0M462.8 70.5h0M446.3 88.6h0M464.1 123.4h0M430.4 104.8h0M476.3 108.8h0M440.0 130.8h0M493.6 126.6h0M478.5 45.3h0M451.7 131.2h0M403.5 130.7h0M448.1 75.8h0M456.9 70.1h0M485.3 83.1h0M397.8 123.5h0M415.9 111.8h0M465.4 85.2h0M455.5 98.7h0M428.9 87.7h0M433.1 123.6h0M452.7 110.4h0M463.0 72.1h0M449.8 107.5h0M459.6 124.7h0M490.1 115.8h0M468.5 123.8h0M459.3 124.1h0M456.9 90.4h0M490.7 43.0h0M495.2 34.9h0M491.7 120.3h0M462.5 94.1h0M487.9 114.1h0M432.0 120.1h0M490.5 20.2h0M487.3 66.6h0M471.8 66.9h0M398.6 118.9h0M434.7 98.0h0M462.4 93.7h0M447.5 122.8h0M439.1 104.6h0M450.1 124.9h0M432.4 103.5h0M424.1 98.5h0M497.1 128.1h0M426.2 127.1h0M431.4 86.2h0M495.8 87.7h0M448.4 88.4h0M445.8 101.3h0M492.8 63.8h0M464.9 84.6h0M420.9 113.3h0M475.4 118.3h0M425.5 88.7h0M454.5 118.4h0M479.1 96.0h0M412.7 127.9h0M482.4 100.2h0M493.0 99.8h0M443.5 110.7h0M460.2 129.9h0M445.0 107.4h0M464.5 74.2h0M495.5 77.5h0M457.8 99.7h0M463.3 104.7h0M392.6 126.2h0M489.5 40.0h0M471.7 72.1h0M478.2 90.4h0M432.9 122.2h0M465.9 127.4h0M494.3 21.8h0M496.4 27.6h0M492.6 41.9h0M422.4 98.1h0M478.3 125.0h0M495.2 41.1h0M469.6 63.7h0M453.4 108.3h0M489.9 108.0h0M495.3 55.1h0M463.9 99.1h0M493.5 126.3h0M486.8 92.9h0M465.8 125.7h0M469.3 86.4h0M493.2 74.9h0M486.9 121.7h0M465.2 129.4h0M477.2 119.6h0M405.3 130.6h0M440.6 70.3h0M485.6 75.5h0M493.7 16.3h0M464.1 127.5h0M387.8 121.6h0M472.1 118.7h0M461.3 84.7h0M448.1 113.7h0M439.8 115.1h0M495.7 31.0h0M478.6 71.5h0M423.7 108.9h0M422.3 104.8h0M478.2 58.0h0M484.4 20.1h0M485.6 80.7h0M463.3 93.6h0M409.8 130.9h0M462.1 107.4h0M483.9 23.3h0M466.7 85.6h0M497.2 34.8h0M463.3 88.5h0M476.1 48.5h0M492.5 95.2h0M443.9 100.4h0M473.1 86.9h0M399.1 121.7h0M488.7 33.9h0M491.4 127.2h0M471.3 58.6h0M462.3 89.4h0M428.7 104.3h0M479.5 44.8h0M445.5 115.0h0M474.7 86.3h0M456.7 107.4h0M436.5 119.1h0M431.3 151.0h0M472.3 144.9h0M388.6 190.1h0M383.8 187.9h0M438.0 145.5h0M467.1 153.8h0M459.7 137.5h0M456.9 154.8h0M354.8 205.0h0M442.6 140.0h0M423.6 138.9h0M407.5 163.8h0M375.0 199.7h0M381.8 183.7h0M459.4 145.9h0M425.0 157.4h0M436.1 137.8h0M394.4 177.1h0M440.4 151.7h0M479.5 141.7h0M382.5 193.5h0M369.5 184.9h0M420.3 133.1h0M350.7 218.8h0M463.1 147.1h0M413.3 173.4h0M463.4 132.5h0M353.4 215.8h0M455.5 132.3h0M383.6 184.6h0M364.0 204.3h0M490.9 138.5h0M449.6 140.8h0M412.0 151.5h0M428.0 153.9h0M476.4 131.8h0M446.9 148.0h0M453.8 156.8h0M387.5 187.6h0M416.5 164.6h0M408.6 173.7h0M491.2 142.8h0M493.9 132.6h0M495.3 135.2h0M421.2 169.8h0M385.1 169.5h0M349.2 199.2h0M370.0 193.5h0M352.7 214.3h0M369.0 194.5h0M425.8 149.6h0M350.0 218.9h0M396.0 171.1h0M461.3 151.6h0M441.8 139.6h0M413.2 162.0h0M358.6 187.8h0M427.2 147.6h0M431.7 147.1h0M468.1 139.1h0M403.6 164.0h0M431.1 139.9h0M493.0 138.3h0M391.4 181.4h0M495.3 133.2h0M435.0 133.9h0M434.2 165.6h0M361.3 187.9h0M427.9 157.6h0M372.0 186.1h0M488.9 140.1h0M443.3 153.5h0M417.7 168.1h0M432.7 139.5h0M493.0 144.4h0M368.7 187.7h0M402.7 179.9h0M407.0 155.5h0M468.2 149.3h0M368.6 183.9h0M361.8 190.0h0M457.9 133.1h0M455.8 143.5h0M400.0 162.0h0M418.5 166.6h0M368.1 180.2h0M417.0 169.3h0M359.9 200.5h0M384.9 169.3h0M452.3 145.6h0M393.3 181.5h0M369.7 189.1h0M452.5 146.9h0M435.3 134.6h0M427.4 134.2h0M446.5 149.6h0M425.0 169.2h0M419.5 143.3h0M477.5 145.7h0M457.7 145.1h0M362.0 199.4h0M399.1 176.8h0M414.8 157.4h0M384.1 185.1h0M358.7 212.3h0M440.3 161.9h0M374.6 196.5h0M470.4 139.0h0M378.9 181.5h0M459.7 145.9h0M423.9 145.8h0M473.0 143.0h0M378.4 174.6h0M422.4 170.5h0M385.3 176.2h0M389.5 180.3h0M424.7 158.8h0M410.0 175.8h0M358.7 191.6h0M469.6 136.9h0M482.0 140.6h0M481.8 137.0h0M445.2 137.7h0M423.3 153.8h0M351.9 211.8h0M407.9 173.4h0M387.9 169.2h0M346.6 216.7h0M440.7 156.1h0M393.1 177.4h0M401.3 164.2h0M392.7 183.3h0M389.5 179.3h0M470.3 153.4h0M454.9 156.2h0M407.1 175.0h0M473.7 138.3h0M368.0 184.1h0M465.1 138.0h0M437.2 155.2h0M402.0 160.2h0M423.9 157.7h0M347.4 202.9h0M436.5 162.3h0M441.6 145.6h0M391.6 165.7h0M408.5 156.0h0M365.7 190.4h0M374.5 185.4h0M402.6 158.5h0M373.6 189.8h0M417.4 167.4h0M406.0 156.3h0M388.3 168.5h0M470.1 148.3h0M364.2 193.9h0M440.2 135.5h0M373.4 191.2h0M470.6 138.9h0M416.8 160.5h0M368.8 184.1h0M440.0 143.9h0M466.2 150.0h0M380.0 185.0h0M381.7 184.0h0M424.1 169.9h0M475.0 148.1h0M435.1 147.7h0M376.9 198.5h0M406.5 168.8h0M483.2 148.4h0M404.4 159.6h0M478.1 138.6h0M387.5 168.0h0M429.8 146.1h0M383.7 190.4h0M467.6 153.6h0M385.5 192.4h0M428.9 148.3h0M406.9 166.8h0M371.6 188.9h0M460.4 154.4h0M430.9 145.2h0M372.9 191.9h0M384.3 190.7h0M407.9 156.4h0M382.6 182.4h0M408.3 161.6h0M387.9 180.6h0M473.0 132.3h0M468.5 133.4h0M401.2 182.3h0M395.4 166.4h0M456.6 150.4h0M372.8 200.5h0M451.4 154.7h0M397.1 171.7h0M479.2 145.8h0M479.9 137.8h0M403.5 160.9h0M470.3 134.7h0M459.2 145.9h0M423.6 158.2h0M348.7 219.6h0M381.2 182.3h0M378.9 179.2h0M355.5 201.7h0M439.1 136.9h0M435.0 144.6h0M445.6 138.4h0M394.0 182.9h0M462.4 143.0h0M415.4 173.9h0M455.4 137.5h0M401.6 158.0h0M445.7 137.5h0M429.4 132.3h0M348.9 211.5h0M495.4 133.4h0M405.3 163.3h0M462.4 150.6h0M437.9 163.4h0M361.0 195.9h0M416.7 154.2h0M475.0 145.9h0M422.9 152.5h0M396.8 162.8h0M451.1 145.3h0M351.0 197.8h0M460.1 145.6h0M373.6 184.2h0M421.4 155.8h0M422.4 140.3h0M403.8 157.2h0M405.9 179.3h0M356.7 200.7h0M437.8 158.9h0M413.2 160.3h0M410.0 167.3h0M383.5 179.1h0M395.4 184.1h0M452.7 132.3h0M354.9 200.0h0M408.4 160.8h0M475.6 138.6h0M345.7 218.8h0M363.6 193.6h0M387.5 187.8h0M431.5 160.8h0M494.3 132.3h0M385.2 173.7h0M350.6 213.0h0M391.5 173.8h0M403.8 180.6h0M432.4 150.6h0M416.5 146.8h0M417.1 165.3h0M458.4 156.3h0M469.9 137.3h0M441.4 146.2h0M447.5 134.7h0M470.9 136.7h0M421.3 138.0h0M401.9 162.9h0M433.7 133.6h0M392.5 188.5h0M396.9 161.9h0M402.7 181.6h0M390.3 173.0h0M480.4 141.7h0M429.7 164.0h0M400.7 162.4h0M397.4 175.0h0M431.1 132.4h0M425.5 135.8h0M433.5 153.5h0M380.6 187.2h0M387.5 185.0h0M420.5 154.4h0M489.5 145.5h0M465.8 134.7h0M433.4 154.7h0M435.5 134.6h0M433.6 158.8h0M489.4 136.6h0M401.3 161.1h0M359.2 210.6h0M399.8 159.3h0M386.0 171.2h0M464.7 132.4h0M453.2 150.5h0M357.5 192.3h0M361.0 195.9h0M435.7 148.1h0M406.6 155.9h0M421.2 154.4h0M404.3 157.0h0M414.0 173.3h0M442.2 145.1h0M469.4 147.5h0M476.7 138.5h0M425.3 164.9h0M441.9 162.9h0M392.4 185.2h0M481.9 144.2h0M387.0 181.6h0M385.0 191.2h0M370.8 201.2h0M453.9 132.4h0M349.7 214.2h0M367.9 203.1h0M413.0 164.5h0M370.8 182.3h0M441.2 147.2h0" stroke="#ff4500"/>
<path d="M455.4 32.4h0M389.7 72.9h0M388.2 14.2h0M375.5 82.6h0M446.3 49.2h0M377.7 79.4h0M417.9 108.5h0M397.0 27.6h0M436.3 24.0h0M460.1 12.9h0M390.3 108.2h0M403.8 92.2h0M408.1 101.9h0M401.1 50.0h0M457.2 45.5h0M455.6 51.9h0M400.0 121.5h0M458.3 14.0h0M409.9 36.6h0M417.4 59.3h0M387.3 112.4h0M424.7 124.0h0M456.4 8.8h0M378.6 22.5h0M450.7 33.8h0M447.8 50.9h0M413.4 80.2h0M378.5 28.0h0M422.5 21.3h0M378.2 118.0h0M459.1 17.0h0M391.4 37.0h0M384.0 45.2h0M427.7 56.1h0M413.6 29.8h0M421.7 104.8h0M391.1 12.0h0M389.5 68.6h0M420.4 99.6h0M374.7 55.2h0M415.8 95.4h0M449.8 35.7h0M370.2 125.6h0M474.5 21.6h0M453.7 64.6h0M421.0 57.6h0M415.7 50.4h0M463.2 14.4h0M414.6 44.6h0M378.2 102.4h0M402.5 65.1h0M428.5 81.6h0M412.2 48.5h0M473.6 35.1h0M453.2 44.3h0M419.0 102.4h0M378.1 14.9h0M419.3 93.9h0M378.4 91.3h0M466.0 95.9h0M403.9 76.1h0M405.6 24.3h0M434.5 79.2h0M413.4 97.3h0M391.0 40.6h0M430.9 30.4h0M380.2 97.9h0M451.2 106.3h0M378.3 96.8h0M436.1 72.1h0M370.0 98.5h0M437.6 9.0h0M382.9 81.4h0M434.8 17.2h0M462.0 74.4h0M372.5 20.3h0M460.6 90.9h0M416.0 31.3h0M375.3 65.3h0M426.7 31.3h0M441.1 44.0h0M392.2 121.5h0M376.2 103.0h0M437.6 87.9h0M402.6 16.6h0M435.8 109.6h0M381.4 37.3h0M416.2 46.2h0M401.1 59.1h0M440.5 84.7h0M387.8 26.7h0M439.4 37.8h0M435.9 122.5h0M450.0 43.1h0M378.3 69.9h0M408.7 105.2h0M442.3 76.5h0M386.5 87.4h0M409.2 83.2h0M372.7 125.3h0M467.2 56.1h0M378.1 25.3h0M377.4 92.7h0M374.2 7.8h0M385.6 18.9h0M387.8 98.6h0M380.0 107.6h0M416.8 25.7h0M435.0 42.3h0M472.7 17.9h0M434.9 27.3h0M410.8 69.5h0M388.4 64.9h0M395.2 55.9h0M390.8 37.3h0M399.5 40.9h0M407.5 57.5h0M429.7 41.5h0M386.3 58.4h0M419.3 21.0h0M401.2 35.1h0M420.6 110.8h0M409.4 109.3h0M377.6 97.4h0M471.2 50.4h0M417.9 19.8h0M432.9 67.8h0M372.4 118.8h0M390.1 49.7h0M480.6 13.0h0M379.1 66.7h0M409.9 29.0h0M408.9 15.4h0M437.3 15.1h0M446.1 76.6h0M375.9 63.1h0M383.8 70.0h0M426.2 101.6h0M406.3 44.3h0M429.5 56.1h0M401.6 22.2h0M385.3 53.3h0M371.5 93.9h0M381.5 33.2h0M448.9 79.9h0M423.3 101.2h0M429.7 98.4h0M429.8 107.0h0M384.1 93.9h0M379.2 37.4h0M410.2 19.1h0M454.0 44.0h0M379.4 74.3h0M386.3 114.2h0M453.8 28.0h0M460.6 71.3h0M407.4 38.6h0M435.6 37.0h0M451.7 101.0h0M384.0 104.1h0M383.8 35.8h0M394.1 123.3h0M446.6 13.9h0M405.7 16.5h0M394.0 122.0h0M442.1 16.2h0M455.1 53.2h0M429.8 38.2h0M417.4 28.2h0M381.6 18.4h0M400.3 58.5h0M458.5 24.5h0M406.4 16.5h0M438.7 44.6h0M414.3 90.2h0M432.4 9.0h0M411.5 39.5h0M392.1 124.1h0M392.1 70.3h0M388.1 35.2h0M410.9 88.6h0M412.8 129.2h0M373.1 72.8h0M382.0 108.4h0M407.4 80.1h0M467.0 65.6h0M438.6 17.9h0M373.2 48.4h0M425.5 58.6h0M373.7 61.1h0M448.2 10.3h0M370.3 26.6h0M460.5 38.1h0M465.5 16.9h0M428.4 32.6h0M397.9 32.6h0M420.9 76.3h0M434.9 16.9h0M460.8 45.3h0M441.5 7.0h0M419.5 44.8h0M439.3 100.7h0M391.5 82.9h0M416.6 35.0h0M447.4 98.2h0M384.0 41.7h0M471.1 28.7h0M376.0 114.9h0M433.5 46.3h0M451.4 6.7h0M404.8 81.6h0M403.7 26.6h0M419.5 41.5h0M463.7 14.8h0M408.0 116.8h0M379.4 93.4h0M472.1 15.9h0M380.6 37.8h0M380.6 71.2h0M393.3 64.8h0M421.4 34.5h0M470.1 27.9h0M399.2 62.7h0M412.3 76.9h0M411.7 51.2h0M384.7 20.0h0M383.1 68.3h0M400.6 48.8h0M438.9 77.8h0M382.2 30.2h0M429.9 15.9h0M377.6 51.6h0M390.6 24.1h0M422.8 10.5h0M386.6 45.2h0M420.3 42.6h0M421.2 40.0h0M422.9 48.6h0M443.8 112.8h0M414.7 81.7h0M464.5 67.0h0M381.8 38.8h0M416.3 44.7h0M406.9 95.9h0M370.8 79.6h0M424.9 29.6h0M374.0 88.6h0M397.2 96.2h0M413.7 41.5h0M454.5 47.5h0M376.3 106.6h0M381.8 71.3h0M373.3 127.8h0M376.6 87.0h0M438.5 12.6h0M430.3 23.8h0M401.5 66.0h0M382.5 16.4h0M475.0 15.7h0M390.9 14.3h0M388.8 51.7h0M382.1 44.5h0M419.7 51.7h0M371.4 129.0h0M375.4 49.1h0M391.3 45.1h0M395.5 82.5h0M439.8 31.7h0M465.8 39.1h0M439.3 48.1h0M383.2 37.9h0M402.3 78.8h0M473.2 14.0h0M438.1 68.7h0M428.0 19.8h0M398.0 19.5h0M391.7 78.1h0M399.5 12.2h0M414.9 90.8h0M379.3 60.6h0M455.4 22.8h0M380.4 78.2h0M411.7 90.9h0M404.6 85.5h0M467.0 22.1h0M403.9 20.9h0M423.5 47.2h0M415.4 101.0h0M463.2 72.3h0M470.3 10.7h0M389.4 56.8h0M403.9 106.5h0M378.8 11.1h0M398.9 44.3h0M416.2 43.7h0M391.2 94.4h0M462.4 9.8h0M402.6 114.1h0M387.4 31.1h0M403.7 118.6h0M466.3 14.0h0M403.5 24.5h0M436.2 39.2h0M444.9 33.7h0M381.0 76.7h0M392.9 33.4h0M432.6 58.1h0M370.3 30.7h0M426.9 25.5h0M445.9 91.8h0M388.4 29.6h0M389.4 98.9h0M407.5 59.8h0M419.3 99.7h0M391.0 85.3h0M375.2 66.3h0M482.2 16.7h0M443.1 12.7h0M472.6 67.2h0M378.2 49.6h0M417.8 24.3h0M390.9 73.6h0M466.6 26.0h0M386.9 75.8h0M383.1 6.6h0M420.9 12.6h0M396.3 97.4h0M432.3 7.0h0M421.4 57.4h0M435.1 8.8h0M385.5 14.8h0M372.4 60.4h0M475.7 46.3h0M409.7 61.7h0M471.7 76.3h0M400.9 27.8h0M389.4 38.1h0M455.5 92.8h0M441.9 44.3h0M381.6 92.8h0M388.2 112.0h0M459.5 27.5h0M380.1 68.8h0M422.4 29.8h0M436.9 33.9h0M454.8 104.4h0M373.4 74.4h0M383.2 80.8h0M433.1 16.1h0M391.7 68.0h0M417.7 120.5h0M449.7 75.6h0M372.6 14.1h0M395.3 81.2h0M379.0 20.3h0M408.9 96.8h0M481.3 24.8h0M401.9 80.4h0M460.9 39.8h0M402.7 72.6h0M460.6 41.0h0M376.3 109.5h0M389.8 88.4h0M440.5 15.5h0M387.1 35.7h0M379.2 28.5h0M413.0 49.0h0M373.3 109.6h0M428.9 76.1h0M376.8 22.8h0M400.2 84.9h0M436.0 79.6h0M455.8 118.5h0M426.6 90.5h0M419.4 55.0h0M442.4 93.7h0M414.4 6.6h0M432.6 87.2h0M397.0 77.5h0M442.3 8.3h0M391.1 47.6h0M477.1 31.0h0M457.7 88.0h0M382.0 25.5h0M391.8 7.9h0M472.6 48.1h0M400.6 28.0h0M388.8 131.3h0M397.4 64.3h0M442.2 24.8h0M392.7 111.6h0M378.8 127.9h0M379.2 50.3h0M457.3 130.6h0M445.2 25.6h0M392.6 81.3h0M452.2 37.1h0M455.9 62.0h0M397.6 57.8h0M388.2 48.0h0M470.8 36.0h0M392.4 97.0h0M475.1 33.7h0M448.0 44.1h0M446.4 54.4h0M418.6 54.8h0M375.5 64.3h0M411.9 115.3h0M399.3 129.4h0M446.5 53.6h0M400.5 99.8h0M429.7 36.0h0M373.6 113.7h0M393.8 109.9h0M375.9 93.8h0M454.1 84.4h0M380.4 107.9h0M403.9 78.3h0M391.6 8.2h0M435.4 22.3h0M445.5 51.8h0M460.4 22.5h0M412.1 61.8h0M418.4 99.8h0M385.9 36.1h0M377.5 62.7h0M405.2 47.5h0M382.0 102.6h0M377.2 71.6h0M405.6 108.8h0M377.8 45.8h0M422.3 80.7h0M385.2 100.8h0M441.1 57.2h0M427.3 22.0h0M395.1 77.1h0M421.7 98.5h0M443.9 79.9h0M388.1 74.6h0M377.7 122.5h0M440.9 48.8h0M475.2 57.2h0M422.9 29.6h0M382.5 21.5h0M400.0 45.0h0M436.0 19.0h0M454.5 6.5h0M424.3 46.7h0M479.3 51.7h0M402.6 77.3h0M427.4 78.3h0M412.0 125.5h0M394.5 14.3h0M416.4 106.9h0M396.3 118.9h0M373.4 54.6h0M469.5 20.2h0M471.1 83.4h0M464.8 20.8h0M395.1 52.1h0M386.9 39.0h0M421.7 11.0h0M377.6 57.4h0M388.8 126.6h0M404.1 30.0h0M441.5 36.6h0M399.0 29.6h0M461.6 70.6h0M384.3 77.9h0M392.1 27.0h0" stroke="#00ff00"/>
<path d="M65.4 65.1h0M66.3 98.4h0M71.1 32.3h0M79.4 68.8h0M63.4 66.5h0M79.0 52.6h0M74.8 87.8h0M79.9 35.7h0M83.0 71.5h0M63.5 86.0h0M109.7 49.8h0M72.9 14.0h0M69.3 82.9h0M87.7 34.3h0M93.0 65.4h0M68.0 9.6h0M68.6 99.3h0M85.9 60.5h0M122.4 14.9h0M101.2 51.7h0M64.7 51.1h0M69.5 41.2h0M70.8 63.2h0M84.3 20.0h0M61.2 14.4h0M97.8 18.3h0M122.2 7.7h0M98.6 49.1h0M81.5 64.5h0M77.5 18.0h0M76.9 15.7h0M78.6 36.8h0M68.0 31.2h0M103.6 32.7h0M86.5 6.4h0M80.2 41.2h0M99.1 35.9h0M66.3 41.8h0M81.4 38.6h0M80.9 68.0h0M105.3 9.4h0M70.3 67.3h0M110.6 36.3h0M86.2 58.5h0M85.8 80.0h0M101.3 29.0h0M63.1 73.6h0M88.2 67.2h0M78.5 82.9h0M106.4 46.6h0M77.6 57.8h0M95.6 47.4h0M79.5 34.6h0M76.5 56.4h0M99.6 59.5h0M118.9 13.4h0M66.5 38.9h0M96.9 57.2h0M63.2 57.9h0M71.4 37.5h0M122.6 15.6h0M86.7 37.8h0M87.8 8.9h0M72.6 62.1h0M72.9 47.8h0M104.2 56.1h0M116.0 33.4h0M94.5 72.9h0M81.0 18.7h0M86.6 25.1h0M96.8 30.2h0M64.0 24.7h0M65.5 13.1h0M62.5 26.6h0M89.5 77.8h0M90.8 61.0h0M66.5 60.7h0M61.6 59.4h0M68.4 96.9h0M85.9 61.6h0M89.9 8.1h0M82.1 52.9h0M84.7 45.4h0M85.4 41.5h0M69.9 92.3h0M72.5 57.6h0M73.0 56.1h0M62.6 83.9h0M105.6 16.0h0M102.8 46.6h0M68.7 73.2h0M83.1 29.4h0M80.7 59.6h0M114.7 8.6h0M115.2 34.8h0M71.5 97.0h0M112.9 39.3h0M101.9 6.6h0M83.0 15.0h0M61.9 45.8h0M115.5 34.7h0M74.7 55.3h0M76.0 18.2h0M101.7 10.7h0M61.8 36.8h0M63.3 71.3h0M99.6 50.5h0M105.3 30.6h0M77.2 26.7h0M61.9 27.6h0M71.9 9.5h0M65.4 28.0h0M104.2 34.8h0M105.8 38.3h0M73.0 64.2h0M111.5 37.8h0M85.4 17.9h0M77.6 47.7h0M87.6 74.8h0M73.0 92.1h0M62.9 31.7h0M91.2 49.7h0M64.3 59.9h0M87.0 33.6h0M78.0 80.0h0M98.8 11.7h0M61.0 16.7h0M92.7 51.4h0M80.0 28.2h0M115.7 16.3h0M61.2 29.7h0M91.0 43.8h0M125.6 8.8h0M77.1 25.5h0M121.5 21.7h0M72.6 42.9h0M80.0 71.4h0M103.7 48.7h0M114.0 33.0h0M75.0 36.2h0M82.0 22.7h0M115.3 25.9h0M101.5 52.5h0M97.8 17.3h0M77.2 8.3h0M84.6 40.5h0M94.3 35.1h0M63.8 26.9h0M112.9 32.5h0M74.3 72.9h0M79.3 51.7h0M64.8 19.3h0M67.5 16.0h0M65.4 103.6h0M101.5 35.6h0M106.1 14.2h0M108.4 18.7h0M70.5 79.3h0M106.7 42.7h0M80.8 34.7h0M73.2 41.1h0M73.5 28.0h0M64.4 29.5h0M90.6 18.2h0M61.1 28.7h0M77.7 21.5h0M96.9 66.3h0M110.8 15.1h0M89.3 79.3h0M63.3 10.4h0M110.7 12.3h0M76.6 51.0h0M106.3 39.4h0M75.5 45.8h0M82.9 44.5h0M109.7 27.4h0M91.0 22.7h0M83.5 19.3h0M96.2 21.2h0M105.4 25.1h0M65.1 45.8h0M78.7 78.8h0M81.5 73.9h0M62.1 14.1h0M101.9 22.3h0M82.9 73.1h0M97.6 16.3h0M81.0 29.9h0M99.3 21.3h0M91.3 63.1h0M119.5 25.0h0M118.9 32.4h0M84.0 40.6h0M78.0 11.6h0" stroke="#ff0000"/>
<path d="M106.9 60.0h0M120.0 30.0h0M115.0 12.0h0M349.4 97.1h0M349.0 20.9h0M347.2 33.1h0M352.2 90.8h0M349.8 93.0h0M358.8 26.9h0M351.2 45.3h0M348.1 85.0h0M357.4 82.4h0M359.1 67.9h0M352.7 99.7h0M354.8 67.9h0M355.3 130.9h0M347.7 74.1h0M357.7 121.8h0M356.8 43.0h0M356.2 119.6h0M351.8 129.8h0M350.8 125.7h0M354.9 117.8h0M355.5 34.8h0M357.3 33.6h0M358.4 56.5h0M356.8 50.0h0M359.0 12.7h0M355.8 89.1h0M349.7 40.6h0M350.9 96.4h0M350.2 27.9h0M357.5 118.9h0M353.8 101.1h0M354.3 80.0h0M358.2 20.4h0M345.9 87.9h0M351.9 64.1h0M347.9 95.5h0M350.0 16.8h0M352.7 87.6h0M350.2 39.7h0M347.0 119.1h0M356.9 39.2h0M354.7 117.3h0M347.6 31.5h0M346.2 31.7h0M353.4 83.6h0M351.6 57.7h0M353.3 34.3h0M350.4 55.1h0M356.5 45.2h0M354.0 119.1h0M346.2 118.7h0M355.0 111.3h0M356.1 128.2h0M353.5 48.6h0M354.1 70.4h0M357.0 89.0h0M350.4 14.7h0M358.5 53.1h0M353.3 21.7h0M355.0 7.4h0M353.9 44.0h0M348.6 122.0h0M358.1 35.8h0M351.9 11.4h0M357.7 51.3h0M359.1 114.2h0M355.4 57.3h0M347.5 78.4h0M352.3 87.1h0M347.9 48.2h0M356.0 120.8h0M352.4 110.4h0M350.7 106.2h0M349.3 68.9h0M350.3 53.3h0M352.7 90.7h0M350.8 112.2h0M349.2 87.6h0M356.5 117.0h0M351.6 82.7h0M355.1 40.4h0M354.5 98.3h0M350.5 86.9h0M356.1 47.1h0M351.4 87.6h0M353.9 107.3h0M359.0 117.9h0M355.1 122.4h0M358.8 76.3h0M350.8 86.8h0M354.9 71.7h0M354.9 15.0h0M346.1 13.7h0M355.5 117.3h0M350.7 21.4h0M348.0 54.6h0M356.4 97.9h0M349.6 120.2h0M346.6 13.2h0M350.9 120.0h0M350.7 90.2h0M348.8 36.2h0M351.1 90.6h0M354.9 91.5h0M347.4 51.8h0M354.5 67.9h0M357.2 72.0h0M348.4 82.8h0M354.5 62.1h0M354.7 74.2h0M358.3 64.0h0M351.8 26.9h0M346.4 43.6h0M345.8 82.5h0M347.6 38.6h0M357.1 105.6h0" stroke="#f0788a"/>
<path d="M360.7 16.2h0M369.6 16.1h0M359.6 29.4h0M360.6 24.4h0M363.5 17.2h0M364.8 23.4h0M366.9 15.5h0M364.5 25.2h0M362.8 23.6h0M367.3 12.4h0M360.2 12.3h0M368.3 11.5h0M359.5 28.2h0M359.7 29.3h0M361.8 28.9h0M362.5 12.4h0M364.1 24.0h0M363.3 29.8h0M368.4 29.1h0M362.3 23.3h0M367.3 17.7h0M365.9 28.5h0M370.3 64.3h0M357.6 89.1h0M362.7 64.7h0M364.4 59.4h0M358.5 86.9h0M367.1 68.7h0M361.4 71.0h0M362.0 72.6h0M365.3 65.2h0M370.5 62.1h0M363.5 50.1h0M370.1 65.8h0M365.3 82.8h0M358.9 60.8h0M366.8 82.0h0M358.3 85.4h0M365.0 79.3h0M366.9 94.9h0M367.7 67.0h0M363.9 58.1h0M360.0 63.9h0M369.3 87.2h0M362.3 92.0h0M358.1 76.9h0M363.0 58.2h0M368.3 81.0h0M365.2 50.6h0M369.2 95.4h0M361.9 91.7h0M360.6 80.5h0M363.2 55.4h0M367.7 85.0h0M360.4 57.5h0M360.2 57.2h0M366.4 81.5h0M357.6 68.0h0M357.7 94.0h0M360.9 54.3h0M369.2 91.7h0M367.0 55.9h0M363.5 61.6h0M367.1 83.0h0M359.5 58.1h0M368.6 79.8h0M358.7 65.5h0M365.0 54.1h0M365.2 89.9h0M365.6 109.5h0M360.1 122.9h0M362.5 126.5h0M363.5 116.5h0M361.5 115.2h0M363.6 122.7h0M362.7 109.1h0M361.0 124.6h0M358.5 117.7h0M360.1 109.4h0M368.9 129.7h0M359.5 121.7h0M370.3 128.1h0M367.8 109.6h0M361.5 111.6h0M362.4 117.6h0M365.9 108.3h0M362.7 112.1h0M368.3 117.6h0M358.5 128.2h0M369.2 126.6h0M363.8 122.9h0" stroke="#a04b00"/>
<path d="M84.6 98.1h0M69.0 27.9h0M133.0 17.6h0M95.5 43.3h0M74.7 75.1h0M116.8 24.7h0M228.8 16.2h0M52.5 72.0h0M74.0 17.0h0M85.8 38.6h0M142.1 69.8h0M80.6 78.2h0M147.8 46.2h0M82.5 102.4h0M80.5 107.8h0M80.5 35.2h0M91.6 40.9h0M135.9 27.4h0M175.4 9.8h0M129.3 87.0h0M99.0 40.7h0M96.5 50.8h0M97.9 31.0h0M87.8 52.8h0M92.0 120.2h0M200.9 20.4h0M149.7 37.8h0M169.7 18.2h0M104.3 53.1h0M87.4 28.4h0M148.0 29.3h0M116.7 47.5h0M107.4 32.3h0M123.3 68.6h0M127.5 87.4h0M120.1 6.6h0M62.5 24.4h0M121.6 67.9h0M115.0 90.4h0M113.9 113.9h0M127.1 54.3h0M99.1 59.9h0M146.9 19.4h0M71.5 102.0h0M95.4 114.3h0M107.3 88.0h0M181.9 35.6h0M156.0 14.3h0M98.6 37.4h0M75.4 19.3h0M103.9 27.1h0M90.6 101.1h0M155.1 57.8h0M188.4 26.9h0M98.4 18.7h0M153.8 33.7h0M158.7 55.0h0M88.4 15.9h0M206.6 29.3h0M108.2 63.1h0M78.6 98.7h0M107.6 91.7h0M117.7 117.9h0M114.6 116.6h0M81.4 99.3h0M118.0 115.7h0M112.2 102.5h0M118.1 89.3h0M95.0 112.9h0M51.4 48.8h0M50.0 16.2h0M51.4 89.9h0M51.2 97.6h0M50.9 16.5h0M51.6 31.7h0M52.2 35.6h0M52.2 37.5h0M50.2 87.0h0M50.2 38.0h0M50.8 10.2h0M51.7 77.1h0M50.2 53.9h0M50.4 82.6h0M50.5 68.3h0M51.2 97.6h0M52.2 52.9h0M51.5 53.5h0M51.2 95.7h0M51.2 23.8h0M51.4 42.3h0M51.8 97.9h0M51.0 98.8h0M51.4 82.1h0M51.9 71.6h0M50.8 83.9h0M50.8 89.3h0M50.1 65.9h0M50.4 51.9h0M51.4 56.0h0M52.0 36.0h0M51.0 41.8h0M51.2 78.6h0M51.5 10.9h0M51.0 88.2h0M51.8 33.1h0M50.3 60.8h0M50.3 24.1h0M52.3 82.5h0M51.5 76.9h0M49.9 24.2h0M51.2 51.6h0M52.0 53.5h0M52.1 62.0h0M52.3 9.8h0" stroke="#008000"/>
<path d="M53.8 65.0h0M68.8 88.0h0M58.8 72.0h0M404.5 183.1h0M459.7 158.2h0M427.8 164.1h0M450.4 161.9h0M451.4 159.3h0M416.1 171.4h0M393.6 189.7h0M443.9 162.2h0M433.8 168.9h0M423.7 159.7h0M392.6 187.7h0M382.8 185.7h0M441.8 166.9h0M409.1 170.5h0M425.7 159.2h0M372.6 199.8h0M492.1 146.0h0M437.3 168.4h0M427.0 165.5h0M419.2 169.4h0M475.2 153.5h0M404.0 184.0h0M378.9 201.6h0M384.9 191.9h0M402.2 183.1h0M384.6 191.8h0M392.4 185.1h0M391.5 192.4h0M447.6 156.1h0M380.0 189.1h0M367.6 201.0h0M403.5 182.1h0M441.8 165.9h0M457.6 159.8h0M444.6 153.4h0M407.6 181.5h0M402.3 175.4h0M412.4 177.8h0M400.8 177.8h0M414.2 165.2h0M446.5 162.7h0M469.4 153.2h0M412.9 169.0h0M411.3 168.7h0M385.0 189.7h0M412.0 169.4h0M411.5 175.3h0M382.0 186.3h0M468.3 153.1h0M387.1 189.5h0M463.3 154.5h0M422.6 158.3h0M364.6 204.9h0M405.6 177.8h0M494.7 143.5h0M455.1 156.1h0M468.9 154.9h0M433.6 163.4h0M432.1 167.4h0M465.3 155.8h0M422.7 170.0h0M389.2 183.8h0M437.5 163.1h0M464.4 150.3h0M429.1 168.7h0M431.7 164.3h0M438.9 164.5h0M479.0 146.8h0M430.5 161.7h0M362.2 206.2h0M436.5 166.9h0M440.6 161.9h0M425.4 162.0h0M418.2 171.6h0M418.5 174.8h0M375.6 193.2h0M410.0 172.2h0M413.5 172.5h0M463.1 150.5h0M431.3 170.8h0M366.9 202.7h0M449.3 159.1h0M385.5 195.4h0M476.0 149.1h0M422.9 165.1h0M423.9 164.1h0M409.2 174.2h0M447.6 159.6h0M375.2 201.0h0M407.2 172.7h0M472.8 149.5h0M429.2 159.3h0M406.5 183.1h0M440.9 158.2h0M399.2 179.7h0M486.8 114.7h0M466.9 139.0h0M470.1 134.6h0M471.8 121.6h0M489.4 138.5h0M479.0 146.3h0M496.1 134.3h0M497.1 146.8h0M479.4 126.5h0M487.8 142.3h0M484.9 138.8h0M492.8 111.9h0M490.4 96.8h0M485.1 134.7h0M463.5 133.3h0M495.7 112.5h0M496.8 113.9h0M457.6 144.3h0M483.8 120.4h0M492.9 107.2h0M488.9 140.5h0M488.2 124.0h0M485.7 118.0h0M477.5 116.5h0M468.2 127.7h0M468.1 141.4h0M476.8 128.5h0M475.8 149.1h0M474.9 141.0h0M469.1 130.0h0M475.1 118.1h0M463.4 134.2h0M485.3 143.2h0M492.2 114.9h0M472.9 143.8h0M482.2 123.0h0M489.7 114.8h0M470.0 139.6h0M486.5 125.8h0M488.6 126.4h0M478.5 148.8h0M495.1 94.2h0M478.3 135.3h0M463.9 131.8h0M463.8 130.4h0M495.3 113.1h0M495.0 108.6h0M472.7 126.0h0M473.8 127.1h0M465.0 146.9h0M464.9 143.2h0M485.5 115.0h0M477.6 138.0h0M486.0 134.8h0M486.1 128.7h0M491.8 137.3h0M491.2 134.4h0M482.1 121.1h0M496.4 139.3h0M465.3 138.4h0M457.9 145.8h0M493.4 111.2h0M490.6 105.8h0M457.1 147.7h0M472.3 124.0h0M490.6 112.2h0M487.9 106.5h0M483.9 144.0h0M486.7 147.8h0M470.2 132.9h0M459.8 138.5h0M481.2 123.9h0M477.2 135.5h0M479.5 134.2h0M491.8 132.9h0M463.0 140.0h0M463.5 145.3h0M478.3 141.6h0M495.1 143.3h0M485.3 148.9h0M473.8 126.3h0M474.4 117.4h0M495.8 120.9h0M496.9 133.8h0M473.8 126.9h0M488.2 104.3h0M459.8 145.0h0M482.9 122.5h0M475.0 138.1h0M471.7 140.8h0M495.6 117.6h0" stroke="#ff69b4"/>
<path d="M51.2 99.0h0" stroke="#a52a2a"/>
<path d="M483.2 13.7h0M481.3 19.9h0M484.1 8.5h0M480.2 29.8h0M478.6 21.0h0M480.0 26.3h0M491.5 16.2h0M488.5 22.2h0M484.2 16.2h0M489.5 10.0h0M476.8 13.9h0M489.0 16.8h0M486.5 8.7h0M483.5 25.3h0M489.5 24.2h0M484.6 20.8h0M491.2 17.6h0M492.3 16.8h0M492.3 22.0h0M491.0 28.6h0M478.4 10.8h0M481.4 27.7h0M476.8 28.9h0M479.2 28.8h0M482.9 13.6h0M481.5 36.6h0M489.5 48.7h0M479.1 51.7h0M487.0 35.1h0M486.3 55.5h0M481.5 52.1h0M485.7 49.1h0M481.0 52.3h0M489.0 34.0h0M477.2 34.1h0M486.7 37.0h0M490.2 59.7h0M483.3 54.3h0M477.8 49.0h0M483.2 54.3h0M483.0 36.9h0M485.0 37.1h0M487.0 34.3h0M490.1 55.7h0M478.5 47.0h0M482.1 49.9h0M487.5 41.4h0M490.6 55.0h0M487.1 40.6h0M490.1 41.4h0M485.7 46.5h0M476.5 42.5h0M478.1 36.7h0M484.5 79.5h0M486.7 77.0h0M487.7 71.3h0M489.2 79.4h0M489.5 74.6h0M489.6 71.9h0M486.8 82.4h0M483.0 73.3h0M484.2 72.3h0M485.2 76.4h0M485.0 100.2h0M481.5 91.6h0M483.2 88.7h0M483.1 101.2h0M485.6 89.4h0M480.8 102.9h0M487.0 91.1h0M482.2 93.8h0M481.0 105.6h0M488.5 87.0h0M482.0 85.7h0M484.9 91.9h0M484.7 103.3h0M478.3 104.2h0M483.6 96.6h0M480.4 96.1h0M481.5 91.2h0M478.8 126.7h0" stroke="#f0d98c"/>
<path d="M491.8 8.3h0M462.4 40.1h0M478.7 150.9h0M476.2 34.8h0M434.3 132.4h0M450.1 26.4h0M487.8 89.7h0M474.4 121.1h0M466.2 95.8h0M466.7 88.6h0M467.7 49.1h0M478.6 121.6h0M457.2 89.2h0M450.1 101.5h0M481.3 93.7h0M439.4 99.3h0M490.8 20.8h0M492.8 130.9h0M461.8 93.9h0M461.0 134.7h0M473.7 144.4h0M453.2 83.9h0M495.9 11.8h0M459.0 91.3h0M444.7 113.5h0M459.6 84.5h0M470.6 20.3h0M456.1 41.8h0M497.1 76.9h0M481.2 92.2h0M492.7 8.4h0M441.9 157.4h0M488.0 84.1h0M443.5 141.3h0M493.6 17.8h0M477.5 102.2h0M453.7 120.0h0M496.2 50.0h0M476.4 45.2h0M479.5 86.3h0M460.4 11.3h0M442.6 109.3h0M443.2 19.6h0M494.4 57.7h0M483.9 109.6h0M496.2 113.5h0M496.7 105.1h0M495.3 127.6h0M482.7 124.7h0M471.3 132.8h0M464.7 128.3h0M486.2 145.6h0M489.4 118.9h0M473.8 136.1h0M496.6 103.1h0M488.4 112.9h0M482.0 115.3h0M465.4 164.0h0M438.3 157.1h0M459.5 138.9h0M458.6 136.8h0M459.2 165.4h0M439.2 152.2h0M443.7 171.0h0M405.8 191.3h0M453.7 169.0h0M430.9 152.4h0M413.3 150.5h0M426.0 143.7h0M485.7 139.5h0" stroke="#5283b3"/>
</g></g>
<rect x="40.4" y="6.5" width="357.4" height="367.9" fill="none" stroke="#000" stroke-width="1.05"/>
<line x1="40.4" y1="374.4" x2="40.4" y2="377.9" stroke="#000" stroke-width="0.8"/>
<line x1="37.4" y1="374.4" x2="40.4" y2="374.4" stroke="#000" stroke-width="0.9"/>
<text transform="translate(40.90,396.00) scale(1.4100,1.8800)" font-size="10" fill="#000" stroke="#000" stroke-width="0.45" vector-effect="non-scaling-stroke"><tspan x="-6.50 -0.14" y="-0.00">10</tspan></text>
<text transform="translate(35.60,382.80) scale(1.4100,1.8800)" font-size="10" fill="#000" stroke="#000" stroke-width="0.45" vector-effect="non-scaling-stroke"><tspan x="-13.00 -6.64" y="-0.00">10</tspan></text>
<line x1="85.1" y1="374.4" x2="85.1" y2="377.9" stroke="#000" stroke-width="0.8"/>
<line x1="37.4" y1="328.4" x2="40.4" y2="328.4" stroke="#000" stroke-width="0.9"/>
<text transform="translate(85.58,396.00) scale(1.4100,1.8800)" font-size="10" fill="#000" stroke="#000" stroke-width="0.45" vector-effect="non-scaling-stroke"><tspan x="-6.50 -0.14" y="-0.00">20</tspan></text>
<text transform="translate(35.60,336.81) scale(1.4100,1.8800)" font-size="10" fill="#000" stroke="#000" stroke-width="0.45" vector-effect="non-scaling-stroke"><tspan x="-13.00 -6.64" y="-0.00">20</tspan></text>
<line x1="129.8" y1="374.4" x2="129.8" y2="377.9" stroke="#000" stroke-width="0.8"/>
<line x1="37.4" y1="282.4" x2="40.4" y2="282.4" stroke="#000" stroke-width="0.9"/>
<text transform="translate(130.25,396.00) scale(1.4100,1.8800)" font-size="10" fill="#000" stroke="#000" stroke-width="0.45" vector-effect="non-scaling-stroke"><tspan x="-6.50 -0.14" y="-0.00">30</tspan></text>
<text transform="translate(35.60,290.82) scale(1.4100,1.8800)" font-size="10" fill="#000" stroke="#000" stroke-width="0.45" vector-effect="non-scaling-stroke"><tspan x="-13.00 -6.64" y="-0.00">30</tspan></text>
<line x1="174.4" y1="374.4" x2="174.4" y2="377.9" stroke="#000" stroke-width="0.8"/>
<line x1="37.4" y1="236.4" x2="40.4" y2="236.4" stroke="#000" stroke-width="0.9"/>
<text transform="translate(174.93,396.00) scale(1.4100,1.8800)" font-size="10" fill="#000" stroke="#000" stroke-width="0.45" vector-effect="non-scaling-stroke"><tspan x="-6.50 -0.14" y="-0.00">40</tspan></text>
<text transform="translate(35.60,244.84) scale(1.4100,1.8800)" font-size="10" fill="#000" stroke="#000" stroke-width="0.45" vector-effect="non-scaling-stroke"><tspan x="-13.00 -6.64" y="-0.00">40</tspan></text>
<line x1="219.1" y1="374.4" x2="219.1" y2="377.9" stroke="#000" stroke-width="0.8"/>
<line x1="37.4" y1="190.4" x2="40.4" y2="190.4" stroke="#000" stroke-width="0.9"/>
<text transform="translate(219.60,396.00) scale(1.4100,1.8800)" font-size="10" fill="#000" stroke="#000" stroke-width="0.45" vector-effect="non-scaling-stroke"><tspan x="-6.50 -0.14" y="-0.00">50</tspan></text>
<text transform="translate(35.60,198.85) scale(1.4100,1.8800)" font-size="10" fill="#000" stroke="#000" stroke-width="0.45" vector-effect="non-scaling-stroke"><tspan x="-13.00 -6.64" y="-0.00">50</tspan></text>
<line x1="263.8" y1="374.4" x2="263.8" y2="377.9" stroke="#000" stroke-width="0.8"/>
<line x1="37.4" y1="144.5" x2="40.4" y2="144.5" stroke="#000" stroke-width="0.9"/>
<text transform="translate(264.27,396.00) scale(1.4100,1.8800)" font-size="10" fill="#000" stroke="#000" stroke-width="0.45" vector-effect="non-scaling-stroke"><tspan x="-6.50 -0.14" y="-0.00">60</tspan></text>
<text transform="translate(35.60,152.86) scale(1.4100,1.8800)" font-size="10" fill="#000" stroke="#000" stroke-width="0.45" vector-effect="non-scaling-stroke"><tspan x="-13.00 -6.64" y="-0.00">60</tspan></text>
<line x1="308.5" y1="374.4" x2="308.5" y2="377.9" stroke="#000" stroke-width="0.8"/>
<line x1="37.4" y1="98.5" x2="40.4" y2="98.5" stroke="#000" stroke-width="0.9"/>
<text transform="translate(308.95,396.00) scale(1.4100,1.8800)" font-size="10" fill="#000" stroke="#000" stroke-width="0.45" vector-effect="non-scaling-stroke"><tspan x="-6.50 -0.14" y="-0.00">70</tspan></text>
<text transform="translate(35.60,106.87) scale(1.4100,1.8800)" font-size="10" fill="#000" stroke="#000" stroke-width="0.45" vector-effect="non-scaling-stroke"><tspan x="-13.00 -6.64" y="-0.00">70</tspan></text>
<line x1="353.1" y1="374.4" x2="353.1" y2="377.9" stroke="#000" stroke-width="0.8"/>
<line x1="37.4" y1="52.5" x2="40.4" y2="52.5" stroke="#000" stroke-width="0.9"/>
<text transform="translate(353.62,396.00) scale(1.4100,1.8800)" font-size="10" fill="#000" stroke="#000" stroke-width="0.45" vector-effect="non-scaling-stroke"><tspan x="-6.50 -0.14" y="-0.00">80</tspan></text>
<text transform="translate(35.60,60.89) scale(1.4100,1.8800)" font-size="10" fill="#000" stroke="#000" stroke-width="0.45" vector-effect="non-scaling-stroke"><tspan x="-13.00 -6.64" y="-0.00">80</tspan></text>
<line x1="397.8" y1="374.4" x2="397.8" y2="377.9" stroke="#000" stroke-width="0.8"/>
<line x1="37.4" y1="6.5" x2="40.4" y2="6.5" stroke="#000" stroke-width="0.9"/>
<text transform="translate(398.30,396.00) scale(1.4100,1.8800)" font-size="10" fill="#000" stroke="#000" stroke-width="0.45" vector-effect="non-scaling-stroke"><tspan x="-6.50 -0.14" y="-0.00">90</tspan></text>
<text transform="translate(35.60,14.90) scale(1.4100,1.8800)" font-size="10" fill="#000" stroke="#000" stroke-width="0.45" vector-effect="non-scaling-stroke"><tspan x="-13.00 -6.64" y="-0.00">90</tspan></text>
<text transform="translate(219.60,419.00) scale(1.4100,1.8500)" font-size="10" fill="#000" stroke="#000" stroke-width="0.45" vector-effect="non-scaling-stroke"><tspan x="-23.50" y="-0.00" font-style="oblique">m</tspan><tspan x="-13.76" y="1.64" font-style="oblique" font-size="7">h</tspan><tspan x="-9.05 -5.87 -1.97 5.78 11.93 18.77" y="-0.00"> [GeV]</tspan></text>
<text transform="translate(10.70,191.20) rotate(-90) scale(1.9000,1.3000)" font-size="10" fill="#000" stroke="#000" stroke-width="0.45" vector-effect="non-scaling-stroke"><tspan x="-23.50" y="-0.00" font-style="oblique">m</tspan><tspan x="-13.76" y="1.64" font-style="oblique" font-size="7">a</tspan><tspan x="-9.20 -6.02 -2.12 5.63 11.79 18.63" y="-0.00"> [GeV]</tspan></text>
<text transform="translate(62.30,258.20) scale(1.4300,1.7400)" font-size="10" fill="#000" stroke="#000" stroke-width="0.25" vector-effect="non-scaling-stroke"><tspan x="0.00 5.57" y="-0.00">Γ(</tspan><tspan x="9.47" y="-0.00" font-style="oblique">Z</tspan><tspan x="16.32" y="-0.00">→</tspan><tspan x="24.70 31.04" y="-0.00" font-style="oblique">ha</tspan><tspan x="37.17 43.02" y="-0.00">)&gt;</tspan><tspan x="53.34" y="-0.00" font-style="oblique">δ</tspan><tspan x="59.46" y="-0.00">Γ</tspan><tspan x="65.13" y="1.64" font-style="oblique" font-size="7">Z</tspan></text>
<text transform="translate(285.60,327.60) scale(1.4300,1.7400)" font-size="10" fill="#000" stroke="#000" stroke-width="0.35" vector-effect="non-scaling-stroke"><tspan x="0.00" y="-0.00" font-style="oblique">h</tspan><tspan x="6.34" y="-0.00">→</tspan><tspan x="14.72 20.84" y="-0.00" font-style="oblique">aa</tspan></text>
<text transform="translate(143.80,176.40) scale(1.2600,1.5300)" font-size="10" fill="#000" stroke="#000" stroke-width="0.45" vector-effect="non-scaling-stroke"><tspan x="0.00" y="-0.00">1</tspan><tspan x="6.36" y="-0.00" font-style="oblique">σ</tspan></text>
<text transform="translate(134.60,185.40) scale(1.2600,1.5300)" font-size="10" fill="#000" stroke="#000" stroke-width="0.45" vector-effect="non-scaling-stroke"><tspan x="0.00" y="-0.00">2</tspan><tspan x="6.36" y="-0.00" font-style="oblique">σ</tspan></text>
<rect x="403.5" y="13.7" width="280.8" height="259" rx="2" ry="2.4" fill="#fff" stroke="#d4d4d4" stroke-width="1"/>
<ellipse cx="417" cy="25.2" rx="2.1" ry="2.7" fill="#808080"/>
<text transform="translate(435.00,28.70) scale(0.9980,1.1450)" font-size="10" fill="#000" stroke="#000" stroke-width="0.25" vector-effect="non-scaling-stroke"><tspan x="0.00 6.35" y="-0.00" font-style="oblique">pp</tspan><tspan x="12.70" y="-0.00">→</tspan><tspan x="21.07" y="-0.00" font-style="oblique">h</tspan><tspan x="29.36 39.69 44.81 49.94 53.12" y="-0.00">+.., </tspan><tspan x="58.32" y="-0.00" font-style="oblique">h</tspan><tspan x="66.60 76.93 83.29" y="-0.00">=2 </tspan><tspan x="86.54 93.52 102.15" y="-0.00" font-style="oblique">CMS</tspan><tspan x="110.44" y="-0.00">−</tspan><tspan x="120.77 126.80 133.64" y="-0.00" font-style="oblique">PAS</tspan><tspan x="141.94" y="-0.00">−</tspan><tspan x="152.27 159.79 162.73" y="-0.00" font-style="oblique">HIG</tspan><tspan x="172.43 182.76 189.12 197.43 207.76 214.12 220.48" y="-0.00">−12−045</tspan></text>
<ellipse cx="417" cy="48.9" rx="2.1" ry="2.7" fill="#8db600"/>
<text transform="translate(435.00,52.40) scale(0.9980,1.1450)" font-size="10" fill="#000" stroke="#000" stroke-width="0.25" vector-effect="non-scaling-stroke"><tspan x="0.00" y="-0.00" font-style="oblique">e</tspan><tspan x="7.98" y="-4.53" font-size="7">+</tspan><tspan x="15.48" y="-0.00" font-style="oblique">e</tspan><tspan x="23.46" y="-4.53" font-size="7">−</tspan><tspan x="30.97" y="-0.00">→</tspan><tspan x="39.34 45.47" y="-0.00" font-style="oblique">ah</tspan><tspan x="51.81" y="-0.00">→</tspan><tspan x="60.19" y="-0.00" font-style="oblique">b</tspan><tspan x="66.54" y="-0.00" font-style="oblique">b</tspan><tspan x="67.44" y="-3.20" font-size="11">¯</tspan><tspan x="72.88" y="-0.00" font-style="oblique">b</tspan><tspan x="79.23" y="-0.00" font-style="oblique">b</tspan><tspan x="80.13" y="-3.20" font-size="11">¯</tspan><tspan x="85.58 88.76" y="-0.00">, </tspan><tspan x="93.95 100.29 106.44" y="-0.00" font-style="oblique">hep</tspan><tspan x="114.74" y="-0.00">−</tspan><tspan x="125.07 131.22" y="-0.00" font-style="oblique">ex</tspan><tspan x="137.14 140.51 146.87 153.23 159.59 165.96 172.32 178.68 185.04" y="-0.00">/0602042(</tspan><tspan x="188.94 194.52 200.83" y="-0.00" font-style="oblique">LEP</tspan><tspan x="206.86" y="-0.00">)</tspan></text>
<ellipse cx="417" cy="70.4" rx="2.1" ry="2.7" fill="#ff4500"/>
<text transform="translate(435.00,73.90) scale(0.9980,1.1450)" font-size="10" fill="#000" stroke="#000" stroke-width="0.25" vector-effect="non-scaling-stroke"><tspan x="0.00" y="-0.00" font-style="oblique">e</tspan><tspan x="7.98" y="-4.53" font-size="7">+</tspan><tspan x="15.48" y="-0.00" font-style="oblique">e</tspan><tspan x="23.46" y="-4.53" font-size="7">−</tspan><tspan x="30.97" y="-0.00">→</tspan><tspan x="39.34 45.68" y="-0.00" font-style="oblique">ha</tspan><tspan x="51.81" y="-0.00">→</tspan><tspan x="60.19 66.54 72.88 79.23" y="-0.00" font-style="oblique">bbbb</tspan><tspan x="85.58 88.76" y="-0.00">, </tspan><tspan x="93.95 100.29 106.44" y="-0.00" font-style="oblique">hep</tspan><tspan x="114.74" y="-0.00">−</tspan><tspan x="125.07 131.22" y="-0.00" font-style="oblique">ex</tspan><tspan x="137.14 140.51 146.87 153.23 159.59 165.96 172.32 178.68 185.04" y="-0.00">/0602042(</tspan><tspan x="188.94 194.52 200.83" y="-0.00" font-style="oblique">LEP</tspan><tspan x="206.86" y="-0.00">)</tspan></text>
<ellipse cx="417" cy="93.7" rx="2.1" ry="2.7" fill="#00ff00"/>
<text transform="translate(435.00,97.20) scale(0.9980,1.1450)" font-size="10" fill="#000" stroke="#000" stroke-width="0.25" vector-effect="non-scaling-stroke"><tspan x="0.00" y="-0.00" font-style="oblique">p</tspan><tspan x="6.35" y="-0.00" font-style="oblique">p</tspan><tspan x="7.25" y="-1.20" font-size="11">¯</tspan><tspan x="12.70" y="-0.00">→</tspan><tspan x="21.07" y="-0.00" font-style="oblique">h</tspan><tspan x="27.41 33.77" y="-0.00">1(</tspan><tspan x="37.68" y="-0.00" font-style="oblique">b</tspan><tspan x="44.02" y="-0.00">(</tspan><tspan x="47.92" y="-0.00" font-style="oblique">b</tspan><tspan x="48.82" y="-3.20" font-size="11">¯</tspan><tspan x="54.27 58.17 62.08 70.45" y="-0.00">))→(</tspan><tspan x="74.36 80.38" y="-0.00" font-style="oblique">ττ</tspan><tspan x="86.40 90.30" y="-0.00">)(</tspan><tspan x="94.20" y="-0.00" font-style="oblique">b</tspan><tspan x="100.55" y="-0.00">(</tspan><tspan x="104.45" y="-0.00" font-style="oblique">b</tspan><tspan x="105.35" y="-3.20" font-size="11">¯</tspan><tspan x="110.80 114.70 118.60 123.73" y="-0.00">)),(</tspan><tspan x="127.63" y="-0.00" font-style="oblique">D</tspan><tspan x="135.33 141.69" y="-0.00">0)</tspan></text>
<ellipse cx="417" cy="116.2" rx="2.1" ry="2.7" fill="#ff0000"/>
<text transform="translate(435.00,119.70) scale(0.9980,1.1450)" font-size="10" fill="#000" stroke="#000" stroke-width="0.25" vector-effect="non-scaling-stroke"><tspan x="0.00" y="-0.00" font-style="oblique">e</tspan><tspan x="7.98" y="-4.53" font-size="7">+</tspan><tspan x="15.48" y="-0.00" font-style="oblique">e</tspan><tspan x="23.46" y="-4.53" font-size="7">−</tspan><tspan x="30.97 39.34" y="-0.00">→(</tspan><tspan x="43.25" y="-0.00" font-style="oblique">h</tspan><tspan x="49.58" y="1.64" font-size="7">1</tspan><tspan x="54.31" y="-0.00">)</tspan><tspan x="58.21" y="-0.00" font-style="oblique">Z</tspan><tspan x="65.06 73.44" y="-0.00">→(</tspan><tspan x="77.34" y="-0.00" font-style="oblique">b</tspan><tspan x="83.69" y="-0.00" font-style="oblique">b</tspan><tspan x="84.59" y="-3.20" font-size="11">¯</tspan><tspan x="90.04" y="-0.00">)</tspan><tspan x="93.94" y="-0.00" font-style="oblique">Z</tspan><tspan x="100.79 103.97" y="-0.00">, </tspan><tspan x="109.16 115.50 121.65" y="-0.00" font-style="oblique">hep</tspan><tspan x="129.95" y="-0.00">−</tspan><tspan x="140.28 146.43" y="-0.00" font-style="oblique">ex</tspan><tspan x="152.35 155.72 162.08 168.44 174.80 181.17 187.53 193.89 200.25" y="-0.00">/0602042(</tspan><tspan x="204.15 209.73 216.04" y="-0.00" font-style="oblique">LEP</tspan><tspan x="222.07" y="-0.00">)</tspan></text>
<ellipse cx="417" cy="138.0" rx="2.1" ry="2.7" fill="#f0788a"/>
<text transform="translate(435.00,141.50) scale(0.9980,1.1450)" font-size="10" fill="#000" stroke="#000" stroke-width="0.25" vector-effect="non-scaling-stroke"><tspan x="0.00" y="-0.00" font-style="oblique">e</tspan><tspan x="7.98" y="-4.53" font-size="7">+</tspan><tspan x="15.48" y="-0.00" font-style="oblique">e</tspan><tspan x="23.46" y="-4.53" font-size="7">−</tspan><tspan x="30.97 39.34" y="-0.00">→(</tspan><tspan x="43.25" y="-0.00" font-style="oblique">h</tspan><tspan x="49.58" y="1.64" font-size="7">1</tspan><tspan x="54.31" y="-0.00">)</tspan><tspan x="58.21" y="-0.00" font-style="oblique">Z</tspan><tspan x="65.06" y="-0.00">→</tspan><tspan x="73.44 79.36 85.28" y="-0.00" font-style="oblique">γγZ</tspan><tspan x="92.13 95.31 100.50" y="-0.00">, (</tspan><tspan x="104.40 109.97 117.49 127.38 135.13 138.38 145.86 151.98 155.90 162.05" y="-0.00" font-style="oblique">LHWG Note </tspan><tspan x="165.30 171.66 178.02 184.38 192.69 203.02 209.38 215.75" y="-0.00">2002−02)</tspan></text>
<ellipse cx="417" cy="158.0" rx="2.1" ry="2.7" fill="#a04b00"/>
<text transform="translate(435.00,161.50) scale(0.9980,1.1450)" font-size="10" fill="#000" stroke="#000" stroke-width="0.25" vector-effect="non-scaling-stroke"><tspan x="0.00 6.35" y="-0.00" font-style="oblique">pp</tspan><tspan x="12.70" y="-0.00">→</tspan><tspan x="21.07 27.92 34.78" y="-0.00" font-style="oblique">VBF</tspan><tspan x="40.53" y="-0.00">,</tspan><tspan x="45.65" y="-0.00" font-style="oblique">h</tspan><tspan x="51.99" y="1.64" font-size="7">1</tspan><tspan x="56.72" y="-0.00">→</tspan><tspan x="65.10 74.99" y="-0.00" font-style="oblique">WW</tspan><tspan x="84.87" y="-0.00">[</tspan><tspan x="88.77 94.90 99.01 105.86 108.64" y="-0.00" font-style="oblique">arXiv</tspan><tspan x="116.51 121.83 128.19 134.55 140.91 147.28 150.45 156.82 163.18 169.54 175.90 182.27" y="-0.00">:1509.00389(</tspan><tspan x="186.17 193.01 199.12 204.69 211.53" y="-0.00" font-style="oblique">ATLAS</tspan><tspan x="217.88 221.78" y="-0.00">)]</tspan></text>
<ellipse cx="417" cy="178.4" rx="2.1" ry="2.7" fill="#008000"/>
<text transform="translate(435.00,181.90) scale(0.9980,1.1450)" font-size="10" fill="#000" stroke="#000" stroke-width="0.25" vector-effect="non-scaling-stroke"><tspan x="0.00 6.35" y="-0.00" font-style="oblique">pp</tspan><tspan x="12.70" y="-0.00">→</tspan><tspan x="21.07" y="-0.00" font-style="oblique">H</tspan><tspan x="28.59 33.04" y="1.64" font-style="oblique" font-size="7">SM</tspan><tspan x="39.35" y="-0.00">→</tspan><tspan x="47.73" y="-0.00" font-style="oblique">h</tspan><tspan x="54.07" y="1.64" font-size="7">1</tspan><tspan x="58.79" y="-0.00" font-style="oblique">h</tspan><tspan x="65.13" y="1.64" font-size="7">1</tspan><tspan x="69.86 78.24" y="-0.00">→4</tspan><tspan x="84.60" y="-0.00" font-style="oblique">τ</tspan><tspan x="90.62 93.80 98.99" y="-0.00">, [</tspan><tspan x="102.90 109.02 113.14 119.99 122.76" y="-0.00" font-style="oblique">arXiv</tspan><tspan x="130.63 135.95 142.31 148.67 155.03 161.40 164.58 170.94 177.30 183.66 190.02 196.39" y="-0.00">:1510.06534(</tspan><tspan x="200.29 207.27 215.90" y="-0.00" font-style="oblique">CMS</tspan><tspan x="222.25 226.15" y="-0.00">)]</tspan></text>
<ellipse cx="417" cy="198.6" rx="2.1" ry="2.7" fill="#ff69b4"/>
<text transform="translate(435.00,202.10) scale(0.9980,1.1450)" font-size="10" fill="#000" stroke="#000" stroke-width="0.25" vector-effect="non-scaling-stroke"><tspan x="0.00 6.35" y="-0.00" font-style="oblique">pp</tspan><tspan x="12.70" y="-0.00">→</tspan><tspan x="21.07" y="-0.00" font-style="oblique">h</tspan><tspan x="27.41" y="1.64" font-size="7">2</tspan><tspan x="32.14" y="-0.00">→</tspan><tspan x="40.52 47.37" y="-0.00" font-style="oblique">ZZ</tspan><tspan x="54.22" y="-0.00">→</tspan><tspan x="62.60 65.38 68.15 70.93" y="-0.00" font-style="oblique">llll</tspan><tspan x="73.71 78.84" y="-0.00">,[</tspan><tspan x="82.74 88.87 92.98 99.83 102.61" y="-0.00" font-style="oblique">arXiv</tspan><tspan x="110.47 115.79 122.15 128.52 134.88 141.24 144.42 150.78 157.14 163.51 169.87" y="-0.00">:1312.5353(</tspan><tspan x="173.77 180.75 189.38" y="-0.00" font-style="oblique">CMS</tspan><tspan x="195.73 199.63" y="-0.00">)]</tspan></text>
<ellipse cx="417" cy="220.0" rx="2.1" ry="2.7" fill="#a52a2a"/>
<text transform="translate(435.00,223.50) scale(0.9980,1.1450)" font-size="10" fill="#000" stroke="#000" stroke-width="0.25" vector-effect="non-scaling-stroke"><tspan x="0.00" y="-0.00" font-style="oblique">e</tspan><tspan x="7.98" y="-4.53" font-size="7">+</tspan><tspan x="15.48" y="-0.00" font-style="oblique">e</tspan><tspan x="23.46" y="-4.53" font-size="7">−</tspan><tspan x="30.97 39.34" y="-0.00">→(</tspan><tspan x="43.25" y="-0.00" font-style="oblique">h</tspan><tspan x="49.58" y="1.64" font-size="7">3</tspan><tspan x="54.31" y="-0.00">→</tspan><tspan x="62.69 69.04" y="-0.00" font-style="oblique">bb</tspan><tspan x="75.38 79.29" y="-0.00">)(</tspan><tspan x="83.19" y="-0.00" font-style="oblique">h</tspan><tspan x="89.53" y="1.64" font-size="7">1</tspan><tspan x="94.25" y="-0.00">→</tspan><tspan x="102.63 108.65" y="-0.00" font-style="oblique">ττ</tspan><tspan x="114.67 118.57 121.75" y="-0.00">), </tspan><tspan x="126.95 133.29 139.44" y="-0.00" font-style="oblique">hep</tspan><tspan x="147.73" y="-0.00">−</tspan><tspan x="158.06 164.21" y="-0.00" font-style="oblique">ex</tspan><tspan x="170.13 173.50 179.86 186.23 192.59 198.95 205.31 211.67 218.04" y="-0.00">/0602042(</tspan><tspan x="221.94 227.51 233.83" y="-0.00" font-style="oblique">LEP</tspan><tspan x="239.86" y="-0.00">)</tspan></text>
<ellipse cx="417" cy="240.3" rx="2.1" ry="2.7" fill="#f0d98c"/>
<text transform="translate(435.00,243.80) scale(0.9980,1.1450)" font-size="10" fill="#000" stroke="#000" stroke-width="0.25" vector-effect="non-scaling-stroke"><tspan x="0.00 6.35" y="-0.00" font-style="oblique">pp</tspan><tspan x="12.70" y="-0.00">→</tspan><tspan x="21.07" y="-0.00" font-style="oblique">h</tspan><tspan x="27.41 31.87" y="1.64" font-size="7">1 </tspan><tspan x="34.09 44.41 49.54 54.67 59.80" y="-0.00">+...→</tspan><tspan x="68.17 74.09" y="-0.00" font-style="oblique">γZ</tspan><tspan x="82.89 93.22 98.35 103.47 106.65 111.85" y="-0.00">+.., [</tspan><tspan x="115.75 121.88 125.99 132.84 135.62" y="-0.00" font-style="oblique">arXiv</tspan><tspan x="143.48 148.80 155.16 161.52 167.89 174.25 177.43 183.79 190.15 196.51 202.88" y="-0.00">:1402.3051(</tspan><tspan x="206.78 213.62 219.73 225.30 232.14" y="-0.00" font-style="oblique">ATLAS</tspan><tspan x="238.49 242.39" y="-0.00">)]</tspan></text>
<ellipse cx="417" cy="261.0" rx="2.1" ry="2.7" fill="#5283b3"/>
<text transform="translate(435.00,264.50) scale(0.9980,1.1450)" font-size="10" fill="#000" stroke="#000" stroke-width="0.25" vector-effect="non-scaling-stroke"><tspan x="0.00" y="-0.00">(</tspan><tspan x="3.90" y="-0.00" font-style="oblique">p</tspan><tspan x="10.25" y="-0.00" font-style="oblique">p</tspan><tspan x="11.15" y="-1.20" font-size="11">¯</tspan><tspan x="16.60" y="-0.00">→</tspan><tspan x="24.98" y="-0.00" font-style="oblique">h</tspan><tspan x="31.31" y="1.64" font-size="7">3</tspan><tspan x="36.04" y="-0.00">→</tspan><tspan x="44.42" y="-0.00" font-style="oblique">h</tspan><tspan x="50.76" y="1.64" font-size="7">2</tspan><tspan x="55.48" y="-0.00" font-style="oblique">h</tspan><tspan x="61.82" y="1.64" font-size="7">2</tspan><tspan x="66.55 74.93" y="-0.00">→4</tspan><tspan x="81.29" y="-0.00" font-style="oblique">μ</tspan><tspan x="87.65 90.83 96.03" y="-0.00">, [</tspan><tspan x="99.93 106.06 110.17 117.02 119.80" y="-0.00" font-style="oblique">arXiv</tspan><tspan x="127.66 132.98 139.34 145.70 152.07 158.43 161.61 167.97 174.33 180.69 187.06" y="-0.00">:0905.3381]</tspan></text>
</svg>
</body></html>
